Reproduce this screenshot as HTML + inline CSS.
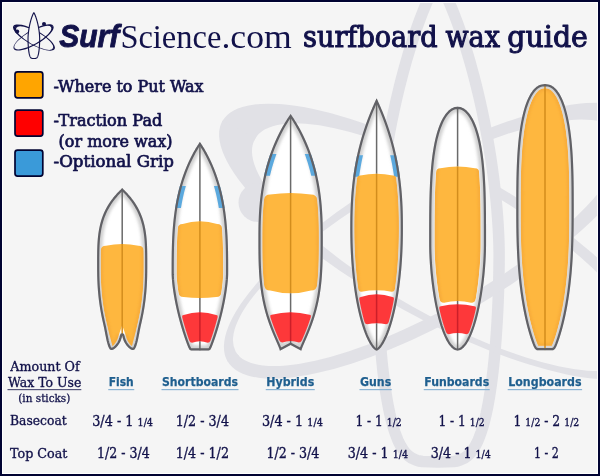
<!DOCTYPE html>
<html><head><meta charset="utf-8"><title>Surfboard Wax Guide</title>
<style>html,body{margin:0;padding:0;background:#f5f5f5;overflow:hidden;} svg{display:block;}</style>
</head><body>
<svg width="600" height="476" viewBox="0 0 600 476">
<defs><filter id="blur2" x="-20%" y="-20%" width="140%" height="140%"><feGaussianBlur stdDeviation="1.8"/></filter><filter id="blur1" x="-20%" y="-20%" width="140%" height="140%"><feGaussianBlur stdDeviation="1"/></filter>
<clipPath id="c0"><path d="M122.2,188.2 L122.52,188.5 L122.85,188.8 L123.17,189.1 L123.48,189.4 L123.8,189.7 L124.11,190 L124.41,190.3 L124.72,190.6 L125.02,190.9 L125.32,191.2 L126.1,192 L126.86,192.8 L127.61,193.6 L128.33,194.4 L129.04,195.2 L129.73,196 L130.39,196.8 L131.05,197.6 L131.68,198.4 L132.29,199.2 L132.89,200 L133.47,200.8 L135.18,203.3 L136.74,205.8 L138.15,208.3 L139.42,210.8 L140.57,213.3 L141.59,215.8 L142.5,218.3 L143.3,220.8 L144,223.3 L144.61,225.8 L145.14,228.3 L145.59,230.8 L145.97,233.3 L146.29,235.8 L146.55,238.3 L146.76,240.8 L146.92,243.3 L147.05,245.8 L147.14,248.3 L147.21,250.8 L147.25,253.3 L147.28,255.8 L147.3,258.3 L147.3,260.8 L147.3,263.3 L147.3,265.8 L147.3,268.3 L147.28,270.8 L147.25,273.3 L147.21,275.8 L147.14,278.3 L147.05,280.8 L146.94,283.3 L146.81,285.8 L146.64,288.3 L146.46,290.8 L146.24,293.3 L146,295.8 L145.73,298.3 L145.43,300.8 L145.1,303.3 L144.74,305.8 L144.35,308.3 L143.92,310.8 L143.47,313.3 L142.99,315.8 L142.48,318.3 L141.94,320.8 L141.38,323.3 L140.98,325 L140.53,327.03 L140.09,329.22 L139.64,331.54 L139.18,333.91 L138.72,336.3 L138.23,338.66 L137.73,340.93 L137.19,343.05 L136.63,345 L136.04,346.7 L135.4,348.11 L134.72,349.18 L133.99,349.86 L133.2,350.1 L132.32,350 L131.4,349.71 L130.45,349.24 L129.5,348.6 L128.54,347.81 L127.6,346.87 L126.69,345.8 L125.82,344.6 L125,343.3 L124.25,341.89 L123.58,340.4 L123.01,338.83 L122.54,337.19 L122.2,335.5 L121.86,337.19 L121.39,338.83 L120.82,340.4 L120.15,341.89 L119.4,343.3 L118.58,344.6 L117.71,345.8 L116.8,346.87 L115.86,347.81 L114.9,348.6 L113.95,349.24 L113,349.71 L112.08,350 L111.2,350.1 L110.41,349.86 L109.68,349.18 L109,348.11 L108.36,346.7 L107.77,345 L107.21,343.05 L106.67,340.93 L106.17,338.66 L105.68,336.3 L105.22,333.91 L104.76,331.54 L104.31,329.22 L103.87,327.03 L103.42,325 L103.02,323.3 L102.46,320.8 L101.92,318.3 L101.41,315.8 L100.93,313.3 L100.48,310.8 L100.05,308.3 L99.66,305.8 L99.3,303.3 L98.97,300.8 L98.67,298.3 L98.4,295.8 L98.16,293.3 L97.94,290.8 L97.76,288.3 L97.59,285.8 L97.46,283.3 L97.35,280.8 L97.26,278.3 L97.19,275.8 L97.15,273.3 L97.12,270.8 L97.1,268.3 L97.1,265.8 L97.1,263.3 L97.1,260.8 L97.1,258.3 L97.12,255.8 L97.15,253.3 L97.19,250.8 L97.26,248.3 L97.35,245.8 L97.48,243.3 L97.64,240.8 L97.85,238.3 L98.11,235.8 L98.43,233.3 L98.81,230.8 L99.26,228.3 L99.79,225.8 L100.4,223.3 L101.1,220.8 L101.9,218.3 L102.81,215.8 L103.83,213.3 L104.98,210.8 L106.25,208.3 L107.66,205.8 L109.22,203.3 L110.93,200.8 L111.51,200 L112.11,199.2 L112.72,198.4 L113.35,197.6 L114.01,196.8 L114.67,196 L115.36,195.2 L116.07,194.4 L116.79,193.6 L117.54,192.8 L118.3,192 L119.08,191.2 L119.38,190.9 L119.68,190.6 L119.99,190.3 L120.29,190 L120.6,189.7 L120.92,189.4 L121.23,189.1 L121.55,188.8 L121.88,188.5 Z"/></clipPath>
<clipPath id="w0"><path d="M122.2,193.1 L120.08,191.14 L120.39,191.43 L120.69,191.72 L121,192.01 L121.3,192.29 L121.6,192.58 L121.89,192.87 L122.18,193.16 L122.47,193.45 L122.76,193.73 L123.51,194.5 L124.24,195.27 L124.96,196.03 L125.65,196.8 L126.32,197.56 L126.98,198.33 L127.62,199.09 L128.24,199.85 L128.84,200.61 L129.43,201.38 L129.99,202.14 L130.53,202.88 L132.17,205.27 L133.64,207.64 L134.98,210 L136.18,212.37 L137.26,214.73 L138.23,217.1 L139.09,219.46 L139.85,221.84 L140.52,224.21 L141.1,226.6 L141.61,228.99 L142.04,231.39 L142.4,233.8 L142.71,236.21 L142.96,238.64 L143.17,241.07 L143.33,243.51 L143.45,245.96 L143.54,248.42 L143.61,250.88 L143.65,253.35 L143.68,255.83 L143.7,258.32 L143.7,260.81 L143.7,263.3 L143.7,265.8 L143.7,268.29 L143.68,270.77 L143.65,273.24 L143.61,275.72 L143.54,278.19 L143.45,280.66 L143.35,283.12 L143.21,285.59 L143.05,288.05 L142.87,290.51 L142.66,292.97 L142.42,295.43 L142.15,297.89 L141.86,300.35 L141.53,302.81 L141.18,305.26 L140.79,307.72 L140.38,310.18 L139.93,312.64 L139.46,315.1 L138.96,317.56 L138.43,320.02 L137.87,322.49 L137.47,324.2 L137.01,326.28 L136.56,328.52 L136.1,330.85 L135.65,333.23 L135.19,335.6 L134.71,337.9 L134.22,340.1 L133.72,342.12 L133.2,343.9 L132.69,345.36 L132.22,346.39 L131.93,346.86 L132.14,346.66 L132.87,346.44 L133.07,346.46 L132.75,346.36 L132.26,346.12 L131.65,345.71 L130.97,345.15 L130.25,344.43 L129.52,343.57 L128.8,342.59 L128.12,341.5 L127.49,340.31 L126.92,339.05 L126.44,337.72 L126.04,336.34 L122.2,325.21 L118.36,336.34 L117.96,337.72 L117.48,339.05 L116.91,340.31 L116.28,341.5 L115.6,342.59 L114.88,343.57 L114.15,344.43 L113.43,345.15 L112.75,345.71 L112.14,346.12 L111.65,346.36 L111.33,346.46 L111.53,346.44 L112.26,346.66 L112.47,346.86 L112.18,346.39 L111.71,345.36 L111.2,343.9 L110.68,342.12 L110.18,340.1 L109.69,337.9 L109.21,335.6 L108.75,333.23 L108.3,330.85 L107.84,328.52 L107.39,326.28 L106.93,324.2 L106.53,322.49 L105.97,320.02 L105.44,317.56 L104.94,315.1 L104.47,312.64 L104.02,310.18 L103.61,307.72 L103.22,305.26 L102.87,302.81 L102.54,300.35 L102.25,297.89 L101.98,295.43 L101.74,292.97 L101.53,290.51 L101.35,288.05 L101.19,285.59 L101.05,283.12 L100.95,280.66 L100.86,278.19 L100.79,275.72 L100.75,273.24 L100.72,270.77 L100.7,268.29 L100.7,265.8 L100.7,263.3 L100.7,260.81 L100.7,258.32 L100.72,255.83 L100.75,253.35 L100.79,250.88 L100.86,248.42 L100.95,245.96 L101.07,243.51 L101.23,241.07 L101.44,238.64 L101.69,236.21 L102,233.8 L102.36,231.39 L102.79,228.99 L103.3,226.6 L103.88,224.21 L104.55,221.84 L105.31,219.46 L106.17,217.1 L107.14,214.73 L108.22,212.37 L109.42,210 L110.76,207.64 L112.23,205.27 L113.87,202.88 L114.41,202.14 L114.97,201.38 L115.56,200.61 L116.16,199.85 L116.78,199.09 L117.42,198.33 L118.08,197.56 L118.75,196.8 L119.44,196.03 L120.16,195.27 L120.89,194.5 L121.64,193.73 L121.93,193.45 L122.22,193.16 L122.51,192.87 L122.8,192.58 L123.1,192.29 L123.4,192.01 L123.71,191.72 L124.01,191.43 L124.32,191.14 Z"/></clipPath>
<clipPath id="wx0"><path d="M105.95,245.8 Q122.2,242.2 138.45,245.8 Q143.45,245.8 143.61,250.8 L143.67,254.41 L143.69,258.01 L143.7,261.62 L143.7,265.22 L143.7,268.82 L143.67,272.43 L143.6,276.04 L143.5,279.64 L143.34,283.25 L143.14,286.85 L142.89,290.45 L142.57,294.06 L142.2,297.67 L141.77,301.27 L141.27,304.88 L140.72,308.48 L140.1,312.08 L139.41,315.69 L138.67,319.3 L137.87,322.9 L137.02,326.5 L136.12,330.11 L135.18,333.72 L134.21,337.32 L133.24,340.93 L132.29,344.53 L131.43,348.13 L131.1,351.74 L131.1,355.35 L131.1,358.95 L131.1,362.56 L131.1,366.16 L131.1,369.76 L131.1,373.37 L131.1,376.98 L131.1,380.58 L131.1,384.19 L131.1,387.79 L131.1,391.39 L131.1,395 Q131.1,400 126.1,400 Q122.2,400 118.3,400 Q113.3,400 113.3,395 L113.3,391.39 L113.3,387.79 L113.3,384.19 L113.3,380.58 L113.3,376.98 L113.3,373.37 L113.3,369.76 L113.3,366.16 L113.3,362.56 L113.3,358.95 L113.3,355.35 L113.3,351.74 L112.97,348.13 L112.11,344.53 L111.16,340.93 L110.19,337.32 L109.22,333.72 L108.28,330.11 L107.38,326.5 L106.53,322.9 L105.73,319.3 L104.99,315.69 L104.3,312.08 L103.68,308.48 L103.13,304.88 L102.63,301.27 L102.2,297.67 L101.83,294.06 L101.51,290.45 L101.26,286.85 L101.06,283.25 L100.9,279.64 L100.8,276.04 L100.73,272.43 L100.7,268.82 L100.7,265.22 L100.7,261.62 L100.71,258.01 L100.73,254.41 L100.79,250.8 Q100.95,245.8 105.95,245.8 Z"/></clipPath>
<clipPath id="c1"><path d="M199.9,142.1 L200.14,142.4 L200.36,142.7 L200.58,143 L200.79,143.3 L201,143.6 L201.21,143.9 L201.41,144.2 L201.61,144.5 L201.81,144.8 L202.01,145.1 L202.53,145.9 L203.04,146.7 L203.53,147.5 L204.02,148.3 L204.5,149.1 L204.97,149.9 L205.43,150.7 L205.88,151.5 L206.33,152.3 L206.77,153.1 L207.2,153.9 L207.63,154.7 L208.92,157.2 L210.15,159.7 L211.32,162.2 L212.43,164.7 L213.49,167.2 L214.5,169.7 L215.46,172.2 L216.38,174.7 L217.25,177.2 L218.07,179.7 L218.85,182.2 L219.59,184.7 L220.29,187.2 L220.95,189.7 L221.57,192.2 L222.15,194.7 L222.7,197.2 L223.22,199.7 L223.7,202.2 L224.15,204.7 L224.57,207.2 L224.96,209.7 L225.32,212.2 L225.65,214.7 L225.95,217.2 L226.24,219.7 L226.49,222.2 L226.73,224.7 L226.94,227.2 L227.13,229.7 L227.3,232.2 L227.45,234.7 L227.58,237.2 L227.7,239.7 L227.8,242.2 L227.89,244.7 L227.96,247.2 L228.02,249.7 L228.07,252.2 L228.11,254.7 L228.14,257.2 L228.17,259.7 L228.18,262.2 L228.19,264.7 L228.2,267.2 L228.2,269.7 L228.2,272.2 L228.18,274.7 L228.06,277.2 L227.89,279.7 L227.66,282.2 L227.4,284.7 L227.1,287.2 L226.77,289.7 L226.4,292.2 L226.01,294.7 L225.58,297.2 L225.13,299.7 L224.65,302.2 L224.14,304.7 L223.61,307.2 L223.05,309.7 L222.47,312.2 L221.86,314.7 L221.23,317.2 L220.57,319.7 L219.89,322.2 L219.19,324.7 L218.46,327.2 L217.71,329.7 L216.93,332.2 L216.12,334.7 L215.29,337.2 L214.42,339.7 L213.53,342.2 L212.59,344.7 L211.61,347.2 L210.59,349.3 L210.25,349.66 L209.89,349.96 L209.51,350.19 L209.11,350.35 L208.71,350.4 L199.9,350.4 L191.09,350.4 L190.69,350.35 L190.29,350.19 L189.91,349.96 L189.55,349.66 L189.21,349.3 L188.19,347.2 L187.21,344.7 L186.27,342.2 L185.38,339.7 L184.51,337.2 L183.68,334.7 L182.87,332.2 L182.09,329.7 L181.34,327.2 L180.61,324.7 L179.91,322.2 L179.23,319.7 L178.57,317.2 L177.94,314.7 L177.33,312.2 L176.75,309.7 L176.19,307.2 L175.66,304.7 L175.15,302.2 L174.67,299.7 L174.22,297.2 L173.79,294.7 L173.4,292.2 L173.03,289.7 L172.7,287.2 L172.4,284.7 L172.14,282.2 L171.91,279.7 L171.74,277.2 L171.62,274.7 L171.6,272.2 L171.6,269.7 L171.6,267.2 L171.61,264.7 L171.62,262.2 L171.63,259.7 L171.66,257.2 L171.69,254.7 L171.73,252.2 L171.78,249.7 L171.84,247.2 L171.91,244.7 L172,242.2 L172.1,239.7 L172.22,237.2 L172.35,234.7 L172.5,232.2 L172.67,229.7 L172.86,227.2 L173.07,224.7 L173.31,222.2 L173.56,219.7 L173.85,217.2 L174.15,214.7 L174.48,212.2 L174.84,209.7 L175.23,207.2 L175.65,204.7 L176.1,202.2 L176.58,199.7 L177.1,197.2 L177.65,194.7 L178.23,192.2 L178.85,189.7 L179.51,187.2 L180.21,184.7 L180.95,182.2 L181.73,179.7 L182.55,177.2 L183.42,174.7 L184.34,172.2 L185.3,169.7 L186.31,167.2 L187.37,164.7 L188.48,162.2 L189.65,159.7 L190.88,157.2 L192.17,154.7 L192.6,153.9 L193.03,153.1 L193.47,152.3 L193.92,151.5 L194.37,150.7 L194.83,149.9 L195.3,149.1 L195.78,148.3 L196.27,147.5 L196.76,146.7 L197.27,145.9 L197.79,145.1 L197.99,144.8 L198.19,144.5 L198.39,144.2 L198.59,143.9 L198.8,143.6 L199.01,143.3 L199.22,143 L199.44,142.7 L199.66,142.4 Z"/></clipPath>
<clipPath id="w1"><path d="M199.9,150.1 L196.18,145.46 L196.33,145.66 L196.52,145.91 L196.7,146.18 L196.89,146.45 L197.08,146.72 L197.27,147 L197.46,147.28 L197.64,147.56 L197.82,147.83 L198.32,148.6 L198.8,149.36 L199.27,150.12 L199.74,150.88 L200.2,151.65 L200.65,152.42 L201.09,153.19 L201.53,153.95 L201.96,154.72 L202.38,155.49 L202.8,156.26 L203.2,157.02 L204.45,159.45 L205.64,161.86 L206.77,164.28 L207.85,166.7 L208.87,169.11 L209.85,171.53 L210.78,173.96 L211.67,176.38 L212.51,178.8 L213.31,181.23 L214.07,183.65 L214.78,186.08 L215.46,188.51 L216.1,190.94 L216.71,193.37 L217.28,195.81 L217.81,198.24 L218.31,200.68 L218.78,203.12 L219.22,205.56 L219.63,208 L220.01,210.44 L220.36,212.89 L220.69,215.33 L220.99,217.78 L221.26,220.23 L221.52,222.69 L221.75,225.14 L221.95,227.6 L222.14,230.06 L222.31,232.52 L222.46,234.98 L222.59,237.45 L222.7,239.92 L222.8,242.39 L222.89,244.86 L222.96,247.33 L223.02,249.81 L223.07,252.29 L223.11,254.77 L223.14,257.25 L223.17,259.74 L223.18,262.23 L223.19,264.72 L223.2,267.21 L223.2,269.7 L223.2,272.17 L223.18,274.56 L223.07,276.91 L222.9,279.31 L222.69,281.72 L222.43,284.14 L222.14,286.57 L221.82,289.01 L221.46,291.45 L221.07,293.89 L220.66,296.34 L220.21,298.78 L219.74,301.23 L219.25,303.68 L218.73,306.13 L218.18,308.59 L217.61,311.04 L217.01,313.5 L216.39,315.95 L215.74,318.41 L215.08,320.87 L214.38,323.32 L213.67,325.78 L212.93,328.23 L212.16,330.69 L211.37,333.14 L210.55,335.59 L209.71,338.04 L208.83,340.48 L207.92,342.91 L207.03,345.19 L206.43,346.42 L206.82,346.01 L206.95,345.9 L207.28,345.69 L207.88,345.47 L208.38,345.4 L199.9,345.4 L191.42,345.4 L191.92,345.47 L192.52,345.69 L192.85,345.9 L192.98,346.01 L193.37,346.42 L192.77,345.19 L191.88,342.91 L190.97,340.48 L190.09,338.04 L189.25,335.59 L188.43,333.14 L187.64,330.69 L186.87,328.23 L186.13,325.78 L185.42,323.32 L184.72,320.87 L184.06,318.41 L183.41,315.95 L182.79,313.5 L182.19,311.04 L181.62,308.59 L181.07,306.13 L180.55,303.68 L180.06,301.23 L179.59,298.78 L179.14,296.34 L178.73,293.89 L178.34,291.45 L177.98,289.01 L177.66,286.57 L177.37,284.14 L177.11,281.72 L176.9,279.31 L176.73,276.91 L176.62,274.56 L176.6,272.17 L176.6,269.7 L176.6,267.21 L176.61,264.72 L176.62,262.23 L176.63,259.74 L176.66,257.25 L176.69,254.77 L176.73,252.29 L176.78,249.81 L176.84,247.33 L176.91,244.86 L177,242.39 L177.1,239.92 L177.21,237.45 L177.34,234.98 L177.49,232.52 L177.66,230.06 L177.85,227.6 L178.05,225.14 L178.28,222.69 L178.54,220.23 L178.81,217.78 L179.11,215.33 L179.44,212.89 L179.79,210.44 L180.17,208 L180.58,205.56 L181.02,203.12 L181.49,200.68 L181.99,198.24 L182.52,195.81 L183.09,193.37 L183.7,190.94 L184.34,188.51 L185.02,186.08 L185.73,183.65 L186.49,181.23 L187.29,178.8 L188.13,176.38 L189.02,173.96 L189.95,171.53 L190.93,169.11 L191.95,166.7 L193.03,164.28 L194.16,161.86 L195.35,159.45 L196.6,157.02 L197,156.26 L197.42,155.49 L197.84,154.72 L198.27,153.95 L198.71,153.19 L199.15,152.42 L199.6,151.65 L200.06,150.88 L200.53,150.12 L201,149.36 L201.48,148.6 L201.98,147.83 L202.16,147.56 L202.34,147.28 L202.53,147 L202.72,146.72 L202.91,146.45 L203.1,146.18 L203.28,145.91 L203.47,145.66 L203.62,145.46 Z"/></clipPath>
<clipPath id="g1"><path d="M0,186.3 L600,185.5 L600,208 L0,208 Z"/></clipPath>
<clipPath id="wx1"><path d="M182.64,224 Q199.9,218.4 217.16,224 Q221.66,224 222.04,228.5 L222.16,230.1 L222.27,231.7 L222.37,233.3 L222.46,234.9 L222.55,236.5 L222.63,238.1 L222.7,239.7 L222.77,241.3 L222.83,242.9 L222.88,244.5 L222.93,246.1 L222.97,247.7 L223.01,249.3 L223.05,250.9 L223.08,252.5 L223.1,254.1 L223.13,255.7 L223.14,257.3 L223.16,258.9 L223.17,260.5 L223.18,262.1 L223.19,263.7 L223.19,265.3 L223.2,266.9 L223.2,268.5 L223.2,270.1 L223.2,271.7 L223.2,273.3 L223.17,274.9 L223.1,276.5 L223,278.1 L222.89,279.7 L222.75,281.3 L222.59,282.9 L222.42,284.5 L222.24,286.1 L222.04,287.7 L221.83,289.3 L221.6,290.9 L221.36,292.5 Q220.62,297 216.12,297 Q199.9,299.2 183.68,297 Q179.18,297 178.44,292.5 L178.2,290.9 L177.97,289.3 L177.76,287.7 L177.56,286.1 L177.38,284.5 L177.21,282.9 L177.05,281.3 L176.91,279.7 L176.8,278.1 L176.7,276.5 L176.63,274.9 L176.6,273.3 L176.6,271.7 L176.6,270.1 L176.6,268.5 L176.6,266.9 L176.61,265.3 L176.61,263.7 L176.62,262.1 L176.63,260.5 L176.64,258.9 L176.66,257.3 L176.67,255.7 L176.7,254.1 L176.72,252.5 L176.75,250.9 L176.79,249.3 L176.83,247.7 L176.87,246.1 L176.92,244.5 L176.97,242.9 L177.03,241.3 L177.1,239.7 L177.17,238.1 L177.25,236.5 L177.34,234.9 L177.43,233.3 L177.53,231.7 L177.64,230.1 L177.76,228.5 Q178.14,224 182.64,224 Z"/></clipPath>
<clipPath id="pd1"><path d="M183.64,315.1 Q199.9,309.5 216.16,315.1 Q218.16,315.1 217.66,317.1 L217.5,317.69 L217.35,318.29 L217.19,318.88 L217.04,319.47 L216.88,320.06 L216.72,320.66 L216.56,321.25 L216.39,321.84 L216.23,322.43 L216.06,323.03 L215.9,323.62 L215.73,324.21 L215.56,324.8 L215.39,325.4 L215.22,325.99 L215.04,326.58 L214.87,327.17 L214.69,327.77 L214.51,328.36 L214.34,328.95 L214.15,329.54 L213.97,330.13 L213.79,330.73 L213.6,331.32 L213.42,331.91 L213.23,332.5 L213.04,333.1 L212.85,333.69 L212.66,334.28 L212.46,334.88 L212.27,335.47 L212.07,336.06 L211.87,336.65 L211.67,337.25 L211.47,337.84 L211.27,338.43 L211.06,339.02 L210.85,339.62 L210.64,340.21 L210.43,340.8 Q209.71,342.8 207.71,342.8 Q199.9,339.8 192.09,342.8 Q190.09,342.8 189.37,340.8 L189.16,340.21 L188.95,339.62 L188.74,339.02 L188.53,338.43 L188.33,337.84 L188.13,337.25 L187.93,336.65 L187.73,336.06 L187.53,335.47 L187.34,334.88 L187.14,334.28 L186.95,333.69 L186.76,333.1 L186.57,332.5 L186.38,331.91 L186.2,331.32 L186.01,330.73 L185.83,330.13 L185.65,329.54 L185.46,328.95 L185.29,328.36 L185.11,327.77 L184.93,327.17 L184.76,326.58 L184.58,325.99 L184.41,325.4 L184.24,324.8 L184.07,324.21 L183.9,323.62 L183.74,323.03 L183.57,322.43 L183.41,321.84 L183.24,321.25 L183.08,320.66 L182.92,320.06 L182.76,319.47 L182.61,318.88 L182.45,318.29 L182.3,317.69 L182.14,317.1 Q181.64,315.1 183.64,315.1 Z"/></clipPath>
<clipPath id="c2"><path d="M290.6,114.2 L290.85,114.5 L291.07,114.8 L291.3,115.1 L291.52,115.4 L291.73,115.7 L291.94,116 L292.15,116.3 L292.36,116.6 L292.57,116.9 L292.77,117.2 L292.97,117.5 L293.5,118.3 L294.02,119.1 L294.54,119.9 L295.04,120.7 L295.54,121.5 L296.02,122.3 L296.51,123.1 L296.98,123.9 L297.45,124.7 L297.91,125.5 L298.37,126.3 L299.75,128.8 L301.08,131.3 L302.35,133.8 L303.58,136.3 L304.75,138.8 L305.88,141.3 L306.96,143.8 L308,146.3 L309,148.8 L309.95,151.3 L310.86,153.8 L311.72,156.3 L312.55,158.8 L313.34,161.3 L314.09,163.8 L314.81,166.3 L315.48,168.8 L316.12,171.3 L316.73,173.8 L317.3,176.3 L317.84,178.8 L318.34,181.3 L318.81,183.8 L319.26,186.3 L319.67,188.8 L320.05,191.3 L320.4,193.8 L320.72,196.3 L321.02,198.8 L321.29,201.3 L321.53,203.8 L321.75,206.3 L321.94,208.8 L322.11,211.3 L322.26,213.8 L322.39,216.3 L322.5,218.8 L322.59,221.3 L322.66,223.8 L322.71,226.3 L322.75,228.8 L322.78,231.3 L322.79,233.8 L322.8,236.3 L322.8,238.8 L322.8,241.3 L322.8,243.8 L322.79,246.3 L322.78,248.8 L322.76,251.3 L322.74,253.8 L322.7,256.3 L322.66,258.8 L322.6,261.3 L322.52,263.8 L322.43,266.3 L322.32,268.8 L322.19,271.3 L322.04,273.8 L321.87,276.3 L321.67,278.8 L321.44,281.3 L321.19,283.8 L320.9,286.3 L320.59,288.8 L320.24,291.3 L319.86,293.8 L319.44,296.3 L318.98,298.8 L318.49,301.3 L317.95,303.8 L317.38,306.3 L316.76,308.8 L316.1,311.3 L315.4,313.8 L314.66,316.3 L313.87,318.8 L313.04,321.3 L312.16,323.8 L311.25,326.3 L310.29,328.8 L309.3,331.3 L308.27,333.8 L307.21,336.3 L306.13,338.8 L305.04,341.3 L303.95,343.8 L302.88,346.3 L301.88,348.8 L301.29,350.7 L290.6,345 L279.91,350.7 L279.32,348.8 L278.32,346.3 L277.25,343.8 L276.16,341.3 L275.07,338.8 L273.99,336.3 L272.93,333.8 L271.9,331.3 L270.91,328.8 L269.95,326.3 L269.04,323.8 L268.16,321.3 L267.33,318.8 L266.54,316.3 L265.8,313.8 L265.1,311.3 L264.44,308.8 L263.82,306.3 L263.25,303.8 L262.71,301.3 L262.22,298.8 L261.76,296.3 L261.34,293.8 L260.96,291.3 L260.61,288.8 L260.3,286.3 L260.01,283.8 L259.76,281.3 L259.53,278.8 L259.33,276.3 L259.16,273.8 L259.01,271.3 L258.88,268.8 L258.77,266.3 L258.68,263.8 L258.6,261.3 L258.54,258.8 L258.5,256.3 L258.46,253.8 L258.44,251.3 L258.42,248.8 L258.41,246.3 L258.4,243.8 L258.4,241.3 L258.4,238.8 L258.4,236.3 L258.41,233.8 L258.42,231.3 L258.45,228.8 L258.49,226.3 L258.54,223.8 L258.61,221.3 L258.7,218.8 L258.81,216.3 L258.94,213.8 L259.09,211.3 L259.26,208.8 L259.45,206.3 L259.67,203.8 L259.91,201.3 L260.18,198.8 L260.48,196.3 L260.8,193.8 L261.15,191.3 L261.53,188.8 L261.94,186.3 L262.39,183.8 L262.86,181.3 L263.36,178.8 L263.9,176.3 L264.47,173.8 L265.08,171.3 L265.72,168.8 L266.39,166.3 L267.11,163.8 L267.86,161.3 L268.65,158.8 L269.48,156.3 L270.34,153.8 L271.25,151.3 L272.2,148.8 L273.2,146.3 L274.24,143.8 L275.32,141.3 L276.45,138.8 L277.62,136.3 L278.85,133.8 L280.12,131.3 L281.45,128.8 L282.83,126.3 L283.29,125.5 L283.75,124.7 L284.22,123.9 L284.69,123.1 L285.18,122.3 L285.66,121.5 L286.16,120.7 L286.66,119.9 L287.18,119.1 L287.7,118.3 L288.23,117.5 L288.43,117.2 L288.63,116.9 L288.84,116.6 L289.05,116.3 L289.26,116 L289.47,115.7 L289.68,115.4 L289.9,115.1 L290.13,114.8 L290.35,114.5 Z"/></clipPath>
<clipPath id="w2"><path d="M290.6,120.35 L287.79,116.92 L287.96,117.15 L288.15,117.41 L288.35,117.68 L288.55,117.96 L288.75,118.24 L288.95,118.53 L289.15,118.81 L289.34,119.1 L289.54,119.38 L289.73,119.67 L290.24,120.44 L290.75,121.22 L291.24,121.99 L291.73,122.77 L292.21,123.54 L292.69,124.32 L293.16,125.1 L293.62,125.88 L294.08,126.66 L294.53,127.44 L294.96,128.21 L296.32,130.66 L297.62,133.1 L298.87,135.54 L300.06,137.99 L301.21,140.43 L302.31,142.88 L303.37,145.32 L304.39,147.77 L305.36,150.21 L306.29,152.66 L307.18,155.11 L308.03,157.55 L308.84,160 L309.61,162.45 L310.35,164.9 L311.05,167.34 L311.71,169.79 L312.34,172.24 L312.93,174.69 L313.49,177.14 L314.02,179.6 L314.51,182.05 L314.98,184.5 L315.41,186.95 L315.81,189.41 L316.19,191.86 L316.53,194.32 L316.85,196.78 L317.14,199.24 L317.41,201.7 L317.65,204.16 L317.86,206.62 L318.05,209.08 L318.22,211.55 L318.37,214.02 L318.49,216.48 L318.6,218.95 L318.69,221.42 L318.76,223.9 L318.81,226.37 L318.85,228.85 L318.88,231.33 L318.89,233.82 L318.9,236.31 L318.9,238.8 L318.9,241.3 L318.9,243.79 L318.89,246.29 L318.88,248.78 L318.86,251.27 L318.84,253.75 L318.8,256.24 L318.76,258.72 L318.7,261.2 L318.62,263.67 L318.53,266.14 L318.43,268.61 L318.3,271.08 L318.15,273.55 L317.98,276.01 L317.78,278.47 L317.56,280.93 L317.31,283.38 L317.03,285.84 L316.72,288.29 L316.38,290.74 L316.01,293.18 L315.6,295.63 L315.15,298.07 L314.67,300.51 L314.14,302.96 L313.58,305.4 L312.98,307.84 L312.34,310.28 L311.66,312.72 L310.93,315.16 L310.16,317.6 L309.35,320.04 L308.49,322.49 L307.6,324.93 L306.66,327.38 L305.68,329.84 L304.67,332.3 L303.63,334.77 L302.56,337.24 L301.47,339.74 L300.37,342.25 L299.27,344.81 L298.2,347.5 L298.97,345.04 L290.6,340.58 L282.23,345.04 L283,347.5 L281.93,344.81 L280.83,342.25 L279.73,339.74 L278.64,337.24 L277.57,334.77 L276.53,332.3 L275.52,329.84 L274.54,327.38 L273.6,324.93 L272.71,322.49 L271.85,320.04 L271.04,317.6 L270.27,315.16 L269.54,312.72 L268.86,310.28 L268.22,307.84 L267.62,305.4 L267.06,302.96 L266.53,300.51 L266.05,298.07 L265.6,295.63 L265.19,293.18 L264.82,290.74 L264.48,288.29 L264.17,285.84 L263.89,283.38 L263.64,280.93 L263.42,278.47 L263.22,276.01 L263.05,273.55 L262.9,271.08 L262.77,268.61 L262.67,266.14 L262.58,263.67 L262.5,261.2 L262.44,258.72 L262.4,256.24 L262.36,253.75 L262.34,251.27 L262.32,248.78 L262.31,246.29 L262.3,243.79 L262.3,241.3 L262.3,238.8 L262.3,236.31 L262.31,233.82 L262.32,231.33 L262.35,228.85 L262.39,226.37 L262.44,223.9 L262.51,221.42 L262.6,218.95 L262.71,216.48 L262.83,214.02 L262.98,211.55 L263.15,209.08 L263.34,206.62 L263.55,204.16 L263.79,201.7 L264.06,199.24 L264.35,196.78 L264.67,194.32 L265.01,191.86 L265.39,189.41 L265.79,186.95 L266.22,184.5 L266.69,182.05 L267.18,179.6 L267.71,177.14 L268.27,174.69 L268.86,172.24 L269.49,169.79 L270.15,167.34 L270.85,164.9 L271.59,162.45 L272.36,160 L273.17,157.55 L274.02,155.11 L274.91,152.66 L275.84,150.21 L276.81,147.77 L277.83,145.32 L278.89,142.88 L279.99,140.43 L281.14,137.99 L282.33,135.54 L283.58,133.1 L284.88,130.66 L286.24,128.21 L286.67,127.44 L287.12,126.66 L287.58,125.88 L288.04,125.1 L288.51,124.32 L288.99,123.54 L289.47,122.77 L289.96,121.99 L290.45,121.22 L290.96,120.44 L291.47,119.67 L291.66,119.38 L291.86,119.1 L292.05,118.81 L292.25,118.53 L292.45,118.24 L292.65,117.96 L292.85,117.68 L293.05,117.41 L293.24,117.15 L293.41,116.92 Z"/></clipPath>
<clipPath id="g2"><path d="M0,154.4 L600,153.6 L600,175.8 L0,175.8 Z"/></clipPath>
<clipPath id="wx2"><path d="M270.11,194.5 Q290.6,191.5 311.09,194.5 Q316.59,194.5 317.25,200 L317.47,202.12 L317.67,204.25 L317.85,206.38 L318.02,208.5 L318.17,210.62 L318.3,212.75 L318.42,214.88 L318.52,217 L318.61,219.12 L318.68,221.25 L318.75,223.38 L318.8,225.5 L318.83,227.62 L318.86,229.75 L318.88,231.88 L318.89,234 L318.9,236.12 L318.9,238.25 L318.9,240.38 L318.9,242.5 L318.89,244.62 L318.89,246.75 L318.88,248.88 L318.87,251 L318.85,253.12 L318.82,255.25 L318.78,257.38 L318.74,259.5 L318.69,261.62 L318.62,263.75 L318.55,265.88 L318.46,268 L318.36,270.12 L318.24,272.25 L318.1,274.38 L317.95,276.5 L317.78,278.62 L317.59,280.75 L317.38,282.88 L317.15,285 Q316.45,290.5 310.95,290.5 Q290.6,296.1 270.25,290.5 Q264.75,290.5 264.05,285 L263.82,282.88 L263.61,280.75 L263.42,278.62 L263.25,276.5 L263.1,274.38 L262.96,272.25 L262.84,270.12 L262.74,268 L262.65,265.88 L262.58,263.75 L262.51,261.62 L262.46,259.5 L262.42,257.38 L262.38,255.25 L262.35,253.12 L262.33,251 L262.32,248.88 L262.31,246.75 L262.31,244.62 L262.3,242.5 L262.3,240.38 L262.3,238.25 L262.3,236.12 L262.31,234 L262.32,231.88 L262.34,229.75 L262.37,227.62 L262.4,225.5 L262.45,223.38 L262.52,221.25 L262.59,219.12 L262.68,217 L262.78,214.88 L262.9,212.75 L263.03,210.62 L263.18,208.5 L263.35,206.38 L263.53,204.25 L263.73,202.12 L263.95,200 Q264.61,194.5 270.11,194.5 Z"/></clipPath>
<clipPath id="pd2"><path d="M271.69,314.8 Q290.6,309.6 309.51,314.8 Q311.51,314.8 310.9,316.8 L310.72,317.4 L310.53,317.99 L310.34,318.59 L310.15,319.18 L309.95,319.78 L309.75,320.37 L309.55,320.97 L309.35,321.56 L309.14,322.16 L308.94,322.75 L308.73,323.35 L308.51,323.94 L308.3,324.54 L308.08,325.13 L307.86,325.73 L307.64,326.32 L307.42,326.92 L307.19,327.51 L306.96,328.11 L306.73,328.7 L306.5,329.3 L306.26,329.89 L306.03,330.49 L305.79,331.08 L305.55,331.68 L305.3,332.27 L305.06,332.87 L304.81,333.46 L304.57,334.06 L304.32,334.65 L304.06,335.25 L303.81,335.84 L303.56,336.44 L303.3,337.03 L303.04,337.62 L302.79,338.22 L302.53,338.81 L302.27,339.41 L302.01,340 L301.75,340.6 Q300.87,342.6 298.87,342.6 Q290.6,339.6 282.33,342.6 Q280.33,342.6 279.45,340.6 L279.19,340 L278.93,339.41 L278.67,338.81 L278.41,338.22 L278.16,337.62 L277.9,337.03 L277.64,336.44 L277.39,335.84 L277.14,335.25 L276.88,334.65 L276.63,334.06 L276.39,333.46 L276.14,332.87 L275.9,332.27 L275.65,331.68 L275.41,331.08 L275.17,330.49 L274.94,329.89 L274.7,329.3 L274.47,328.7 L274.24,328.11 L274.01,327.51 L273.78,326.92 L273.56,326.32 L273.34,325.73 L273.12,325.13 L272.9,324.54 L272.69,323.94 L272.47,323.35 L272.26,322.75 L272.06,322.16 L271.85,321.56 L271.65,320.97 L271.45,320.37 L271.25,319.78 L271.05,319.18 L270.86,318.59 L270.67,317.99 L270.48,317.4 L270.3,316.8 Q269.69,314.8 271.69,314.8 Z"/></clipPath>
<clipPath id="c3"><path d="M376.6,98.4 L376.74,98.7 L376.89,99 L377.03,99.3 L377.17,99.6 L377.31,99.9 L377.45,100.2 L377.59,100.5 L377.73,100.8 L377.87,101.1 L378.01,101.4 L378.15,101.7 L378.51,102.5 L378.88,103.3 L379.24,104.1 L379.6,104.9 L379.95,105.7 L380.3,106.5 L380.65,107.3 L380.99,108.1 L381.34,108.9 L381.68,109.7 L382.01,110.5 L383.04,113 L384.04,115.5 L385.01,118 L385.95,120.5 L386.87,123 L387.75,125.5 L388.6,128 L389.43,130.5 L390.23,133 L391,135.5 L391.74,138 L392.46,140.5 L393.15,143 L393.81,145.5 L394.45,148 L395.06,150.5 L395.64,153 L396.2,155.5 L396.73,158 L397.24,160.5 L397.72,163 L398.18,165.5 L398.61,168 L399.03,170.5 L399.41,173 L399.78,175.5 L400.12,178 L400.44,180.5 L400.74,183 L401.01,185.5 L401.27,188 L401.5,190.5 L401.72,193 L401.91,195.5 L402.09,198 L402.24,200.5 L402.38,203 L402.5,205.5 L402.61,208 L402.7,210.5 L402.77,213 L402.83,215.5 L402.87,218 L402.9,220.5 L402.92,223 L402.93,225.5 L402.94,228 L402.93,230.5 L402.92,233 L402.89,235.5 L402.85,238 L402.8,240.5 L402.74,243 L402.66,245.5 L402.57,248 L402.47,250.5 L402.35,253 L402.22,255.5 L402.08,258 L401.92,260.5 L401.74,263 L401.55,265.5 L401.35,268 L401.13,270.5 L400.89,273 L400.64,275.5 L400.37,278 L400.08,280.5 L399.77,283 L399.45,285.5 L399.11,288 L398.74,290.5 L398.36,293 L397.96,295.5 L397.53,298 L397.08,300.5 L396.61,303 L396.12,305.5 L395.59,308 L395.04,310.5 L394.46,313 L393.85,315.5 L393.21,318 L392.53,320.5 L391.81,323 L391.05,325.5 L390.23,328 L389.37,330.5 L388.44,333 L387.44,335.5 L386.36,338 L385.16,340.5 L384.75,341.3 L384.32,342.1 L383.88,342.9 L383.41,343.7 L382.92,344.5 L382.4,345.3 L381.85,346.1 L381.26,346.9 L380.61,347.7 L380.35,348 L380.08,348.3 L379.79,348.6 L379.49,348.9 L379.16,349.2 L378.8,349.5 L378.41,349.8 L377.95,350.1 L377.37,350.4 L376.61,350.6 L376.59,350.6 L375.83,350.4 L375.25,350.1 L374.79,349.8 L374.4,349.5 L374.04,349.2 L373.71,348.9 L373.41,348.6 L373.12,348.3 L372.85,348 L372.59,347.7 L371.94,346.9 L371.35,346.1 L370.8,345.3 L370.28,344.5 L369.79,343.7 L369.32,342.9 L368.88,342.1 L368.45,341.3 L368.04,340.5 L366.84,338 L365.76,335.5 L364.76,333 L363.83,330.5 L362.97,328 L362.15,325.5 L361.39,323 L360.67,320.5 L359.99,318 L359.35,315.5 L358.74,313 L358.16,310.5 L357.61,308 L357.08,305.5 L356.59,303 L356.12,300.5 L355.67,298 L355.24,295.5 L354.84,293 L354.46,290.5 L354.09,288 L353.75,285.5 L353.43,283 L353.12,280.5 L352.83,278 L352.56,275.5 L352.31,273 L352.07,270.5 L351.85,268 L351.65,265.5 L351.46,263 L351.28,260.5 L351.12,258 L350.98,255.5 L350.85,253 L350.73,250.5 L350.63,248 L350.54,245.5 L350.46,243 L350.4,240.5 L350.35,238 L350.31,235.5 L350.28,233 L350.27,230.5 L350.26,228 L350.27,225.5 L350.28,223 L350.3,220.5 L350.33,218 L350.37,215.5 L350.43,213 L350.5,210.5 L350.59,208 L350.7,205.5 L350.82,203 L350.96,200.5 L351.11,198 L351.29,195.5 L351.48,193 L351.7,190.5 L351.93,188 L352.19,185.5 L352.46,183 L352.76,180.5 L353.08,178 L353.42,175.5 L353.79,173 L354.17,170.5 L354.59,168 L355.02,165.5 L355.48,163 L355.96,160.5 L356.47,158 L357,155.5 L357.56,153 L358.14,150.5 L358.75,148 L359.39,145.5 L360.05,143 L360.74,140.5 L361.46,138 L362.2,135.5 L362.97,133 L363.77,130.5 L364.6,128 L365.45,125.5 L366.33,123 L367.25,120.5 L368.19,118 L369.16,115.5 L370.16,113 L371.19,110.5 L371.52,109.7 L371.86,108.9 L372.21,108.1 L372.55,107.3 L372.9,106.5 L373.25,105.7 L373.6,104.9 L373.96,104.1 L374.32,103.3 L374.69,102.5 L375.05,101.7 L375.19,101.4 L375.33,101.1 L375.47,100.8 L375.61,100.5 L375.75,100.2 L375.89,99.9 L376.03,99.6 L376.17,99.3 L376.31,99 L376.46,98.7 Z"/></clipPath>
<clipPath id="w3"><path d="M376.6,107.7 L373.13,100.42 L373.27,100.71 L373.41,101.01 L373.55,101.3 L373.69,101.6 L373.83,101.9 L373.97,102.19 L374.1,102.49 L374.24,102.78 L374.38,103.08 L374.51,103.37 L374.88,104.16 L375.23,104.95 L375.59,105.74 L375.94,106.53 L376.29,107.31 L376.64,108.1 L376.98,108.89 L377.32,109.68 L377.66,110.47 L377.99,111.25 L378.32,112.04 L379.34,114.5 L380.32,116.97 L381.28,119.43 L382.2,121.89 L383.1,124.35 L383.97,126.81 L384.81,129.28 L385.63,131.74 L386.41,134.2 L387.17,136.66 L387.9,139.12 L388.61,141.58 L389.29,144.04 L389.94,146.51 L390.57,148.97 L391.17,151.43 L391.74,153.89 L392.29,156.35 L392.82,158.81 L393.32,161.28 L393.79,163.74 L394.24,166.2 L394.67,168.67 L395.08,171.13 L395.46,173.59 L395.82,176.06 L396.15,178.52 L396.47,180.99 L396.76,183.46 L397.03,185.92 L397.29,188.39 L397.52,190.86 L397.73,193.33 L397.92,195.8 L398.1,198.27 L398.25,200.74 L398.39,203.21 L398.51,205.68 L398.61,208.15 L398.7,210.63 L398.77,213.1 L398.83,215.58 L398.87,218.06 L398.9,220.54 L398.92,223.02 L398.93,225.51 L398.94,228 L398.93,230.48 L398.92,232.97 L398.89,235.45 L398.85,237.93 L398.8,240.41 L398.74,242.89 L398.66,245.37 L398.57,247.85 L398.47,250.32 L398.36,252.8 L398.23,255.28 L398.08,257.76 L397.93,260.23 L397.75,262.71 L397.56,265.19 L397.36,267.66 L397.14,270.14 L396.91,272.61 L396.66,275.08 L396.39,277.56 L396.11,280.03 L395.8,282.5 L395.48,284.97 L395.14,287.44 L394.79,289.91 L394.41,292.38 L394.01,294.85 L393.59,297.31 L393.15,299.78 L392.68,302.24 L392.2,304.7 L391.68,307.16 L391.14,309.62 L390.57,312.07 L389.97,314.53 L389.34,316.98 L388.68,319.42 L387.97,321.86 L387.23,324.3 L386.44,326.73 L385.6,329.15 L384.71,331.56 L383.75,333.96 L382.72,336.34 L381.58,338.72 L381.21,339.44 L380.81,340.19 L380.4,340.92 L379.98,341.65 L379.54,342.37 L379.08,343.08 L378.6,343.77 L378.1,344.45 L377.55,345.13 L377.36,345.34 L377.15,345.57 L376.94,345.79 L376.73,346 L376.51,346.2 L376.3,346.38 L376.1,346.53 L375.94,346.64 L375.93,346.64 L376.09,346.6 L377.11,346.6 L377.27,346.64 L377.26,346.64 L377.1,346.53 L376.9,346.38 L376.69,346.2 L376.47,346 L376.26,345.79 L376.05,345.57 L375.84,345.34 L375.65,345.13 L375.1,344.45 L374.6,343.77 L374.12,343.08 L373.66,342.37 L373.22,341.65 L372.8,340.92 L372.39,340.19 L371.99,339.44 L371.62,338.72 L370.48,336.34 L369.45,333.96 L368.49,331.56 L367.6,329.15 L366.76,326.73 L365.97,324.3 L365.23,321.86 L364.52,319.42 L363.86,316.98 L363.23,314.53 L362.63,312.07 L362.06,309.62 L361.52,307.16 L361,304.7 L360.52,302.24 L360.05,299.78 L359.61,297.31 L359.19,294.85 L358.79,292.38 L358.41,289.91 L358.06,287.44 L357.72,284.97 L357.4,282.5 L357.09,280.03 L356.81,277.56 L356.54,275.08 L356.29,272.61 L356.06,270.14 L355.84,267.66 L355.64,265.19 L355.45,262.71 L355.27,260.23 L355.12,257.76 L354.97,255.28 L354.84,252.8 L354.73,250.32 L354.63,247.85 L354.54,245.37 L354.46,242.89 L354.4,240.41 L354.35,237.93 L354.31,235.45 L354.28,232.97 L354.27,230.48 L354.26,228 L354.27,225.51 L354.28,223.02 L354.3,220.54 L354.33,218.06 L354.37,215.58 L354.43,213.1 L354.5,210.63 L354.59,208.15 L354.69,205.68 L354.81,203.21 L354.95,200.74 L355.1,198.27 L355.28,195.8 L355.47,193.33 L355.68,190.86 L355.91,188.39 L356.17,185.92 L356.44,183.46 L356.73,180.99 L357.05,178.52 L357.38,176.06 L357.74,173.59 L358.12,171.13 L358.53,168.67 L358.96,166.2 L359.41,163.74 L359.88,161.28 L360.38,158.81 L360.91,156.35 L361.46,153.89 L362.03,151.43 L362.63,148.97 L363.26,146.51 L363.91,144.04 L364.59,141.58 L365.3,139.12 L366.03,136.66 L366.79,134.2 L367.57,131.74 L368.39,129.28 L369.23,126.81 L370.1,124.35 L371,121.89 L371.92,119.43 L372.88,116.97 L373.86,114.5 L374.88,112.04 L375.21,111.25 L375.54,110.47 L375.88,109.68 L376.22,108.89 L376.56,108.1 L376.91,107.31 L377.26,106.53 L377.61,105.74 L377.97,104.95 L378.32,104.16 L378.69,103.37 L378.82,103.08 L378.96,102.78 L379.1,102.49 L379.23,102.19 L379.37,101.9 L379.51,101.6 L379.65,101.3 L379.79,101.01 L379.93,100.71 L380.07,100.42 Z"/></clipPath>
<clipPath id="g3"><path d="M0,155.8 L600,155 L600,176.8 L0,176.8 Z"/></clipPath>
<clipPath id="wx3"><path d="M360.41,175.6 Q376.6,172 392.79,175.6 Q395.79,175.6 396.2,178.6 L396.54,181.35 L396.86,184.1 L397.15,186.86 L397.42,189.61 L397.66,192.36 L397.88,195.11 L398.08,197.87 L398.25,200.62 L398.4,203.37 L398.53,206.12 L398.64,208.88 L398.73,211.63 L398.8,214.38 L398.86,217.13 L398.9,219.89 L398.92,222.64 L398.93,225.39 L398.94,228.14 L398.93,230.9 L398.91,233.65 L398.88,236.4 L398.83,239.15 L398.77,241.91 L398.69,244.66 L398.59,247.41 L398.48,250.16 L398.36,252.92 L398.21,255.67 L398.05,258.42 L397.87,261.18 L397.67,263.93 L397.46,266.68 L397.22,269.43 L396.97,272.19 L396.69,274.94 L396.4,277.69 L396.08,280.44 L395.75,283.19 L395.39,285.95 L395.01,288.7 Q394.56,291.7 391.56,291.7 Q376.6,288.9 361.64,291.7 Q358.64,291.7 358.19,288.7 L357.81,285.95 L357.45,283.19 L357.12,280.44 L356.8,277.69 L356.51,274.94 L356.23,272.19 L355.98,269.43 L355.74,266.68 L355.53,263.93 L355.33,261.18 L355.15,258.42 L354.99,255.67 L354.84,252.92 L354.72,250.16 L354.61,247.41 L354.51,244.66 L354.43,241.91 L354.37,239.15 L354.32,236.4 L354.29,233.65 L354.27,230.9 L354.26,228.14 L354.27,225.39 L354.28,222.64 L354.3,219.89 L354.34,217.13 L354.4,214.38 L354.47,211.63 L354.56,208.88 L354.67,206.12 L354.8,203.37 L354.95,200.62 L355.12,197.87 L355.32,195.11 L355.54,192.36 L355.78,189.61 L356.05,186.86 L356.34,184.1 L356.66,181.35 L357,178.6 Q357.41,175.6 360.41,175.6 Z"/></clipPath>
<clipPath id="pd3"><path d="M360.88,296.9 Q376.6,291.5 392.32,296.9 Q394.32,296.9 393.97,298.9 L393.87,299.48 L393.76,300.07 L393.65,300.65 L393.55,301.24 L393.44,301.82 L393.33,302.41 L393.21,303 L393.1,303.58 L392.98,304.16 L392.87,304.75 L392.75,305.33 L392.63,305.92 L392.51,306.5 L392.39,307.09 L392.26,307.68 L392.14,308.26 L392.01,308.84 L391.88,309.43 L391.75,310.01 L391.62,310.6 L391.49,311.19 L391.35,311.77 L391.22,312.36 L391.08,312.94 L390.94,313.52 L390.8,314.11 L390.65,314.69 L390.51,315.28 L390.36,315.87 L390.21,316.45 L390.06,317.04 L389.91,317.62 L389.75,318.2 L389.6,318.79 L389.44,319.38 L389.28,319.96 L389.12,320.55 L388.95,321.13 L388.78,321.72 L388.61,322.3 Q388.02,324.3 386.02,324.3 Q376.6,322.1 367.18,324.3 Q365.18,324.3 364.59,322.3 L364.42,321.72 L364.25,321.13 L364.08,320.55 L363.92,319.96 L363.76,319.38 L363.6,318.79 L363.45,318.2 L363.29,317.62 L363.14,317.04 L362.99,316.45 L362.84,315.87 L362.69,315.28 L362.55,314.69 L362.4,314.11 L362.26,313.52 L362.12,312.94 L361.98,312.36 L361.85,311.77 L361.71,311.19 L361.58,310.6 L361.45,310.01 L361.32,309.43 L361.19,308.84 L361.06,308.26 L360.94,307.68 L360.81,307.09 L360.69,306.5 L360.57,305.92 L360.45,305.33 L360.33,304.75 L360.22,304.16 L360.1,303.58 L359.99,303 L359.87,302.41 L359.76,301.82 L359.65,301.24 L359.55,300.65 L359.44,300.07 L359.33,299.48 L359.23,298.9 Q358.88,296.9 360.88,296.9 Z"/></clipPath>
<clipPath id="c4"><path d="M457.6,106.75 L460.21,107.05 L461.25,107.35 L462.05,107.65 L462.71,107.95 L463.29,108.25 L463.82,108.55 L464.29,108.85 L464.73,109.15 L465.15,109.45 L465.54,109.75 L465.9,110.05 L466.8,110.85 L467.6,111.65 L468.33,112.45 L469,113.25 L469.62,114.05 L470.2,114.85 L470.75,115.65 L471.27,116.45 L471.76,117.25 L472.22,118.05 L472.66,118.85 L473.93,121.35 L475.04,123.85 L476.04,126.35 L476.93,128.85 L477.74,131.35 L478.48,133.85 L479.15,136.35 L479.77,138.85 L480.34,141.35 L480.86,143.85 L481.33,146.35 L481.77,148.85 L482.18,151.35 L482.55,153.85 L482.9,156.35 L483.21,158.85 L483.51,161.35 L483.77,163.85 L484.02,166.35 L484.24,168.85 L484.45,171.35 L484.64,173.85 L484.81,176.35 L484.96,178.85 L485.1,181.35 L485.23,183.85 L485.34,186.35 L485.45,188.85 L485.54,191.35 L485.62,193.85 L485.69,196.35 L485.75,198.85 L485.81,201.35 L485.86,203.85 L485.9,206.35 L485.93,208.85 L485.96,211.35 L485.99,213.85 L486.01,216.35 L486.02,218.85 L486.03,221.35 L486.04,223.85 L486.05,226.35 L486.06,228.85 L486.06,231.35 L486.06,233.85 L486.06,236.35 L486.06,238.85 L486.06,241.35 L486.06,243.85 L486.05,246.35 L486.01,248.85 L485.95,251.35 L485.86,253.85 L485.76,256.35 L485.64,258.85 L485.5,261.35 L485.34,263.85 L485.16,266.35 L484.96,268.85 L484.75,271.35 L484.52,273.85 L484.27,276.35 L484.01,278.85 L483.72,281.35 L483.42,283.85 L483.1,286.35 L482.75,288.85 L482.39,291.35 L482.01,293.85 L481.61,296.35 L481.18,298.85 L480.73,301.35 L480.26,303.85 L479.76,306.35 L479.23,308.85 L478.68,311.35 L478.09,313.85 L477.47,316.35 L476.82,318.85 L476.12,321.35 L475.38,323.85 L474.6,326.35 L473.75,328.85 L472.84,331.35 L471.86,333.85 L470.78,336.35 L469.59,338.85 L469.18,339.65 L468.75,340.45 L468.3,341.25 L467.83,342.05 L467.34,342.85 L466.82,343.65 L466.27,344.45 L465.68,345.25 L465.04,346.05 L464.34,346.85 L463.56,347.65 L463.24,347.95 L462.91,348.25 L462.55,348.55 L462.16,348.85 L461.74,349.15 L461.27,349.45 L460.74,349.75 L460.11,350.05 L459.27,350.35 L457.6,350.6 L455.93,350.35 L455.09,350.05 L454.46,349.75 L453.93,349.45 L453.46,349.15 L453.04,348.85 L452.65,348.55 L452.29,348.25 L451.96,347.95 L451.64,347.65 L450.86,346.85 L450.16,346.05 L449.52,345.25 L448.93,344.45 L448.38,343.65 L447.86,342.85 L447.37,342.05 L446.9,341.25 L446.45,340.45 L446.02,339.65 L445.61,338.85 L444.42,336.35 L443.34,333.85 L442.36,331.35 L441.45,328.85 L440.6,326.35 L439.82,323.85 L439.08,321.35 L438.38,318.85 L437.73,316.35 L437.11,313.85 L436.52,311.35 L435.97,308.85 L435.44,306.35 L434.94,303.85 L434.47,301.35 L434.02,298.85 L433.59,296.35 L433.19,293.85 L432.81,291.35 L432.45,288.85 L432.1,286.35 L431.78,283.85 L431.48,281.35 L431.19,278.85 L430.93,276.35 L430.68,273.85 L430.45,271.35 L430.24,268.85 L430.04,266.35 L429.86,263.85 L429.7,261.35 L429.56,258.85 L429.44,256.35 L429.34,253.85 L429.25,251.35 L429.19,248.85 L429.15,246.35 L429.14,243.85 L429.14,241.35 L429.14,238.85 L429.14,236.35 L429.14,233.85 L429.14,231.35 L429.14,228.85 L429.15,226.35 L429.16,223.85 L429.17,221.35 L429.18,218.85 L429.19,216.35 L429.21,213.85 L429.24,211.35 L429.27,208.85 L429.3,206.35 L429.34,203.85 L429.39,201.35 L429.45,198.85 L429.51,196.35 L429.58,193.85 L429.66,191.35 L429.75,188.85 L429.86,186.35 L429.97,183.85 L430.1,181.35 L430.24,178.85 L430.39,176.35 L430.56,173.85 L430.75,171.35 L430.96,168.85 L431.18,166.35 L431.43,163.85 L431.69,161.35 L431.99,158.85 L432.3,156.35 L432.65,153.85 L433.02,151.35 L433.43,148.85 L433.87,146.35 L434.34,143.85 L434.86,141.35 L435.43,138.85 L436.05,136.35 L436.72,133.85 L437.46,131.35 L438.27,128.85 L439.16,126.35 L440.16,123.85 L441.27,121.35 L442.54,118.85 L442.98,118.05 L443.44,117.25 L443.93,116.45 L444.45,115.65 L445,114.85 L445.58,114.05 L446.2,113.25 L446.87,112.45 L447.6,111.65 L448.4,110.85 L449.3,110.05 L449.66,109.75 L450.05,109.45 L450.47,109.15 L450.91,108.85 L451.38,108.55 L451.91,108.25 L452.49,107.95 L453.15,107.65 L453.95,107.35 L454.99,107.05 Z"/></clipPath>
<clipPath id="w4"><path d="M457.6,112.19 L459.15,112.36 L459.55,112.48 L459.98,112.64 L460.36,112.81 L460.71,112.99 L461.03,113.18 L461.34,113.37 L461.63,113.57 L461.91,113.77 L462.18,113.98 L462.39,114.16 L463.09,114.78 L463.69,115.38 L464.26,116 L464.8,116.64 L465.31,117.3 L465.79,117.96 L466.25,118.64 L466.69,119.32 L467.12,120.02 L467.52,120.72 L467.89,121.38 L469.05,123.67 L470.07,125.95 L470.98,128.26 L471.82,130.59 L472.58,132.95 L473.28,135.32 L473.92,137.7 L474.51,140.09 L475.06,142.5 L475.56,144.91 L476.02,147.33 L476.45,149.75 L476.84,152.18 L477.21,154.62 L477.54,157.06 L477.85,159.5 L478.14,161.95 L478.4,164.4 L478.64,166.86 L478.86,169.31 L479.07,171.77 L479.25,174.24 L479.42,176.7 L479.57,179.17 L479.71,181.64 L479.84,184.11 L479.95,186.58 L480.05,189.06 L480.14,191.54 L480.22,194.02 L480.29,196.5 L480.36,198.98 L480.41,201.46 L480.46,203.95 L480.5,206.43 L480.53,208.92 L480.56,211.41 L480.59,213.9 L480.61,216.39 L480.62,218.88 L480.63,221.37 L480.64,223.87 L480.65,226.36 L480.66,228.86 L480.66,231.36 L480.66,233.85 L480.66,236.35 L480.66,238.85 L480.66,241.35 L480.66,243.84 L480.65,246.29 L480.61,248.74 L480.55,251.19 L480.47,253.65 L480.37,256.1 L480.25,258.56 L480.11,261.03 L479.95,263.49 L479.77,265.95 L479.58,268.41 L479.37,270.87 L479.14,273.34 L478.9,275.8 L478.64,278.26 L478.36,280.72 L478.06,283.18 L477.74,285.64 L477.41,288.1 L477.05,290.56 L476.68,293.01 L476.28,295.47 L475.86,297.92 L475.42,300.37 L474.96,302.82 L474.47,305.27 L473.96,307.71 L473.41,310.15 L472.84,312.58 L472.24,315.02 L471.61,317.44 L470.93,319.86 L470.22,322.27 L469.46,324.67 L468.65,327.06 L467.79,329.44 L466.86,331.79 L465.86,334.12 L464.75,336.45 L464.39,337.14 L464.01,337.86 L463.61,338.57 L463.2,339.27 L462.78,339.96 L462.33,340.64 L461.87,341.31 L461.39,341.96 L460.89,342.59 L460.37,343.19 L459.78,343.8 L459.6,343.97 L459.38,344.16 L459.16,344.34 L458.94,344.52 L458.71,344.68 L458.48,344.83 L458.25,344.95 L458.04,345.05 L457.95,345.09 L457.6,345.14 L457.25,345.09 L457.16,345.05 L456.95,344.95 L456.72,344.83 L456.49,344.68 L456.26,344.52 L456.04,344.34 L455.82,344.16 L455.6,343.97 L455.42,343.8 L454.83,343.19 L454.31,342.59 L453.81,341.96 L453.33,341.31 L452.87,340.64 L452.42,339.96 L452,339.27 L451.59,338.57 L451.19,337.86 L450.81,337.14 L450.45,336.45 L449.34,334.12 L448.34,331.79 L447.41,329.44 L446.55,327.06 L445.74,324.67 L444.98,322.27 L444.27,319.86 L443.59,317.44 L442.96,315.02 L442.36,312.58 L441.79,310.15 L441.24,307.71 L440.73,305.27 L440.24,302.82 L439.78,300.37 L439.34,297.92 L438.92,295.47 L438.52,293.01 L438.15,290.56 L437.79,288.1 L437.46,285.64 L437.14,283.18 L436.84,280.72 L436.56,278.26 L436.3,275.8 L436.06,273.34 L435.83,270.87 L435.62,268.41 L435.43,265.95 L435.25,263.49 L435.09,261.03 L434.95,258.56 L434.83,256.1 L434.73,253.65 L434.65,251.19 L434.59,248.74 L434.55,246.29 L434.54,243.84 L434.54,241.35 L434.54,238.85 L434.54,236.35 L434.54,233.85 L434.54,231.36 L434.54,228.86 L434.55,226.36 L434.56,223.87 L434.57,221.37 L434.58,218.88 L434.59,216.39 L434.61,213.9 L434.64,211.41 L434.67,208.92 L434.7,206.43 L434.74,203.95 L434.79,201.46 L434.84,198.98 L434.91,196.5 L434.98,194.02 L435.06,191.54 L435.15,189.06 L435.25,186.58 L435.36,184.11 L435.49,181.64 L435.63,179.17 L435.78,176.7 L435.95,174.24 L436.13,171.77 L436.34,169.31 L436.56,166.86 L436.8,164.4 L437.06,161.95 L437.35,159.5 L437.66,157.06 L437.99,154.62 L438.36,152.18 L438.75,149.75 L439.18,147.33 L439.64,144.91 L440.14,142.5 L440.69,140.09 L441.28,137.7 L441.92,135.32 L442.62,132.95 L443.38,130.59 L444.22,128.26 L445.13,125.95 L446.15,123.67 L447.31,121.38 L447.68,120.72 L448.08,120.02 L448.51,119.32 L448.95,118.64 L449.41,117.96 L449.89,117.3 L450.4,116.64 L450.94,116 L451.51,115.38 L452.11,114.78 L452.81,114.16 L453.02,113.98 L453.29,113.77 L453.57,113.57 L453.86,113.37 L454.17,113.18 L454.49,112.99 L454.84,112.81 L455.22,112.64 L455.65,112.48 L456.05,112.36 Z"/></clipPath>
<clipPath id="wx4"><path d="M440.4,168.3 Q457.6,164.9 474.8,168.3 Q478.8,168.3 479.12,172.3 L479.35,175.46 L479.55,178.62 L479.73,181.78 L479.88,184.95 L480.02,188.11 L480.14,191.27 L480.24,194.43 L480.32,197.59 L480.4,200.75 L480.46,203.91 L480.51,207.07 L480.55,210.24 L480.58,213.4 L480.61,216.56 L480.63,219.72 L480.64,222.88 L480.65,226.04 L480.66,229.2 L480.66,232.36 L480.66,235.53 L480.66,238.69 L480.66,241.85 L480.66,245.01 L480.63,248.17 L480.55,251.33 L480.44,254.49 L480.3,257.65 L480.13,260.81 L479.93,263.98 L479.7,267.14 L479.44,270.3 L479.16,273.46 L478.84,276.62 L478.5,279.78 L478.13,282.94 L477.73,286.11 L477.3,289.27 L476.83,292.43 L476.33,295.59 L475.8,298.75 Q475.07,302.75 471.07,302.75 Q457.6,299.25 444.13,302.75 Q440.13,302.75 439.4,298.75 L438.87,295.59 L438.37,292.43 L437.9,289.27 L437.47,286.11 L437.07,282.94 L436.7,279.78 L436.36,276.62 L436.04,273.46 L435.76,270.3 L435.5,267.14 L435.27,263.98 L435.07,260.81 L434.9,257.65 L434.76,254.49 L434.65,251.33 L434.57,248.17 L434.54,245.01 L434.54,241.85 L434.54,238.69 L434.54,235.53 L434.54,232.36 L434.54,229.2 L434.55,226.04 L434.56,222.88 L434.57,219.72 L434.59,216.56 L434.62,213.4 L434.65,210.24 L434.69,207.07 L434.74,203.91 L434.8,200.75 L434.88,197.59 L434.96,194.43 L435.06,191.27 L435.18,188.11 L435.32,184.95 L435.47,181.78 L435.65,178.62 L435.85,175.46 L436.08,172.3 Q436.4,168.3 440.4,168.3 Z"/></clipPath>
<clipPath id="pd4"><path d="M440.83,306.3 Q457.6,302.3 474.37,306.3 Q476.37,306.3 475.95,308.3 L475.82,308.9 L475.69,309.5 L475.56,310.1 L475.43,310.69 L475.29,311.29 L475.15,311.89 L475.02,312.49 L474.87,313.09 L474.73,313.69 L474.59,314.29 L474.44,314.89 L474.29,315.49 L474.14,316.08 L473.99,316.68 L473.83,317.28 L473.68,317.88 L473.52,318.48 L473.36,319.08 L473.19,319.68 L473.03,320.27 L472.86,320.87 L472.69,321.47 L472.51,322.07 L472.34,322.67 L472.16,323.27 L471.98,323.87 L471.79,324.47 L471.61,325.06 L471.42,325.66 L471.22,326.26 L471.03,326.86 L470.83,327.46 L470.62,328.06 L470.42,328.66 L470.21,329.26 L469.99,329.86 L469.78,330.45 L469.55,331.05 L469.33,331.65 L469.1,332.25 Q468.29,334.25 466.29,334.25 Q457.6,331.95 448.91,334.25 Q446.91,334.25 446.1,332.25 L445.87,331.65 L445.65,331.05 L445.42,330.45 L445.21,329.86 L444.99,329.26 L444.78,328.66 L444.58,328.06 L444.37,327.46 L444.17,326.86 L443.98,326.26 L443.78,325.66 L443.59,325.06 L443.41,324.47 L443.22,323.87 L443.04,323.27 L442.86,322.67 L442.69,322.07 L442.51,321.47 L442.34,320.87 L442.17,320.27 L442.01,319.68 L441.84,319.08 L441.68,318.48 L441.52,317.88 L441.37,317.28 L441.21,316.68 L441.06,316.08 L440.91,315.49 L440.76,314.89 L440.61,314.29 L440.47,313.69 L440.33,313.09 L440.18,312.49 L440.05,311.89 L439.91,311.29 L439.77,310.69 L439.64,310.1 L439.51,309.5 L439.38,308.9 L439.25,308.3 Q438.83,306.3 440.83,306.3 Z"/></clipPath>
<clipPath id="c5"><path d="M545,84.1 L548.17,84.4 L549.32,84.7 L550.17,85 L550.87,85.3 L551.48,85.6 L552.02,85.9 L552.51,86.2 L552.96,86.5 L553.38,86.8 L553.78,87.1 L554.15,87.4 L555.05,88.2 L555.85,89 L556.57,89.8 L557.23,90.6 L557.84,91.4 L558.42,92.2 L558.95,93 L559.45,93.8 L559.93,94.6 L560.38,95.4 L560.81,96.2 L562.04,98.7 L563.11,101.2 L564.07,103.7 L564.93,106.2 L565.71,108.7 L566.42,111.2 L567.07,113.7 L567.66,116.2 L568.21,118.7 L568.71,121.2 L569.18,123.7 L569.61,126.2 L570,128.7 L570.36,131.2 L570.7,133.7 L571.01,136.2 L571.29,138.7 L571.56,141.2 L571.8,143.7 L572.02,146.2 L572.22,148.7 L572.41,151.2 L572.58,153.7 L572.73,156.2 L572.87,158.7 L572.99,161.2 L573.1,163.7 L573.2,166.2 L573.29,168.7 L573.37,171.2 L573.44,173.7 L573.5,176.2 L573.55,178.7 L573.6,181.2 L573.63,183.7 L573.66,186.2 L573.69,188.7 L573.71,191.2 L573.72,193.7 L573.73,196.2 L573.74,198.7 L573.74,201.2 L573.75,203.7 L573.75,206.2 L573.75,208.7 L573.75,211.2 L573.75,213.7 L573.74,216.2 L573.73,218.7 L573.72,221.2 L573.7,223.7 L573.68,226.2 L573.65,228.7 L573.62,231.2 L573.57,233.7 L573.52,236.2 L573.46,238.7 L573.4,241.2 L573.32,243.7 L573.23,246.2 L573.14,248.7 L573.03,251.2 L572.91,253.7 L572.79,256.2 L572.65,258.7 L572.49,261.2 L572.33,263.7 L572.15,266.2 L571.96,268.7 L571.76,271.2 L571.54,273.7 L571.3,276.2 L571.06,278.7 L570.79,281.2 L570.51,283.7 L570.22,286.2 L569.91,288.7 L569.58,291.2 L569.23,293.7 L568.87,296.2 L568.49,298.7 L568.08,301.2 L567.66,303.7 L567.22,306.2 L566.76,308.7 L566.27,311.2 L565.77,313.7 L565.24,316.2 L564.68,318.7 L564.1,321.2 L563.5,323.7 L562.86,326.2 L562.2,328.7 L561.5,331.2 L560.77,333.7 L560.01,336.2 L559.2,338.7 L558.34,341.2 L557.43,343.7 L556.44,346.2 L555.08,348.73 L554.59,349.21 L554.08,349.61 L553.57,349.93 L553.04,350.13 L552.5,350.2 L545,350.2 L537.5,350.2 L536.96,350.13 L536.43,349.93 L535.92,349.61 L535.41,349.21 L534.92,348.73 L533.56,346.2 L532.57,343.7 L531.66,341.2 L530.8,338.7 L529.99,336.2 L529.23,333.7 L528.5,331.2 L527.8,328.7 L527.14,326.2 L526.5,323.7 L525.9,321.2 L525.32,318.7 L524.76,316.2 L524.23,313.7 L523.73,311.2 L523.24,308.7 L522.78,306.2 L522.34,303.7 L521.92,301.2 L521.51,298.7 L521.13,296.2 L520.77,293.7 L520.42,291.2 L520.09,288.7 L519.78,286.2 L519.49,283.7 L519.21,281.2 L518.94,278.7 L518.7,276.2 L518.46,273.7 L518.24,271.2 L518.04,268.7 L517.85,266.2 L517.67,263.7 L517.51,261.2 L517.35,258.7 L517.21,256.2 L517.09,253.7 L516.97,251.2 L516.86,248.7 L516.77,246.2 L516.68,243.7 L516.6,241.2 L516.54,238.7 L516.48,236.2 L516.43,233.7 L516.38,231.2 L516.35,228.7 L516.32,226.2 L516.3,223.7 L516.28,221.2 L516.27,218.7 L516.26,216.2 L516.25,213.7 L516.25,211.2 L516.25,208.7 L516.25,206.2 L516.25,203.7 L516.26,201.2 L516.26,198.7 L516.27,196.2 L516.28,193.7 L516.29,191.2 L516.31,188.7 L516.34,186.2 L516.37,183.7 L516.4,181.2 L516.45,178.7 L516.5,176.2 L516.56,173.7 L516.63,171.2 L516.71,168.7 L516.8,166.2 L516.9,163.7 L517.01,161.2 L517.13,158.7 L517.27,156.2 L517.42,153.7 L517.59,151.2 L517.78,148.7 L517.98,146.2 L518.2,143.7 L518.44,141.2 L518.71,138.7 L518.99,136.2 L519.3,133.7 L519.64,131.2 L520,128.7 L520.39,126.2 L520.82,123.7 L521.29,121.2 L521.79,118.7 L522.34,116.2 L522.93,113.7 L523.58,111.2 L524.29,108.7 L525.07,106.2 L525.93,103.7 L526.89,101.2 L527.96,98.7 L529.19,96.2 L529.62,95.4 L530.07,94.6 L530.55,93.8 L531.05,93 L531.58,92.2 L532.16,91.4 L532.77,90.6 L533.43,89.8 L534.15,89 L534.95,88.2 L535.85,87.4 L536.22,87.1 L536.62,86.8 L537.04,86.5 L537.49,86.2 L537.98,85.9 L538.52,85.6 L539.13,85.3 L539.83,85 L540.68,84.7 L541.83,84.4 Z"/></clipPath>
<clipPath id="w5"><path d="M545,88.52 L547.4,88.75 L548.03,88.91 L548.57,89.1 L549.03,89.3 L549.43,89.5 L549.8,89.7 L550.15,89.91 L550.47,90.12 L550.77,90.34 L551.06,90.56 L551.3,90.76 L552.03,91.4 L552.66,92.03 L553.24,92.68 L553.79,93.34 L554.31,94.02 L554.79,94.7 L555.26,95.4 L555.7,96.1 L556.12,96.81 L556.53,97.52 L556.9,98.21 L558.04,100.54 L559.03,102.86 L559.93,105.2 L560.75,107.57 L561.49,109.96 L562.17,112.35 L562.8,114.76 L563.37,117.18 L563.9,119.6 L564.39,122.04 L564.85,124.47 L565.26,126.91 L565.65,129.36 L566.01,131.81 L566.34,134.26 L566.64,136.72 L566.92,139.18 L567.18,141.64 L567.42,144.11 L567.63,146.57 L567.83,149.04 L568.02,151.51 L568.18,153.98 L568.34,156.46 L568.47,158.93 L568.6,161.41 L568.71,163.89 L568.81,166.37 L568.9,168.85 L568.97,171.33 L569.04,173.81 L569.1,176.3 L569.15,178.78 L569.2,181.27 L569.23,183.76 L569.26,186.25 L569.29,188.74 L569.31,191.23 L569.32,193.72 L569.33,196.22 L569.34,198.71 L569.34,201.21 L569.35,203.7 L569.35,206.2 L569.35,208.7 L569.35,211.2 L569.35,213.7 L569.34,216.19 L569.33,218.68 L569.32,221.17 L569.3,223.67 L569.28,226.15 L569.25,228.64 L569.22,231.13 L569.18,233.62 L569.12,236.1 L569.07,238.59 L569,241.07 L568.92,243.56 L568.84,246.04 L568.74,248.52 L568.64,251 L568.52,253.48 L568.39,255.96 L568.25,258.44 L568.1,260.92 L567.94,263.4 L567.76,265.88 L567.57,268.35 L567.37,270.83 L567.15,273.3 L566.92,275.78 L566.68,278.25 L566.42,280.73 L566.14,283.2 L565.85,285.67 L565.54,288.14 L565.22,290.61 L564.88,293.08 L564.52,295.55 L564.14,298.02 L563.74,300.49 L563.33,302.95 L562.89,305.42 L562.43,307.88 L561.96,310.34 L561.46,312.81 L560.94,315.27 L560.39,317.73 L559.82,320.18 L559.22,322.64 L558.6,325.09 L557.95,327.55 L557.27,329.99 L556.56,332.44 L555.81,334.88 L555.02,337.31 L554.19,339.73 L553.32,342.14 L552.45,344.34 L551.53,346.04 L551.68,345.9 L551.55,346 L551.62,345.96 L551.95,345.83 L552.21,345.8 L545,345.8 L537.79,345.8 L538.05,345.83 L538.38,345.96 L538.45,346 L538.32,345.9 L538.47,346.04 L537.55,344.34 L536.68,342.14 L535.81,339.73 L534.98,337.31 L534.19,334.88 L533.44,332.44 L532.73,329.99 L532.05,327.55 L531.4,325.09 L530.78,322.64 L530.18,320.18 L529.61,317.73 L529.06,315.27 L528.54,312.81 L528.04,310.34 L527.57,307.88 L527.11,305.42 L526.67,302.95 L526.26,300.49 L525.86,298.02 L525.48,295.55 L525.12,293.08 L524.78,290.61 L524.46,288.14 L524.15,285.67 L523.86,283.2 L523.58,280.73 L523.32,278.25 L523.08,275.78 L522.85,273.3 L522.63,270.83 L522.43,268.35 L522.24,265.88 L522.06,263.4 L521.9,260.92 L521.75,258.44 L521.61,255.96 L521.48,253.48 L521.36,251 L521.26,248.52 L521.16,246.04 L521.08,243.56 L521,241.07 L520.93,238.59 L520.88,236.1 L520.82,233.62 L520.78,231.13 L520.75,228.64 L520.72,226.15 L520.7,223.67 L520.68,221.17 L520.67,218.68 L520.66,216.19 L520.65,213.7 L520.65,211.2 L520.65,208.7 L520.65,206.2 L520.65,203.7 L520.66,201.21 L520.66,198.71 L520.67,196.22 L520.68,193.72 L520.69,191.23 L520.71,188.74 L520.74,186.25 L520.77,183.76 L520.8,181.27 L520.85,178.78 L520.9,176.3 L520.96,173.81 L521.03,171.33 L521.1,168.85 L521.19,166.37 L521.29,163.89 L521.4,161.41 L521.53,158.93 L521.66,156.46 L521.82,153.98 L521.98,151.51 L522.17,149.04 L522.37,146.57 L522.58,144.11 L522.82,141.64 L523.08,139.18 L523.36,136.72 L523.66,134.26 L523.99,131.81 L524.35,129.36 L524.74,126.91 L525.15,124.47 L525.61,122.04 L526.1,119.6 L526.63,117.18 L527.2,114.76 L527.83,112.35 L528.51,109.96 L529.25,107.57 L530.07,105.2 L530.97,102.86 L531.96,100.54 L533.1,98.21 L533.47,97.52 L533.88,96.81 L534.3,96.1 L534.74,95.4 L535.21,94.7 L535.69,94.02 L536.21,93.34 L536.76,92.68 L537.34,92.03 L537.97,91.4 L538.7,90.76 L538.94,90.56 L539.23,90.34 L539.53,90.12 L539.85,89.91 L540.2,89.7 L540.57,89.5 L540.97,89.3 L541.43,89.1 L541.97,88.91 L542.6,88.75 Z"/></clipPath>
<clipPath id="wx5"><path d="M549,60 Q545,60 541,60 Q545,60 545,64 L545,72.3 L545,80.6 L551.35,88.9 L556.92,97.2 L560.3,105.5 L562.69,113.8 L564.49,122.1 L565.85,130.4 L566.89,138.7 L567.69,147 L568.27,155.3 L568.7,163.6 L568.99,171.9 L569.18,180.2 L569.28,188.5 L569.33,196.8 L569.35,205.1 L569.35,213.4 L569.32,221.7 L569.24,230 L569.07,238.3 L568.82,246.6 L568.45,254.9 L567.96,263.2 L567.33,271.5 L566.54,279.8 L565.58,288.1 L564.44,296.4 L563.09,304.7 L561.51,313 L559.68,321.3 L557.55,329.6 L555.06,337.9 L552.04,346.2 L550.1,354.5 L550.1,362.8 L550.1,371.1 L550.1,379.4 L550.1,387.7 L550.1,396 Q550.1,400 546.1,400 Q545,400 543.9,400 Q539.9,400 539.9,396 L539.9,387.7 L539.9,379.4 L539.9,371.1 L539.9,362.8 L539.9,354.5 L537.96,346.2 L534.94,337.9 L532.45,329.6 L530.32,321.3 L528.49,313 L526.91,304.7 L525.56,296.4 L524.42,288.1 L523.46,279.8 L522.67,271.5 L522.04,263.2 L521.55,254.9 L521.18,246.6 L520.93,238.3 L520.76,230 L520.68,221.7 L520.65,213.4 L520.65,205.1 L520.67,196.8 L520.72,188.5 L520.82,180.2 L521.01,171.9 L521.3,163.6 L521.73,155.3 L522.31,147 L523.11,138.7 L524.15,130.4 L525.51,122.1 L527.31,113.8 L529.7,105.5 L533.08,97.2 L538.65,88.9 L545,80.6 L545,72.3 L545,64 Q545,60 549,60 Z"/></clipPath></defs>
<rect x="0" y="0" width="600" height="476" fill="#f5f5f5"/>
<g><clipPath id="b1_1"><path d="M-1310.65,-726.44 L2188.6,1211.41 L3157.53,-538.21 L-341.72,-2476.07 Z"/></clipPath><clipPath id="f1_1"><path d="M-1309.68,-728.19 L2189.57,1209.66 L1220.64,2959.28 L-2278.6,1021.43 Z"/></clipPath><clipPath id="b2_1"><path d="M-1293.29,1247.04 L2164.44,-763.96 L1158.94,-2492.82 L-2298.79,-481.82 Z"/></clipPath><clipPath id="f2_1"><path d="M-1294.3,1245.31 L2163.43,-765.69 L3168.93,963.18 L-288.8,2974.18 Z"/></clipPath><path d="M656.67,361.9 A248.29,77.12 28.98 1 1 222.25,121.32 A248.29,77.12 28.98 1 1 656.67,361.9 Z M637.99,355.52 A219.95,68.04 29.5 1 1 255.13,138.91 A219.95,68.04 29.5 1 1 637.99,355.52 Z" fill="#e1e1e6" fill-rule="evenodd" clip-path="url(#b1_1)"/><path d="M642.6,119.98 A240.07,77.46 -30.18 1 1 227.54,361.37 A240.07,77.46 -30.18 1 1 642.6,119.98 Z M618.98,133.98 A220.36,66.62 -29.59 1 1 235.75,351.63 A220.36,66.62 -29.59 1 1 618.98,133.98 Z" fill="#e1e1e6" fill-rule="evenodd" clip-path="url(#b2_1)"/><path d="M438,-18 L438.55,-17.5 L438.97,-17 L439.35,-16.5 L439.71,-16 L440.05,-15.5 L440.38,-15 L440.7,-14.5 L441.01,-14 L442.19,-12 L443.29,-10 L444.34,-8 L445.34,-6 L446.31,-4 L447.25,-2 L448.16,0 L449.06,2 L449.93,4 L450.78,6 L451.61,8 L452.43,10 L453.24,12 L455.57,18 L457.79,24 L459.92,30 L461.96,36 L463.92,42 L465.82,48 L467.64,54 L469.41,60 L471.11,66 L472.75,72 L474.34,78 L475.88,84 L477.36,90 L478.79,96 L480.17,102 L481.5,108 L482.78,114 L484.02,120 L485.21,126 L486.35,132 L487.45,138 L488.5,144 L489.5,150 L490.46,156 L491.38,162 L492.24,168 L493.06,174 L493.84,180 L494.56,186 L495.24,192 L495.88,198 L496.46,204 L496.99,210 L497.47,216 L497.9,222 L498.27,228 L498.58,234 L498.83,240 L499.01,246 L499.11,252 L499.11,258 L499.07,264 L498.99,270 L498.88,276 L498.75,282 L498.58,288 L498.39,294 L498.17,300 L497.92,306 L497.63,312 L497.32,318 L496.98,324 L496.6,330 L496.19,336 L495.75,342 L495.26,348 L494.74,354 L494.17,360 L493.55,366 L492.88,372 L492.16,378 L491.37,384 L490.51,390 L489.57,396 L488.54,402 L487.41,408 L486.14,414 L484.72,420 L483.11,426 L481.24,432 L479.03,438 L478.19,440 L477.29,442 L476.31,444 L475.24,446 L474.05,448 L472.73,450 L471.21,452 L469.45,454 L467.29,456 L464.5,458 L460.3,460 L458.76,460.5 L456.77,461 L453.78,461.5 L438,462 L422.22,461.5 L419.23,461 L417.24,460.5 L415.7,460 L411.5,458 L408.71,456 L406.55,454 L404.79,452 L403.27,450 L401.95,448 L400.76,446 L399.69,444 L398.71,442 L397.81,440 L396.97,438 L394.76,432 L392.89,426 L391.28,420 L389.86,414 L388.59,408 L387.46,402 L386.43,396 L385.49,390 L384.63,384 L383.84,378 L383.12,372 L382.45,366 L381.83,360 L381.26,354 L380.74,348 L380.25,342 L379.81,336 L379.4,330 L379.02,324 L378.68,318 L378.37,312 L378.08,306 L377.83,300 L377.61,294 L377.42,288 L377.25,282 L377.12,276 L377.01,270 L376.93,264 L376.89,258 L376.89,252 L376.99,246 L377.17,240 L377.42,234 L377.73,228 L378.1,222 L378.53,216 L379.01,210 L379.54,204 L380.12,198 L380.76,192 L381.44,186 L382.16,180 L382.94,174 L383.76,168 L384.62,162 L385.54,156 L386.5,150 L387.5,144 L388.55,138 L389.65,132 L390.79,126 L391.98,120 L393.22,114 L394.5,108 L395.83,102 L397.21,96 L398.64,90 L400.12,84 L401.66,78 L403.25,72 L404.89,66 L406.59,60 L408.36,54 L410.18,48 L412.08,42 L414.04,36 L416.08,30 L418.21,24 L420.43,18 L422.76,12 L423.57,10 L424.39,8 L425.22,6 L426.07,4 L426.94,2 L427.84,0 L428.75,-2 L429.69,-4 L430.66,-6 L431.66,-8 L432.71,-10 L433.81,-12 L434.99,-14 L435.3,-14.5 L435.62,-15 L435.95,-15.5 L436.29,-16 L436.65,-16.5 L437.03,-17 L437.45,-17.5 Z" fill="#f5f5f5" stroke="#e1e1e6" stroke-width="11.5"/><path d="M656.67,361.9 A248.29,77.12 28.98 1 1 222.25,121.32 A248.29,77.12 28.98 1 1 656.67,361.9 Z M637.99,355.52 A219.95,68.04 29.5 1 1 255.13,138.91 A219.95,68.04 29.5 1 1 637.99,355.52 Z" fill="#e1e1e6" fill-rule="evenodd" clip-path="url(#f1_1)"/><path d="M642.6,119.98 A240.07,77.46 -30.18 1 1 227.54,361.37 A240.07,77.46 -30.18 1 1 642.6,119.98 Z M618.98,133.98 A220.36,66.62 -29.59 1 1 235.75,351.63 A220.36,66.62 -29.59 1 1 618.98,133.98 Z" fill="#e1e1e6" fill-rule="evenodd" clip-path="url(#f2_1)"/><circle cx="258" cy="202.5" r="19.5" fill="#e1e1e6"/><circle cx="545" cy="112" r="19.5" fill="#e1e1e6"/></g>
<path d="M122.2,188.2 L122.52,188.5 L122.85,188.8 L123.17,189.1 L123.48,189.4 L123.8,189.7 L124.11,190 L124.41,190.3 L124.72,190.6 L125.02,190.9 L125.32,191.2 L126.1,192 L126.86,192.8 L127.61,193.6 L128.33,194.4 L129.04,195.2 L129.73,196 L130.39,196.8 L131.05,197.6 L131.68,198.4 L132.29,199.2 L132.89,200 L133.47,200.8 L135.18,203.3 L136.74,205.8 L138.15,208.3 L139.42,210.8 L140.57,213.3 L141.59,215.8 L142.5,218.3 L143.3,220.8 L144,223.3 L144.61,225.8 L145.14,228.3 L145.59,230.8 L145.97,233.3 L146.29,235.8 L146.55,238.3 L146.76,240.8 L146.92,243.3 L147.05,245.8 L147.14,248.3 L147.21,250.8 L147.25,253.3 L147.28,255.8 L147.3,258.3 L147.3,260.8 L147.3,263.3 L147.3,265.8 L147.3,268.3 L147.28,270.8 L147.25,273.3 L147.21,275.8 L147.14,278.3 L147.05,280.8 L146.94,283.3 L146.81,285.8 L146.64,288.3 L146.46,290.8 L146.24,293.3 L146,295.8 L145.73,298.3 L145.43,300.8 L145.1,303.3 L144.74,305.8 L144.35,308.3 L143.92,310.8 L143.47,313.3 L142.99,315.8 L142.48,318.3 L141.94,320.8 L141.38,323.3 L140.98,325 L140.53,327.03 L140.09,329.22 L139.64,331.54 L139.18,333.91 L138.72,336.3 L138.23,338.66 L137.73,340.93 L137.19,343.05 L136.63,345 L136.04,346.7 L135.4,348.11 L134.72,349.18 L133.99,349.86 L133.2,350.1 L132.32,350 L131.4,349.71 L130.45,349.24 L129.5,348.6 L128.54,347.81 L127.6,346.87 L126.69,345.8 L125.82,344.6 L125,343.3 L124.25,341.89 L123.58,340.4 L123.01,338.83 L122.54,337.19 L122.2,335.5 L121.86,337.19 L121.39,338.83 L120.82,340.4 L120.15,341.89 L119.4,343.3 L118.58,344.6 L117.71,345.8 L116.8,346.87 L115.86,347.81 L114.9,348.6 L113.95,349.24 L113,349.71 L112.08,350 L111.2,350.1 L110.41,349.86 L109.68,349.18 L109,348.11 L108.36,346.7 L107.77,345 L107.21,343.05 L106.67,340.93 L106.17,338.66 L105.68,336.3 L105.22,333.91 L104.76,331.54 L104.31,329.22 L103.87,327.03 L103.42,325 L103.02,323.3 L102.46,320.8 L101.92,318.3 L101.41,315.8 L100.93,313.3 L100.48,310.8 L100.05,308.3 L99.66,305.8 L99.3,303.3 L98.97,300.8 L98.67,298.3 L98.4,295.8 L98.16,293.3 L97.94,290.8 L97.76,288.3 L97.59,285.8 L97.46,283.3 L97.35,280.8 L97.26,278.3 L97.19,275.8 L97.15,273.3 L97.12,270.8 L97.1,268.3 L97.1,265.8 L97.1,263.3 L97.1,260.8 L97.1,258.3 L97.12,255.8 L97.15,253.3 L97.19,250.8 L97.26,248.3 L97.35,245.8 L97.48,243.3 L97.64,240.8 L97.85,238.3 L98.11,235.8 L98.43,233.3 L98.81,230.8 L99.26,228.3 L99.79,225.8 L100.4,223.3 L101.1,220.8 L101.9,218.3 L102.81,215.8 L103.83,213.3 L104.98,210.8 L106.25,208.3 L107.66,205.8 L109.22,203.3 L110.93,200.8 L111.51,200 L112.11,199.2 L112.72,198.4 L113.35,197.6 L114.01,196.8 L114.67,196 L115.36,195.2 L116.07,194.4 L116.79,193.6 L117.54,192.8 L118.3,192 L119.08,191.2 L119.38,190.9 L119.68,190.6 L119.99,190.3 L120.29,190 L120.6,189.7 L120.92,189.4 L121.23,189.1 L121.55,188.8 L121.88,188.5 Z" fill="#fff"/>
<g clip-path="url(#c0)">
<path d="M122.2,188.2 L122.52,188.5 L122.85,188.8 L123.17,189.1 L123.48,189.4 L123.8,189.7 L124.11,190 L124.41,190.3 L124.72,190.6 L125.02,190.9 L125.32,191.2 L126.1,192 L126.86,192.8 L127.61,193.6 L128.33,194.4 L129.04,195.2 L129.73,196 L130.39,196.8 L131.05,197.6 L131.68,198.4 L132.29,199.2 L132.89,200 L133.47,200.8 L135.18,203.3 L136.74,205.8 L138.15,208.3 L139.42,210.8 L140.57,213.3 L141.59,215.8 L142.5,218.3 L143.3,220.8 L144,223.3 L144.61,225.8 L145.14,228.3 L145.59,230.8 L145.97,233.3 L146.29,235.8 L146.55,238.3 L146.76,240.8 L146.92,243.3 L147.05,245.8 L147.14,248.3 L147.21,250.8 L147.25,253.3 L147.28,255.8 L147.3,258.3 L147.3,260.8 L147.3,263.3 L147.3,265.8 L147.3,268.3 L147.28,270.8 L147.25,273.3 L147.21,275.8 L147.14,278.3 L147.05,280.8 L146.94,283.3 L146.81,285.8 L146.64,288.3 L146.46,290.8 L146.24,293.3 L146,295.8 L145.73,298.3 L145.43,300.8 L145.1,303.3 L144.74,305.8 L144.35,308.3 L143.92,310.8 L143.47,313.3 L142.99,315.8 L142.48,318.3 L141.94,320.8 L141.38,323.3 L140.98,325 L140.53,327.03 L140.09,329.22 L139.64,331.54 L139.18,333.91 L138.72,336.3 L138.23,338.66 L137.73,340.93 L137.19,343.05 L136.63,345 L136.04,346.7 L135.4,348.11 L134.72,349.18 L133.99,349.86 L133.2,350.1 L132.32,350 L131.4,349.71 L130.45,349.24 L129.5,348.6 L128.54,347.81 L127.6,346.87 L126.69,345.8 L125.82,344.6 L125,343.3 L124.25,341.89 L123.58,340.4 L123.01,338.83 L122.54,337.19 L122.2,335.5 L121.86,337.19 L121.39,338.83 L120.82,340.4 L120.15,341.89 L119.4,343.3 L118.58,344.6 L117.71,345.8 L116.8,346.87 L115.86,347.81 L114.9,348.6 L113.95,349.24 L113,349.71 L112.08,350 L111.2,350.1 L110.41,349.86 L109.68,349.18 L109,348.11 L108.36,346.7 L107.77,345 L107.21,343.05 L106.67,340.93 L106.17,338.66 L105.68,336.3 L105.22,333.91 L104.76,331.54 L104.31,329.22 L103.87,327.03 L103.42,325 L103.02,323.3 L102.46,320.8 L101.92,318.3 L101.41,315.8 L100.93,313.3 L100.48,310.8 L100.05,308.3 L99.66,305.8 L99.3,303.3 L98.97,300.8 L98.67,298.3 L98.4,295.8 L98.16,293.3 L97.94,290.8 L97.76,288.3 L97.59,285.8 L97.46,283.3 L97.35,280.8 L97.26,278.3 L97.19,275.8 L97.15,273.3 L97.12,270.8 L97.1,268.3 L97.1,265.8 L97.1,263.3 L97.1,260.8 L97.1,258.3 L97.12,255.8 L97.15,253.3 L97.19,250.8 L97.26,248.3 L97.35,245.8 L97.48,243.3 L97.64,240.8 L97.85,238.3 L98.11,235.8 L98.43,233.3 L98.81,230.8 L99.26,228.3 L99.79,225.8 L100.4,223.3 L101.1,220.8 L101.9,218.3 L102.81,215.8 L103.83,213.3 L104.98,210.8 L106.25,208.3 L107.66,205.8 L109.22,203.3 L110.93,200.8 L111.51,200 L112.11,199.2 L112.72,198.4 L113.35,197.6 L114.01,196.8 L114.67,196 L115.36,195.2 L116.07,194.4 L116.79,193.6 L117.54,192.8 L118.3,192 L119.08,191.2 L119.38,190.9 L119.68,190.6 L119.99,190.3 L120.29,190 L120.6,189.7 L120.92,189.4 L121.23,189.1 L121.55,188.8 L121.88,188.5 Z" fill="none" stroke="#d0d0d0" stroke-width="10.4" filter="url(#blur2)"/>
<g clip-path="url(#w0)"><path d="M105.95,245.8 Q122.2,242.2 138.45,245.8 Q143.45,245.8 143.61,250.8 L143.67,254.41 L143.69,258.01 L143.7,261.62 L143.7,265.22 L143.7,268.82 L143.67,272.43 L143.6,276.04 L143.5,279.64 L143.34,283.25 L143.14,286.85 L142.89,290.45 L142.57,294.06 L142.2,297.67 L141.77,301.27 L141.27,304.88 L140.72,308.48 L140.1,312.08 L139.41,315.69 L138.67,319.3 L137.87,322.9 L137.02,326.5 L136.12,330.11 L135.18,333.72 L134.21,337.32 L133.24,340.93 L132.29,344.53 L131.43,348.13 L131.1,351.74 L131.1,355.35 L131.1,358.95 L131.1,362.56 L131.1,366.16 L131.1,369.76 L131.1,373.37 L131.1,376.98 L131.1,380.58 L131.1,384.19 L131.1,387.79 L131.1,391.39 L131.1,395 Q131.1,400 126.1,400 Q122.2,400 118.3,400 Q113.3,400 113.3,395 L113.3,391.39 L113.3,387.79 L113.3,384.19 L113.3,380.58 L113.3,376.98 L113.3,373.37 L113.3,369.76 L113.3,366.16 L113.3,362.56 L113.3,358.95 L113.3,355.35 L113.3,351.74 L112.97,348.13 L112.11,344.53 L111.16,340.93 L110.19,337.32 L109.22,333.72 L108.28,330.11 L107.38,326.5 L106.53,322.9 L105.73,319.3 L104.99,315.69 L104.3,312.08 L103.68,308.48 L103.13,304.88 L102.63,301.27 L102.2,297.67 L101.83,294.06 L101.51,290.45 L101.26,286.85 L101.06,283.25 L100.9,279.64 L100.8,276.04 L100.73,272.43 L100.7,268.82 L100.7,265.22 L100.7,261.62 L100.71,258.01 L100.73,254.41 L100.79,250.8 Q100.95,245.8 105.95,245.8 Z" fill="#feb73f"/><g clip-path="url(#wx0)"><path d="M122.2,188.2 L122.52,188.5 L122.85,188.8 L123.17,189.1 L123.48,189.4 L123.8,189.7 L124.11,190 L124.41,190.3 L124.72,190.6 L125.02,190.9 L125.32,191.2 L126.1,192 L126.86,192.8 L127.61,193.6 L128.33,194.4 L129.04,195.2 L129.73,196 L130.39,196.8 L131.05,197.6 L131.68,198.4 L132.29,199.2 L132.89,200 L133.47,200.8 L135.18,203.3 L136.74,205.8 L138.15,208.3 L139.42,210.8 L140.57,213.3 L141.59,215.8 L142.5,218.3 L143.3,220.8 L144,223.3 L144.61,225.8 L145.14,228.3 L145.59,230.8 L145.97,233.3 L146.29,235.8 L146.55,238.3 L146.76,240.8 L146.92,243.3 L147.05,245.8 L147.14,248.3 L147.21,250.8 L147.25,253.3 L147.28,255.8 L147.3,258.3 L147.3,260.8 L147.3,263.3 L147.3,265.8 L147.3,268.3 L147.28,270.8 L147.25,273.3 L147.21,275.8 L147.14,278.3 L147.05,280.8 L146.94,283.3 L146.81,285.8 L146.64,288.3 L146.46,290.8 L146.24,293.3 L146,295.8 L145.73,298.3 L145.43,300.8 L145.1,303.3 L144.74,305.8 L144.35,308.3 L143.92,310.8 L143.47,313.3 L142.99,315.8 L142.48,318.3 L141.94,320.8 L141.38,323.3 L140.98,325 L140.53,327.03 L140.09,329.22 L139.64,331.54 L139.18,333.91 L138.72,336.3 L138.23,338.66 L137.73,340.93 L137.19,343.05 L136.63,345 L136.04,346.7 L135.4,348.11 L134.72,349.18 L133.99,349.86 L133.2,350.1 L132.32,350 L131.4,349.71 L130.45,349.24 L129.5,348.6 L128.54,347.81 L127.6,346.87 L126.69,345.8 L125.82,344.6 L125,343.3 L124.25,341.89 L123.58,340.4 L123.01,338.83 L122.54,337.19 L122.2,335.5 L121.86,337.19 L121.39,338.83 L120.82,340.4 L120.15,341.89 L119.4,343.3 L118.58,344.6 L117.71,345.8 L116.8,346.87 L115.86,347.81 L114.9,348.6 L113.95,349.24 L113,349.71 L112.08,350 L111.2,350.1 L110.41,349.86 L109.68,349.18 L109,348.11 L108.36,346.7 L107.77,345 L107.21,343.05 L106.67,340.93 L106.17,338.66 L105.68,336.3 L105.22,333.91 L104.76,331.54 L104.31,329.22 L103.87,327.03 L103.42,325 L103.02,323.3 L102.46,320.8 L101.92,318.3 L101.41,315.8 L100.93,313.3 L100.48,310.8 L100.05,308.3 L99.66,305.8 L99.3,303.3 L98.97,300.8 L98.67,298.3 L98.4,295.8 L98.16,293.3 L97.94,290.8 L97.76,288.3 L97.59,285.8 L97.46,283.3 L97.35,280.8 L97.26,278.3 L97.19,275.8 L97.15,273.3 L97.12,270.8 L97.1,268.3 L97.1,265.8 L97.1,263.3 L97.1,260.8 L97.1,258.3 L97.12,255.8 L97.15,253.3 L97.19,250.8 L97.26,248.3 L97.35,245.8 L97.48,243.3 L97.64,240.8 L97.85,238.3 L98.11,235.8 L98.43,233.3 L98.81,230.8 L99.26,228.3 L99.79,225.8 L100.4,223.3 L101.1,220.8 L101.9,218.3 L102.81,215.8 L103.83,213.3 L104.98,210.8 L106.25,208.3 L107.66,205.8 L109.22,203.3 L110.93,200.8 L111.51,200 L112.11,199.2 L112.72,198.4 L113.35,197.6 L114.01,196.8 L114.67,196 L115.36,195.2 L116.07,194.4 L116.79,193.6 L117.54,192.8 L118.3,192 L119.08,191.2 L119.38,190.9 L119.68,190.6 L119.99,190.3 L120.29,190 L120.6,189.7 L120.92,189.4 L121.23,189.1 L121.55,188.8 L121.88,188.5 Z" fill="none" stroke="#f0a030" stroke-width="12.2" stroke-opacity="0.45" filter="url(#blur1)"/></g></g>
</g>
<line x1="122.2" y1="188.2" x2="122.2" y2="244" stroke="#6a6a6a" stroke-width="1.5" clip-path="url(#c0)"/>
<line x1="122.2" y1="244" x2="122.2" y2="335.5" stroke="#d38d1d" stroke-width="1.5" clip-path="url(#c0)"/>
<path d="M122.2,188.2 L122.52,188.5 L122.85,188.8 L123.17,189.1 L123.48,189.4 L123.8,189.7 L124.11,190 L124.41,190.3 L124.72,190.6 L125.02,190.9 L125.32,191.2 L126.1,192 L126.86,192.8 L127.61,193.6 L128.33,194.4 L129.04,195.2 L129.73,196 L130.39,196.8 L131.05,197.6 L131.68,198.4 L132.29,199.2 L132.89,200 L133.47,200.8 L135.18,203.3 L136.74,205.8 L138.15,208.3 L139.42,210.8 L140.57,213.3 L141.59,215.8 L142.5,218.3 L143.3,220.8 L144,223.3 L144.61,225.8 L145.14,228.3 L145.59,230.8 L145.97,233.3 L146.29,235.8 L146.55,238.3 L146.76,240.8 L146.92,243.3 L147.05,245.8 L147.14,248.3 L147.21,250.8 L147.25,253.3 L147.28,255.8 L147.3,258.3 L147.3,260.8 L147.3,263.3 L147.3,265.8 L147.3,268.3 L147.28,270.8 L147.25,273.3 L147.21,275.8 L147.14,278.3 L147.05,280.8 L146.94,283.3 L146.81,285.8 L146.64,288.3 L146.46,290.8 L146.24,293.3 L146,295.8 L145.73,298.3 L145.43,300.8 L145.1,303.3 L144.74,305.8 L144.35,308.3 L143.92,310.8 L143.47,313.3 L142.99,315.8 L142.48,318.3 L141.94,320.8 L141.38,323.3 L140.98,325 L140.53,327.03 L140.09,329.22 L139.64,331.54 L139.18,333.91 L138.72,336.3 L138.23,338.66 L137.73,340.93 L137.19,343.05 L136.63,345 L136.04,346.7 L135.4,348.11 L134.72,349.18 L133.99,349.86 L133.2,350.1 L132.32,350 L131.4,349.71 L130.45,349.24 L129.5,348.6 L128.54,347.81 L127.6,346.87 L126.69,345.8 L125.82,344.6 L125,343.3 L124.25,341.89 L123.58,340.4 L123.01,338.83 L122.54,337.19 L122.2,335.5 L121.86,337.19 L121.39,338.83 L120.82,340.4 L120.15,341.89 L119.4,343.3 L118.58,344.6 L117.71,345.8 L116.8,346.87 L115.86,347.81 L114.9,348.6 L113.95,349.24 L113,349.71 L112.08,350 L111.2,350.1 L110.41,349.86 L109.68,349.18 L109,348.11 L108.36,346.7 L107.77,345 L107.21,343.05 L106.67,340.93 L106.17,338.66 L105.68,336.3 L105.22,333.91 L104.76,331.54 L104.31,329.22 L103.87,327.03 L103.42,325 L103.02,323.3 L102.46,320.8 L101.92,318.3 L101.41,315.8 L100.93,313.3 L100.48,310.8 L100.05,308.3 L99.66,305.8 L99.3,303.3 L98.97,300.8 L98.67,298.3 L98.4,295.8 L98.16,293.3 L97.94,290.8 L97.76,288.3 L97.59,285.8 L97.46,283.3 L97.35,280.8 L97.26,278.3 L97.19,275.8 L97.15,273.3 L97.12,270.8 L97.1,268.3 L97.1,265.8 L97.1,263.3 L97.1,260.8 L97.1,258.3 L97.12,255.8 L97.15,253.3 L97.19,250.8 L97.26,248.3 L97.35,245.8 L97.48,243.3 L97.64,240.8 L97.85,238.3 L98.11,235.8 L98.43,233.3 L98.81,230.8 L99.26,228.3 L99.79,225.8 L100.4,223.3 L101.1,220.8 L101.9,218.3 L102.81,215.8 L103.83,213.3 L104.98,210.8 L106.25,208.3 L107.66,205.8 L109.22,203.3 L110.93,200.8 L111.51,200 L112.11,199.2 L112.72,198.4 L113.35,197.6 L114.01,196.8 L114.67,196 L115.36,195.2 L116.07,194.4 L116.79,193.6 L117.54,192.8 L118.3,192 L119.08,191.2 L119.38,190.9 L119.68,190.6 L119.99,190.3 L120.29,190 L120.6,189.7 L120.92,189.4 L121.23,189.1 L121.55,188.8 L121.88,188.5 Z" fill="none" stroke="#616166" stroke-width="4.4" clip-path="url(#c0)" stroke-linejoin="round"/>
<path d="M199.9,142.1 L200.14,142.4 L200.36,142.7 L200.58,143 L200.79,143.3 L201,143.6 L201.21,143.9 L201.41,144.2 L201.61,144.5 L201.81,144.8 L202.01,145.1 L202.53,145.9 L203.04,146.7 L203.53,147.5 L204.02,148.3 L204.5,149.1 L204.97,149.9 L205.43,150.7 L205.88,151.5 L206.33,152.3 L206.77,153.1 L207.2,153.9 L207.63,154.7 L208.92,157.2 L210.15,159.7 L211.32,162.2 L212.43,164.7 L213.49,167.2 L214.5,169.7 L215.46,172.2 L216.38,174.7 L217.25,177.2 L218.07,179.7 L218.85,182.2 L219.59,184.7 L220.29,187.2 L220.95,189.7 L221.57,192.2 L222.15,194.7 L222.7,197.2 L223.22,199.7 L223.7,202.2 L224.15,204.7 L224.57,207.2 L224.96,209.7 L225.32,212.2 L225.65,214.7 L225.95,217.2 L226.24,219.7 L226.49,222.2 L226.73,224.7 L226.94,227.2 L227.13,229.7 L227.3,232.2 L227.45,234.7 L227.58,237.2 L227.7,239.7 L227.8,242.2 L227.89,244.7 L227.96,247.2 L228.02,249.7 L228.07,252.2 L228.11,254.7 L228.14,257.2 L228.17,259.7 L228.18,262.2 L228.19,264.7 L228.2,267.2 L228.2,269.7 L228.2,272.2 L228.18,274.7 L228.06,277.2 L227.89,279.7 L227.66,282.2 L227.4,284.7 L227.1,287.2 L226.77,289.7 L226.4,292.2 L226.01,294.7 L225.58,297.2 L225.13,299.7 L224.65,302.2 L224.14,304.7 L223.61,307.2 L223.05,309.7 L222.47,312.2 L221.86,314.7 L221.23,317.2 L220.57,319.7 L219.89,322.2 L219.19,324.7 L218.46,327.2 L217.71,329.7 L216.93,332.2 L216.12,334.7 L215.29,337.2 L214.42,339.7 L213.53,342.2 L212.59,344.7 L211.61,347.2 L210.59,349.3 L210.25,349.66 L209.89,349.96 L209.51,350.19 L209.11,350.35 L208.71,350.4 L199.9,350.4 L191.09,350.4 L190.69,350.35 L190.29,350.19 L189.91,349.96 L189.55,349.66 L189.21,349.3 L188.19,347.2 L187.21,344.7 L186.27,342.2 L185.38,339.7 L184.51,337.2 L183.68,334.7 L182.87,332.2 L182.09,329.7 L181.34,327.2 L180.61,324.7 L179.91,322.2 L179.23,319.7 L178.57,317.2 L177.94,314.7 L177.33,312.2 L176.75,309.7 L176.19,307.2 L175.66,304.7 L175.15,302.2 L174.67,299.7 L174.22,297.2 L173.79,294.7 L173.4,292.2 L173.03,289.7 L172.7,287.2 L172.4,284.7 L172.14,282.2 L171.91,279.7 L171.74,277.2 L171.62,274.7 L171.6,272.2 L171.6,269.7 L171.6,267.2 L171.61,264.7 L171.62,262.2 L171.63,259.7 L171.66,257.2 L171.69,254.7 L171.73,252.2 L171.78,249.7 L171.84,247.2 L171.91,244.7 L172,242.2 L172.1,239.7 L172.22,237.2 L172.35,234.7 L172.5,232.2 L172.67,229.7 L172.86,227.2 L173.07,224.7 L173.31,222.2 L173.56,219.7 L173.85,217.2 L174.15,214.7 L174.48,212.2 L174.84,209.7 L175.23,207.2 L175.65,204.7 L176.1,202.2 L176.58,199.7 L177.1,197.2 L177.65,194.7 L178.23,192.2 L178.85,189.7 L179.51,187.2 L180.21,184.7 L180.95,182.2 L181.73,179.7 L182.55,177.2 L183.42,174.7 L184.34,172.2 L185.3,169.7 L186.31,167.2 L187.37,164.7 L188.48,162.2 L189.65,159.7 L190.88,157.2 L192.17,154.7 L192.6,153.9 L193.03,153.1 L193.47,152.3 L193.92,151.5 L194.37,150.7 L194.83,149.9 L195.3,149.1 L195.78,148.3 L196.27,147.5 L196.76,146.7 L197.27,145.9 L197.79,145.1 L197.99,144.8 L198.19,144.5 L198.39,144.2 L198.59,143.9 L198.8,143.6 L199.01,143.3 L199.22,143 L199.44,142.7 L199.66,142.4 Z" fill="#fff"/>
<g clip-path="url(#c1)">
<path d="M199.9,142.1 L200.14,142.4 L200.36,142.7 L200.58,143 L200.79,143.3 L201,143.6 L201.21,143.9 L201.41,144.2 L201.61,144.5 L201.81,144.8 L202.01,145.1 L202.53,145.9 L203.04,146.7 L203.53,147.5 L204.02,148.3 L204.5,149.1 L204.97,149.9 L205.43,150.7 L205.88,151.5 L206.33,152.3 L206.77,153.1 L207.2,153.9 L207.63,154.7 L208.92,157.2 L210.15,159.7 L211.32,162.2 L212.43,164.7 L213.49,167.2 L214.5,169.7 L215.46,172.2 L216.38,174.7 L217.25,177.2 L218.07,179.7 L218.85,182.2 L219.59,184.7 L220.29,187.2 L220.95,189.7 L221.57,192.2 L222.15,194.7 L222.7,197.2 L223.22,199.7 L223.7,202.2 L224.15,204.7 L224.57,207.2 L224.96,209.7 L225.32,212.2 L225.65,214.7 L225.95,217.2 L226.24,219.7 L226.49,222.2 L226.73,224.7 L226.94,227.2 L227.13,229.7 L227.3,232.2 L227.45,234.7 L227.58,237.2 L227.7,239.7 L227.8,242.2 L227.89,244.7 L227.96,247.2 L228.02,249.7 L228.07,252.2 L228.11,254.7 L228.14,257.2 L228.17,259.7 L228.18,262.2 L228.19,264.7 L228.2,267.2 L228.2,269.7 L228.2,272.2 L228.18,274.7 L228.06,277.2 L227.89,279.7 L227.66,282.2 L227.4,284.7 L227.1,287.2 L226.77,289.7 L226.4,292.2 L226.01,294.7 L225.58,297.2 L225.13,299.7 L224.65,302.2 L224.14,304.7 L223.61,307.2 L223.05,309.7 L222.47,312.2 L221.86,314.7 L221.23,317.2 L220.57,319.7 L219.89,322.2 L219.19,324.7 L218.46,327.2 L217.71,329.7 L216.93,332.2 L216.12,334.7 L215.29,337.2 L214.42,339.7 L213.53,342.2 L212.59,344.7 L211.61,347.2 L210.59,349.3 L210.25,349.66 L209.89,349.96 L209.51,350.19 L209.11,350.35 L208.71,350.4 L199.9,350.4 L191.09,350.4 L190.69,350.35 L190.29,350.19 L189.91,349.96 L189.55,349.66 L189.21,349.3 L188.19,347.2 L187.21,344.7 L186.27,342.2 L185.38,339.7 L184.51,337.2 L183.68,334.7 L182.87,332.2 L182.09,329.7 L181.34,327.2 L180.61,324.7 L179.91,322.2 L179.23,319.7 L178.57,317.2 L177.94,314.7 L177.33,312.2 L176.75,309.7 L176.19,307.2 L175.66,304.7 L175.15,302.2 L174.67,299.7 L174.22,297.2 L173.79,294.7 L173.4,292.2 L173.03,289.7 L172.7,287.2 L172.4,284.7 L172.14,282.2 L171.91,279.7 L171.74,277.2 L171.62,274.7 L171.6,272.2 L171.6,269.7 L171.6,267.2 L171.61,264.7 L171.62,262.2 L171.63,259.7 L171.66,257.2 L171.69,254.7 L171.73,252.2 L171.78,249.7 L171.84,247.2 L171.91,244.7 L172,242.2 L172.1,239.7 L172.22,237.2 L172.35,234.7 L172.5,232.2 L172.67,229.7 L172.86,227.2 L173.07,224.7 L173.31,222.2 L173.56,219.7 L173.85,217.2 L174.15,214.7 L174.48,212.2 L174.84,209.7 L175.23,207.2 L175.65,204.7 L176.1,202.2 L176.58,199.7 L177.1,197.2 L177.65,194.7 L178.23,192.2 L178.85,189.7 L179.51,187.2 L180.21,184.7 L180.95,182.2 L181.73,179.7 L182.55,177.2 L183.42,174.7 L184.34,172.2 L185.3,169.7 L186.31,167.2 L187.37,164.7 L188.48,162.2 L189.65,159.7 L190.88,157.2 L192.17,154.7 L192.6,153.9 L193.03,153.1 L193.47,152.3 L193.92,151.5 L194.37,150.7 L194.83,149.9 L195.3,149.1 L195.78,148.3 L196.27,147.5 L196.76,146.7 L197.27,145.9 L197.79,145.1 L197.99,144.8 L198.19,144.5 L198.39,144.2 L198.59,143.9 L198.8,143.6 L199.01,143.3 L199.22,143 L199.44,142.7 L199.66,142.4 Z" fill="none" stroke="#d0d0d0" stroke-width="10.4" filter="url(#blur2)"/>
<path d="M199.9,142.1 L200.14,142.4 L200.36,142.7 L200.58,143 L200.79,143.3 L201,143.6 L201.21,143.9 L201.41,144.2 L201.61,144.5 L201.81,144.8 L202.01,145.1 L202.53,145.9 L203.04,146.7 L203.53,147.5 L204.02,148.3 L204.5,149.1 L204.97,149.9 L205.43,150.7 L205.88,151.5 L206.33,152.3 L206.77,153.1 L207.2,153.9 L207.63,154.7 L208.92,157.2 L210.15,159.7 L211.32,162.2 L212.43,164.7 L213.49,167.2 L214.5,169.7 L215.46,172.2 L216.38,174.7 L217.25,177.2 L218.07,179.7 L218.85,182.2 L219.59,184.7 L220.29,187.2 L220.95,189.7 L221.57,192.2 L222.15,194.7 L222.7,197.2 L223.22,199.7 L223.7,202.2 L224.15,204.7 L224.57,207.2 L224.96,209.7 L225.32,212.2 L225.65,214.7 L225.95,217.2 L226.24,219.7 L226.49,222.2 L226.73,224.7 L226.94,227.2 L227.13,229.7 L227.3,232.2 L227.45,234.7 L227.58,237.2 L227.7,239.7 L227.8,242.2 L227.89,244.7 L227.96,247.2 L228.02,249.7 L228.07,252.2 L228.11,254.7 L228.14,257.2 L228.17,259.7 L228.18,262.2 L228.19,264.7 L228.2,267.2 L228.2,269.7 L228.2,272.2 L228.18,274.7 L228.06,277.2 L227.89,279.7 L227.66,282.2 L227.4,284.7 L227.1,287.2 L226.77,289.7 L226.4,292.2 L226.01,294.7 L225.58,297.2 L225.13,299.7 L224.65,302.2 L224.14,304.7 L223.61,307.2 L223.05,309.7 L222.47,312.2 L221.86,314.7 L221.23,317.2 L220.57,319.7 L219.89,322.2 L219.19,324.7 L218.46,327.2 L217.71,329.7 L216.93,332.2 L216.12,334.7 L215.29,337.2 L214.42,339.7 L213.53,342.2 L212.59,344.7 L211.61,347.2 L210.59,349.3 L210.25,349.66 L209.89,349.96 L209.51,350.19 L209.11,350.35 L208.71,350.4 L199.9,350.4 L191.09,350.4 L190.69,350.35 L190.29,350.19 L189.91,349.96 L189.55,349.66 L189.21,349.3 L188.19,347.2 L187.21,344.7 L186.27,342.2 L185.38,339.7 L184.51,337.2 L183.68,334.7 L182.87,332.2 L182.09,329.7 L181.34,327.2 L180.61,324.7 L179.91,322.2 L179.23,319.7 L178.57,317.2 L177.94,314.7 L177.33,312.2 L176.75,309.7 L176.19,307.2 L175.66,304.7 L175.15,302.2 L174.67,299.7 L174.22,297.2 L173.79,294.7 L173.4,292.2 L173.03,289.7 L172.7,287.2 L172.4,284.7 L172.14,282.2 L171.91,279.7 L171.74,277.2 L171.62,274.7 L171.6,272.2 L171.6,269.7 L171.6,267.2 L171.61,264.7 L171.62,262.2 L171.63,259.7 L171.66,257.2 L171.69,254.7 L171.73,252.2 L171.78,249.7 L171.84,247.2 L171.91,244.7 L172,242.2 L172.1,239.7 L172.22,237.2 L172.35,234.7 L172.5,232.2 L172.67,229.7 L172.86,227.2 L173.07,224.7 L173.31,222.2 L173.56,219.7 L173.85,217.2 L174.15,214.7 L174.48,212.2 L174.84,209.7 L175.23,207.2 L175.65,204.7 L176.1,202.2 L176.58,199.7 L177.1,197.2 L177.65,194.7 L178.23,192.2 L178.85,189.7 L179.51,187.2 L180.21,184.7 L180.95,182.2 L181.73,179.7 L182.55,177.2 L183.42,174.7 L184.34,172.2 L185.3,169.7 L186.31,167.2 L187.37,164.7 L188.48,162.2 L189.65,159.7 L190.88,157.2 L192.17,154.7 L192.6,153.9 L193.03,153.1 L193.47,152.3 L193.92,151.5 L194.37,150.7 L194.83,149.9 L195.3,149.1 L195.78,148.3 L196.27,147.5 L196.76,146.7 L197.27,145.9 L197.79,145.1 L197.99,144.8 L198.19,144.5 L198.39,144.2 L198.59,143.9 L198.8,143.6 L199.01,143.3 L199.22,143 L199.44,142.7 L199.66,142.4 Z" fill="none" stroke="#5ba9de" stroke-width="11.6" clip-path="url(#g1)"/>
<g clip-path="url(#w1)"><path d="M182.64,224 Q199.9,218.4 217.16,224 Q221.66,224 222.04,228.5 L222.16,230.1 L222.27,231.7 L222.37,233.3 L222.46,234.9 L222.55,236.5 L222.63,238.1 L222.7,239.7 L222.77,241.3 L222.83,242.9 L222.88,244.5 L222.93,246.1 L222.97,247.7 L223.01,249.3 L223.05,250.9 L223.08,252.5 L223.1,254.1 L223.13,255.7 L223.14,257.3 L223.16,258.9 L223.17,260.5 L223.18,262.1 L223.19,263.7 L223.19,265.3 L223.2,266.9 L223.2,268.5 L223.2,270.1 L223.2,271.7 L223.2,273.3 L223.17,274.9 L223.1,276.5 L223,278.1 L222.89,279.7 L222.75,281.3 L222.59,282.9 L222.42,284.5 L222.24,286.1 L222.04,287.7 L221.83,289.3 L221.6,290.9 L221.36,292.5 Q220.62,297 216.12,297 Q199.9,299.2 183.68,297 Q179.18,297 178.44,292.5 L178.2,290.9 L177.97,289.3 L177.76,287.7 L177.56,286.1 L177.38,284.5 L177.21,282.9 L177.05,281.3 L176.91,279.7 L176.8,278.1 L176.7,276.5 L176.63,274.9 L176.6,273.3 L176.6,271.7 L176.6,270.1 L176.6,268.5 L176.6,266.9 L176.61,265.3 L176.61,263.7 L176.62,262.1 L176.63,260.5 L176.64,258.9 L176.66,257.3 L176.67,255.7 L176.7,254.1 L176.72,252.5 L176.75,250.9 L176.79,249.3 L176.83,247.7 L176.87,246.1 L176.92,244.5 L176.97,242.9 L177.03,241.3 L177.1,239.7 L177.17,238.1 L177.25,236.5 L177.34,234.9 L177.43,233.3 L177.53,231.7 L177.64,230.1 L177.76,228.5 Q178.14,224 182.64,224 Z" fill="#feb73f"/><g clip-path="url(#wx1)"><path d="M199.9,142.1 L200.14,142.4 L200.36,142.7 L200.58,143 L200.79,143.3 L201,143.6 L201.21,143.9 L201.41,144.2 L201.61,144.5 L201.81,144.8 L202.01,145.1 L202.53,145.9 L203.04,146.7 L203.53,147.5 L204.02,148.3 L204.5,149.1 L204.97,149.9 L205.43,150.7 L205.88,151.5 L206.33,152.3 L206.77,153.1 L207.2,153.9 L207.63,154.7 L208.92,157.2 L210.15,159.7 L211.32,162.2 L212.43,164.7 L213.49,167.2 L214.5,169.7 L215.46,172.2 L216.38,174.7 L217.25,177.2 L218.07,179.7 L218.85,182.2 L219.59,184.7 L220.29,187.2 L220.95,189.7 L221.57,192.2 L222.15,194.7 L222.7,197.2 L223.22,199.7 L223.7,202.2 L224.15,204.7 L224.57,207.2 L224.96,209.7 L225.32,212.2 L225.65,214.7 L225.95,217.2 L226.24,219.7 L226.49,222.2 L226.73,224.7 L226.94,227.2 L227.13,229.7 L227.3,232.2 L227.45,234.7 L227.58,237.2 L227.7,239.7 L227.8,242.2 L227.89,244.7 L227.96,247.2 L228.02,249.7 L228.07,252.2 L228.11,254.7 L228.14,257.2 L228.17,259.7 L228.18,262.2 L228.19,264.7 L228.2,267.2 L228.2,269.7 L228.2,272.2 L228.18,274.7 L228.06,277.2 L227.89,279.7 L227.66,282.2 L227.4,284.7 L227.1,287.2 L226.77,289.7 L226.4,292.2 L226.01,294.7 L225.58,297.2 L225.13,299.7 L224.65,302.2 L224.14,304.7 L223.61,307.2 L223.05,309.7 L222.47,312.2 L221.86,314.7 L221.23,317.2 L220.57,319.7 L219.89,322.2 L219.19,324.7 L218.46,327.2 L217.71,329.7 L216.93,332.2 L216.12,334.7 L215.29,337.2 L214.42,339.7 L213.53,342.2 L212.59,344.7 L211.61,347.2 L210.59,349.3 L210.25,349.66 L209.89,349.96 L209.51,350.19 L209.11,350.35 L208.71,350.4 L199.9,350.4 L191.09,350.4 L190.69,350.35 L190.29,350.19 L189.91,349.96 L189.55,349.66 L189.21,349.3 L188.19,347.2 L187.21,344.7 L186.27,342.2 L185.38,339.7 L184.51,337.2 L183.68,334.7 L182.87,332.2 L182.09,329.7 L181.34,327.2 L180.61,324.7 L179.91,322.2 L179.23,319.7 L178.57,317.2 L177.94,314.7 L177.33,312.2 L176.75,309.7 L176.19,307.2 L175.66,304.7 L175.15,302.2 L174.67,299.7 L174.22,297.2 L173.79,294.7 L173.4,292.2 L173.03,289.7 L172.7,287.2 L172.4,284.7 L172.14,282.2 L171.91,279.7 L171.74,277.2 L171.62,274.7 L171.6,272.2 L171.6,269.7 L171.6,267.2 L171.61,264.7 L171.62,262.2 L171.63,259.7 L171.66,257.2 L171.69,254.7 L171.73,252.2 L171.78,249.7 L171.84,247.2 L171.91,244.7 L172,242.2 L172.1,239.7 L172.22,237.2 L172.35,234.7 L172.5,232.2 L172.67,229.7 L172.86,227.2 L173.07,224.7 L173.31,222.2 L173.56,219.7 L173.85,217.2 L174.15,214.7 L174.48,212.2 L174.84,209.7 L175.23,207.2 L175.65,204.7 L176.1,202.2 L176.58,199.7 L177.1,197.2 L177.65,194.7 L178.23,192.2 L178.85,189.7 L179.51,187.2 L180.21,184.7 L180.95,182.2 L181.73,179.7 L182.55,177.2 L183.42,174.7 L184.34,172.2 L185.3,169.7 L186.31,167.2 L187.37,164.7 L188.48,162.2 L189.65,159.7 L190.88,157.2 L192.17,154.7 L192.6,153.9 L193.03,153.1 L193.47,152.3 L193.92,151.5 L194.37,150.7 L194.83,149.9 L195.3,149.1 L195.78,148.3 L196.27,147.5 L196.76,146.7 L197.27,145.9 L197.79,145.1 L197.99,144.8 L198.19,144.5 L198.39,144.2 L198.59,143.9 L198.8,143.6 L199.01,143.3 L199.22,143 L199.44,142.7 L199.66,142.4 Z" fill="none" stroke="#f0a030" stroke-width="15" stroke-opacity="0.45" filter="url(#blur1)"/></g></g>
<path d="M183.64,315.1 Q199.9,309.5 216.16,315.1 Q218.16,315.1 217.66,317.1 L217.5,317.69 L217.35,318.29 L217.19,318.88 L217.04,319.47 L216.88,320.06 L216.72,320.66 L216.56,321.25 L216.39,321.84 L216.23,322.43 L216.06,323.03 L215.9,323.62 L215.73,324.21 L215.56,324.8 L215.39,325.4 L215.22,325.99 L215.04,326.58 L214.87,327.17 L214.69,327.77 L214.51,328.36 L214.34,328.95 L214.15,329.54 L213.97,330.13 L213.79,330.73 L213.6,331.32 L213.42,331.91 L213.23,332.5 L213.04,333.1 L212.85,333.69 L212.66,334.28 L212.46,334.88 L212.27,335.47 L212.07,336.06 L211.87,336.65 L211.67,337.25 L211.47,337.84 L211.27,338.43 L211.06,339.02 L210.85,339.62 L210.64,340.21 L210.43,340.8 Q209.71,342.8 207.71,342.8 Q199.9,339.8 192.09,342.8 Q190.09,342.8 189.37,340.8 L189.16,340.21 L188.95,339.62 L188.74,339.02 L188.53,338.43 L188.33,337.84 L188.13,337.25 L187.93,336.65 L187.73,336.06 L187.53,335.47 L187.34,334.88 L187.14,334.28 L186.95,333.69 L186.76,333.1 L186.57,332.5 L186.38,331.91 L186.2,331.32 L186.01,330.73 L185.83,330.13 L185.65,329.54 L185.46,328.95 L185.29,328.36 L185.11,327.77 L184.93,327.17 L184.76,326.58 L184.58,325.99 L184.41,325.4 L184.24,324.8 L184.07,324.21 L183.9,323.62 L183.74,323.03 L183.57,322.43 L183.41,321.84 L183.24,321.25 L183.08,320.66 L182.92,320.06 L182.76,319.47 L182.61,318.88 L182.45,318.29 L182.3,317.69 L182.14,317.1 Q181.64,315.1 183.64,315.1 Z" fill="#fd383a"/>
</g>
<line x1="199.9" y1="142.1" x2="199.9" y2="221.2" stroke="#6a6a6a" stroke-width="1.5" clip-path="url(#c1)"/>
<line x1="199.9" y1="221.2" x2="199.9" y2="298.1" stroke="#d38d1d" stroke-width="1.5" clip-path="url(#c1)"/>
<line x1="199.9" y1="298.1" x2="199.9" y2="312.3" stroke="#6a6a6a" stroke-width="1.5" clip-path="url(#c1)"/>
<line x1="199.9" y1="312.3" x2="199.9" y2="341.3" stroke="#cc1f29" stroke-width="1.5" clip-path="url(#c1)"/>
<line x1="199.9" y1="341.3" x2="199.9" y2="350.4" stroke="#6a6a6a" stroke-width="1.5" clip-path="url(#c1)"/>
<path d="M199.9,142.1 L200.14,142.4 L200.36,142.7 L200.58,143 L200.79,143.3 L201,143.6 L201.21,143.9 L201.41,144.2 L201.61,144.5 L201.81,144.8 L202.01,145.1 L202.53,145.9 L203.04,146.7 L203.53,147.5 L204.02,148.3 L204.5,149.1 L204.97,149.9 L205.43,150.7 L205.88,151.5 L206.33,152.3 L206.77,153.1 L207.2,153.9 L207.63,154.7 L208.92,157.2 L210.15,159.7 L211.32,162.2 L212.43,164.7 L213.49,167.2 L214.5,169.7 L215.46,172.2 L216.38,174.7 L217.25,177.2 L218.07,179.7 L218.85,182.2 L219.59,184.7 L220.29,187.2 L220.95,189.7 L221.57,192.2 L222.15,194.7 L222.7,197.2 L223.22,199.7 L223.7,202.2 L224.15,204.7 L224.57,207.2 L224.96,209.7 L225.32,212.2 L225.65,214.7 L225.95,217.2 L226.24,219.7 L226.49,222.2 L226.73,224.7 L226.94,227.2 L227.13,229.7 L227.3,232.2 L227.45,234.7 L227.58,237.2 L227.7,239.7 L227.8,242.2 L227.89,244.7 L227.96,247.2 L228.02,249.7 L228.07,252.2 L228.11,254.7 L228.14,257.2 L228.17,259.7 L228.18,262.2 L228.19,264.7 L228.2,267.2 L228.2,269.7 L228.2,272.2 L228.18,274.7 L228.06,277.2 L227.89,279.7 L227.66,282.2 L227.4,284.7 L227.1,287.2 L226.77,289.7 L226.4,292.2 L226.01,294.7 L225.58,297.2 L225.13,299.7 L224.65,302.2 L224.14,304.7 L223.61,307.2 L223.05,309.7 L222.47,312.2 L221.86,314.7 L221.23,317.2 L220.57,319.7 L219.89,322.2 L219.19,324.7 L218.46,327.2 L217.71,329.7 L216.93,332.2 L216.12,334.7 L215.29,337.2 L214.42,339.7 L213.53,342.2 L212.59,344.7 L211.61,347.2 L210.59,349.3 L210.25,349.66 L209.89,349.96 L209.51,350.19 L209.11,350.35 L208.71,350.4 L199.9,350.4 L191.09,350.4 L190.69,350.35 L190.29,350.19 L189.91,349.96 L189.55,349.66 L189.21,349.3 L188.19,347.2 L187.21,344.7 L186.27,342.2 L185.38,339.7 L184.51,337.2 L183.68,334.7 L182.87,332.2 L182.09,329.7 L181.34,327.2 L180.61,324.7 L179.91,322.2 L179.23,319.7 L178.57,317.2 L177.94,314.7 L177.33,312.2 L176.75,309.7 L176.19,307.2 L175.66,304.7 L175.15,302.2 L174.67,299.7 L174.22,297.2 L173.79,294.7 L173.4,292.2 L173.03,289.7 L172.7,287.2 L172.4,284.7 L172.14,282.2 L171.91,279.7 L171.74,277.2 L171.62,274.7 L171.6,272.2 L171.6,269.7 L171.6,267.2 L171.61,264.7 L171.62,262.2 L171.63,259.7 L171.66,257.2 L171.69,254.7 L171.73,252.2 L171.78,249.7 L171.84,247.2 L171.91,244.7 L172,242.2 L172.1,239.7 L172.22,237.2 L172.35,234.7 L172.5,232.2 L172.67,229.7 L172.86,227.2 L173.07,224.7 L173.31,222.2 L173.56,219.7 L173.85,217.2 L174.15,214.7 L174.48,212.2 L174.84,209.7 L175.23,207.2 L175.65,204.7 L176.1,202.2 L176.58,199.7 L177.1,197.2 L177.65,194.7 L178.23,192.2 L178.85,189.7 L179.51,187.2 L180.21,184.7 L180.95,182.2 L181.73,179.7 L182.55,177.2 L183.42,174.7 L184.34,172.2 L185.3,169.7 L186.31,167.2 L187.37,164.7 L188.48,162.2 L189.65,159.7 L190.88,157.2 L192.17,154.7 L192.6,153.9 L193.03,153.1 L193.47,152.3 L193.92,151.5 L194.37,150.7 L194.83,149.9 L195.3,149.1 L195.78,148.3 L196.27,147.5 L196.76,146.7 L197.27,145.9 L197.79,145.1 L197.99,144.8 L198.19,144.5 L198.39,144.2 L198.59,143.9 L198.8,143.6 L199.01,143.3 L199.22,143 L199.44,142.7 L199.66,142.4 Z" fill="none" stroke="#616166" stroke-width="4.4" clip-path="url(#c1)" stroke-linejoin="round"/>
<path d="M290.6,114.2 L290.85,114.5 L291.07,114.8 L291.3,115.1 L291.52,115.4 L291.73,115.7 L291.94,116 L292.15,116.3 L292.36,116.6 L292.57,116.9 L292.77,117.2 L292.97,117.5 L293.5,118.3 L294.02,119.1 L294.54,119.9 L295.04,120.7 L295.54,121.5 L296.02,122.3 L296.51,123.1 L296.98,123.9 L297.45,124.7 L297.91,125.5 L298.37,126.3 L299.75,128.8 L301.08,131.3 L302.35,133.8 L303.58,136.3 L304.75,138.8 L305.88,141.3 L306.96,143.8 L308,146.3 L309,148.8 L309.95,151.3 L310.86,153.8 L311.72,156.3 L312.55,158.8 L313.34,161.3 L314.09,163.8 L314.81,166.3 L315.48,168.8 L316.12,171.3 L316.73,173.8 L317.3,176.3 L317.84,178.8 L318.34,181.3 L318.81,183.8 L319.26,186.3 L319.67,188.8 L320.05,191.3 L320.4,193.8 L320.72,196.3 L321.02,198.8 L321.29,201.3 L321.53,203.8 L321.75,206.3 L321.94,208.8 L322.11,211.3 L322.26,213.8 L322.39,216.3 L322.5,218.8 L322.59,221.3 L322.66,223.8 L322.71,226.3 L322.75,228.8 L322.78,231.3 L322.79,233.8 L322.8,236.3 L322.8,238.8 L322.8,241.3 L322.8,243.8 L322.79,246.3 L322.78,248.8 L322.76,251.3 L322.74,253.8 L322.7,256.3 L322.66,258.8 L322.6,261.3 L322.52,263.8 L322.43,266.3 L322.32,268.8 L322.19,271.3 L322.04,273.8 L321.87,276.3 L321.67,278.8 L321.44,281.3 L321.19,283.8 L320.9,286.3 L320.59,288.8 L320.24,291.3 L319.86,293.8 L319.44,296.3 L318.98,298.8 L318.49,301.3 L317.95,303.8 L317.38,306.3 L316.76,308.8 L316.1,311.3 L315.4,313.8 L314.66,316.3 L313.87,318.8 L313.04,321.3 L312.16,323.8 L311.25,326.3 L310.29,328.8 L309.3,331.3 L308.27,333.8 L307.21,336.3 L306.13,338.8 L305.04,341.3 L303.95,343.8 L302.88,346.3 L301.88,348.8 L301.29,350.7 L290.6,345 L279.91,350.7 L279.32,348.8 L278.32,346.3 L277.25,343.8 L276.16,341.3 L275.07,338.8 L273.99,336.3 L272.93,333.8 L271.9,331.3 L270.91,328.8 L269.95,326.3 L269.04,323.8 L268.16,321.3 L267.33,318.8 L266.54,316.3 L265.8,313.8 L265.1,311.3 L264.44,308.8 L263.82,306.3 L263.25,303.8 L262.71,301.3 L262.22,298.8 L261.76,296.3 L261.34,293.8 L260.96,291.3 L260.61,288.8 L260.3,286.3 L260.01,283.8 L259.76,281.3 L259.53,278.8 L259.33,276.3 L259.16,273.8 L259.01,271.3 L258.88,268.8 L258.77,266.3 L258.68,263.8 L258.6,261.3 L258.54,258.8 L258.5,256.3 L258.46,253.8 L258.44,251.3 L258.42,248.8 L258.41,246.3 L258.4,243.8 L258.4,241.3 L258.4,238.8 L258.4,236.3 L258.41,233.8 L258.42,231.3 L258.45,228.8 L258.49,226.3 L258.54,223.8 L258.61,221.3 L258.7,218.8 L258.81,216.3 L258.94,213.8 L259.09,211.3 L259.26,208.8 L259.45,206.3 L259.67,203.8 L259.91,201.3 L260.18,198.8 L260.48,196.3 L260.8,193.8 L261.15,191.3 L261.53,188.8 L261.94,186.3 L262.39,183.8 L262.86,181.3 L263.36,178.8 L263.9,176.3 L264.47,173.8 L265.08,171.3 L265.72,168.8 L266.39,166.3 L267.11,163.8 L267.86,161.3 L268.65,158.8 L269.48,156.3 L270.34,153.8 L271.25,151.3 L272.2,148.8 L273.2,146.3 L274.24,143.8 L275.32,141.3 L276.45,138.8 L277.62,136.3 L278.85,133.8 L280.12,131.3 L281.45,128.8 L282.83,126.3 L283.29,125.5 L283.75,124.7 L284.22,123.9 L284.69,123.1 L285.18,122.3 L285.66,121.5 L286.16,120.7 L286.66,119.9 L287.18,119.1 L287.7,118.3 L288.23,117.5 L288.43,117.2 L288.63,116.9 L288.84,116.6 L289.05,116.3 L289.26,116 L289.47,115.7 L289.68,115.4 L289.9,115.1 L290.13,114.8 L290.35,114.5 Z" fill="#fff"/>
<g clip-path="url(#c2)">
<path d="M290.6,114.2 L290.85,114.5 L291.07,114.8 L291.3,115.1 L291.52,115.4 L291.73,115.7 L291.94,116 L292.15,116.3 L292.36,116.6 L292.57,116.9 L292.77,117.2 L292.97,117.5 L293.5,118.3 L294.02,119.1 L294.54,119.9 L295.04,120.7 L295.54,121.5 L296.02,122.3 L296.51,123.1 L296.98,123.9 L297.45,124.7 L297.91,125.5 L298.37,126.3 L299.75,128.8 L301.08,131.3 L302.35,133.8 L303.58,136.3 L304.75,138.8 L305.88,141.3 L306.96,143.8 L308,146.3 L309,148.8 L309.95,151.3 L310.86,153.8 L311.72,156.3 L312.55,158.8 L313.34,161.3 L314.09,163.8 L314.81,166.3 L315.48,168.8 L316.12,171.3 L316.73,173.8 L317.3,176.3 L317.84,178.8 L318.34,181.3 L318.81,183.8 L319.26,186.3 L319.67,188.8 L320.05,191.3 L320.4,193.8 L320.72,196.3 L321.02,198.8 L321.29,201.3 L321.53,203.8 L321.75,206.3 L321.94,208.8 L322.11,211.3 L322.26,213.8 L322.39,216.3 L322.5,218.8 L322.59,221.3 L322.66,223.8 L322.71,226.3 L322.75,228.8 L322.78,231.3 L322.79,233.8 L322.8,236.3 L322.8,238.8 L322.8,241.3 L322.8,243.8 L322.79,246.3 L322.78,248.8 L322.76,251.3 L322.74,253.8 L322.7,256.3 L322.66,258.8 L322.6,261.3 L322.52,263.8 L322.43,266.3 L322.32,268.8 L322.19,271.3 L322.04,273.8 L321.87,276.3 L321.67,278.8 L321.44,281.3 L321.19,283.8 L320.9,286.3 L320.59,288.8 L320.24,291.3 L319.86,293.8 L319.44,296.3 L318.98,298.8 L318.49,301.3 L317.95,303.8 L317.38,306.3 L316.76,308.8 L316.1,311.3 L315.4,313.8 L314.66,316.3 L313.87,318.8 L313.04,321.3 L312.16,323.8 L311.25,326.3 L310.29,328.8 L309.3,331.3 L308.27,333.8 L307.21,336.3 L306.13,338.8 L305.04,341.3 L303.95,343.8 L302.88,346.3 L301.88,348.8 L301.29,350.7 L290.6,345 L279.91,350.7 L279.32,348.8 L278.32,346.3 L277.25,343.8 L276.16,341.3 L275.07,338.8 L273.99,336.3 L272.93,333.8 L271.9,331.3 L270.91,328.8 L269.95,326.3 L269.04,323.8 L268.16,321.3 L267.33,318.8 L266.54,316.3 L265.8,313.8 L265.1,311.3 L264.44,308.8 L263.82,306.3 L263.25,303.8 L262.71,301.3 L262.22,298.8 L261.76,296.3 L261.34,293.8 L260.96,291.3 L260.61,288.8 L260.3,286.3 L260.01,283.8 L259.76,281.3 L259.53,278.8 L259.33,276.3 L259.16,273.8 L259.01,271.3 L258.88,268.8 L258.77,266.3 L258.68,263.8 L258.6,261.3 L258.54,258.8 L258.5,256.3 L258.46,253.8 L258.44,251.3 L258.42,248.8 L258.41,246.3 L258.4,243.8 L258.4,241.3 L258.4,238.8 L258.4,236.3 L258.41,233.8 L258.42,231.3 L258.45,228.8 L258.49,226.3 L258.54,223.8 L258.61,221.3 L258.7,218.8 L258.81,216.3 L258.94,213.8 L259.09,211.3 L259.26,208.8 L259.45,206.3 L259.67,203.8 L259.91,201.3 L260.18,198.8 L260.48,196.3 L260.8,193.8 L261.15,191.3 L261.53,188.8 L261.94,186.3 L262.39,183.8 L262.86,181.3 L263.36,178.8 L263.9,176.3 L264.47,173.8 L265.08,171.3 L265.72,168.8 L266.39,166.3 L267.11,163.8 L267.86,161.3 L268.65,158.8 L269.48,156.3 L270.34,153.8 L271.25,151.3 L272.2,148.8 L273.2,146.3 L274.24,143.8 L275.32,141.3 L276.45,138.8 L277.62,136.3 L278.85,133.8 L280.12,131.3 L281.45,128.8 L282.83,126.3 L283.29,125.5 L283.75,124.7 L284.22,123.9 L284.69,123.1 L285.18,122.3 L285.66,121.5 L286.16,120.7 L286.66,119.9 L287.18,119.1 L287.7,118.3 L288.23,117.5 L288.43,117.2 L288.63,116.9 L288.84,116.6 L289.05,116.3 L289.26,116 L289.47,115.7 L289.68,115.4 L289.9,115.1 L290.13,114.8 L290.35,114.5 Z" fill="none" stroke="#d0d0d0" stroke-width="10.4" filter="url(#blur2)"/>
<path d="M290.6,114.2 L290.85,114.5 L291.07,114.8 L291.3,115.1 L291.52,115.4 L291.73,115.7 L291.94,116 L292.15,116.3 L292.36,116.6 L292.57,116.9 L292.77,117.2 L292.97,117.5 L293.5,118.3 L294.02,119.1 L294.54,119.9 L295.04,120.7 L295.54,121.5 L296.02,122.3 L296.51,123.1 L296.98,123.9 L297.45,124.7 L297.91,125.5 L298.37,126.3 L299.75,128.8 L301.08,131.3 L302.35,133.8 L303.58,136.3 L304.75,138.8 L305.88,141.3 L306.96,143.8 L308,146.3 L309,148.8 L309.95,151.3 L310.86,153.8 L311.72,156.3 L312.55,158.8 L313.34,161.3 L314.09,163.8 L314.81,166.3 L315.48,168.8 L316.12,171.3 L316.73,173.8 L317.3,176.3 L317.84,178.8 L318.34,181.3 L318.81,183.8 L319.26,186.3 L319.67,188.8 L320.05,191.3 L320.4,193.8 L320.72,196.3 L321.02,198.8 L321.29,201.3 L321.53,203.8 L321.75,206.3 L321.94,208.8 L322.11,211.3 L322.26,213.8 L322.39,216.3 L322.5,218.8 L322.59,221.3 L322.66,223.8 L322.71,226.3 L322.75,228.8 L322.78,231.3 L322.79,233.8 L322.8,236.3 L322.8,238.8 L322.8,241.3 L322.8,243.8 L322.79,246.3 L322.78,248.8 L322.76,251.3 L322.74,253.8 L322.7,256.3 L322.66,258.8 L322.6,261.3 L322.52,263.8 L322.43,266.3 L322.32,268.8 L322.19,271.3 L322.04,273.8 L321.87,276.3 L321.67,278.8 L321.44,281.3 L321.19,283.8 L320.9,286.3 L320.59,288.8 L320.24,291.3 L319.86,293.8 L319.44,296.3 L318.98,298.8 L318.49,301.3 L317.95,303.8 L317.38,306.3 L316.76,308.8 L316.1,311.3 L315.4,313.8 L314.66,316.3 L313.87,318.8 L313.04,321.3 L312.16,323.8 L311.25,326.3 L310.29,328.8 L309.3,331.3 L308.27,333.8 L307.21,336.3 L306.13,338.8 L305.04,341.3 L303.95,343.8 L302.88,346.3 L301.88,348.8 L301.29,350.7 L290.6,345 L279.91,350.7 L279.32,348.8 L278.32,346.3 L277.25,343.8 L276.16,341.3 L275.07,338.8 L273.99,336.3 L272.93,333.8 L271.9,331.3 L270.91,328.8 L269.95,326.3 L269.04,323.8 L268.16,321.3 L267.33,318.8 L266.54,316.3 L265.8,313.8 L265.1,311.3 L264.44,308.8 L263.82,306.3 L263.25,303.8 L262.71,301.3 L262.22,298.8 L261.76,296.3 L261.34,293.8 L260.96,291.3 L260.61,288.8 L260.3,286.3 L260.01,283.8 L259.76,281.3 L259.53,278.8 L259.33,276.3 L259.16,273.8 L259.01,271.3 L258.88,268.8 L258.77,266.3 L258.68,263.8 L258.6,261.3 L258.54,258.8 L258.5,256.3 L258.46,253.8 L258.44,251.3 L258.42,248.8 L258.41,246.3 L258.4,243.8 L258.4,241.3 L258.4,238.8 L258.4,236.3 L258.41,233.8 L258.42,231.3 L258.45,228.8 L258.49,226.3 L258.54,223.8 L258.61,221.3 L258.7,218.8 L258.81,216.3 L258.94,213.8 L259.09,211.3 L259.26,208.8 L259.45,206.3 L259.67,203.8 L259.91,201.3 L260.18,198.8 L260.48,196.3 L260.8,193.8 L261.15,191.3 L261.53,188.8 L261.94,186.3 L262.39,183.8 L262.86,181.3 L263.36,178.8 L263.9,176.3 L264.47,173.8 L265.08,171.3 L265.72,168.8 L266.39,166.3 L267.11,163.8 L267.86,161.3 L268.65,158.8 L269.48,156.3 L270.34,153.8 L271.25,151.3 L272.2,148.8 L273.2,146.3 L274.24,143.8 L275.32,141.3 L276.45,138.8 L277.62,136.3 L278.85,133.8 L280.12,131.3 L281.45,128.8 L282.83,126.3 L283.29,125.5 L283.75,124.7 L284.22,123.9 L284.69,123.1 L285.18,122.3 L285.66,121.5 L286.16,120.7 L286.66,119.9 L287.18,119.1 L287.7,118.3 L288.23,117.5 L288.43,117.2 L288.63,116.9 L288.84,116.6 L289.05,116.3 L289.26,116 L289.47,115.7 L289.68,115.4 L289.9,115.1 L290.13,114.8 L290.35,114.5 Z" fill="none" stroke="#5ba9de" stroke-width="11.6" clip-path="url(#g2)"/>
<g clip-path="url(#w2)"><path d="M270.11,194.5 Q290.6,191.5 311.09,194.5 Q316.59,194.5 317.25,200 L317.47,202.12 L317.67,204.25 L317.85,206.38 L318.02,208.5 L318.17,210.62 L318.3,212.75 L318.42,214.88 L318.52,217 L318.61,219.12 L318.68,221.25 L318.75,223.38 L318.8,225.5 L318.83,227.62 L318.86,229.75 L318.88,231.88 L318.89,234 L318.9,236.12 L318.9,238.25 L318.9,240.38 L318.9,242.5 L318.89,244.62 L318.89,246.75 L318.88,248.88 L318.87,251 L318.85,253.12 L318.82,255.25 L318.78,257.38 L318.74,259.5 L318.69,261.62 L318.62,263.75 L318.55,265.88 L318.46,268 L318.36,270.12 L318.24,272.25 L318.1,274.38 L317.95,276.5 L317.78,278.62 L317.59,280.75 L317.38,282.88 L317.15,285 Q316.45,290.5 310.95,290.5 Q290.6,296.1 270.25,290.5 Q264.75,290.5 264.05,285 L263.82,282.88 L263.61,280.75 L263.42,278.62 L263.25,276.5 L263.1,274.38 L262.96,272.25 L262.84,270.12 L262.74,268 L262.65,265.88 L262.58,263.75 L262.51,261.62 L262.46,259.5 L262.42,257.38 L262.38,255.25 L262.35,253.12 L262.33,251 L262.32,248.88 L262.31,246.75 L262.31,244.62 L262.3,242.5 L262.3,240.38 L262.3,238.25 L262.3,236.12 L262.31,234 L262.32,231.88 L262.34,229.75 L262.37,227.62 L262.4,225.5 L262.45,223.38 L262.52,221.25 L262.59,219.12 L262.68,217 L262.78,214.88 L262.9,212.75 L263.03,210.62 L263.18,208.5 L263.35,206.38 L263.53,204.25 L263.73,202.12 L263.95,200 Q264.61,194.5 270.11,194.5 Z" fill="#feb73f"/><g clip-path="url(#wx2)"><path d="M290.6,114.2 L290.85,114.5 L291.07,114.8 L291.3,115.1 L291.52,115.4 L291.73,115.7 L291.94,116 L292.15,116.3 L292.36,116.6 L292.57,116.9 L292.77,117.2 L292.97,117.5 L293.5,118.3 L294.02,119.1 L294.54,119.9 L295.04,120.7 L295.54,121.5 L296.02,122.3 L296.51,123.1 L296.98,123.9 L297.45,124.7 L297.91,125.5 L298.37,126.3 L299.75,128.8 L301.08,131.3 L302.35,133.8 L303.58,136.3 L304.75,138.8 L305.88,141.3 L306.96,143.8 L308,146.3 L309,148.8 L309.95,151.3 L310.86,153.8 L311.72,156.3 L312.55,158.8 L313.34,161.3 L314.09,163.8 L314.81,166.3 L315.48,168.8 L316.12,171.3 L316.73,173.8 L317.3,176.3 L317.84,178.8 L318.34,181.3 L318.81,183.8 L319.26,186.3 L319.67,188.8 L320.05,191.3 L320.4,193.8 L320.72,196.3 L321.02,198.8 L321.29,201.3 L321.53,203.8 L321.75,206.3 L321.94,208.8 L322.11,211.3 L322.26,213.8 L322.39,216.3 L322.5,218.8 L322.59,221.3 L322.66,223.8 L322.71,226.3 L322.75,228.8 L322.78,231.3 L322.79,233.8 L322.8,236.3 L322.8,238.8 L322.8,241.3 L322.8,243.8 L322.79,246.3 L322.78,248.8 L322.76,251.3 L322.74,253.8 L322.7,256.3 L322.66,258.8 L322.6,261.3 L322.52,263.8 L322.43,266.3 L322.32,268.8 L322.19,271.3 L322.04,273.8 L321.87,276.3 L321.67,278.8 L321.44,281.3 L321.19,283.8 L320.9,286.3 L320.59,288.8 L320.24,291.3 L319.86,293.8 L319.44,296.3 L318.98,298.8 L318.49,301.3 L317.95,303.8 L317.38,306.3 L316.76,308.8 L316.1,311.3 L315.4,313.8 L314.66,316.3 L313.87,318.8 L313.04,321.3 L312.16,323.8 L311.25,326.3 L310.29,328.8 L309.3,331.3 L308.27,333.8 L307.21,336.3 L306.13,338.8 L305.04,341.3 L303.95,343.8 L302.88,346.3 L301.88,348.8 L301.29,350.7 L290.6,345 L279.91,350.7 L279.32,348.8 L278.32,346.3 L277.25,343.8 L276.16,341.3 L275.07,338.8 L273.99,336.3 L272.93,333.8 L271.9,331.3 L270.91,328.8 L269.95,326.3 L269.04,323.8 L268.16,321.3 L267.33,318.8 L266.54,316.3 L265.8,313.8 L265.1,311.3 L264.44,308.8 L263.82,306.3 L263.25,303.8 L262.71,301.3 L262.22,298.8 L261.76,296.3 L261.34,293.8 L260.96,291.3 L260.61,288.8 L260.3,286.3 L260.01,283.8 L259.76,281.3 L259.53,278.8 L259.33,276.3 L259.16,273.8 L259.01,271.3 L258.88,268.8 L258.77,266.3 L258.68,263.8 L258.6,261.3 L258.54,258.8 L258.5,256.3 L258.46,253.8 L258.44,251.3 L258.42,248.8 L258.41,246.3 L258.4,243.8 L258.4,241.3 L258.4,238.8 L258.4,236.3 L258.41,233.8 L258.42,231.3 L258.45,228.8 L258.49,226.3 L258.54,223.8 L258.61,221.3 L258.7,218.8 L258.81,216.3 L258.94,213.8 L259.09,211.3 L259.26,208.8 L259.45,206.3 L259.67,203.8 L259.91,201.3 L260.18,198.8 L260.48,196.3 L260.8,193.8 L261.15,191.3 L261.53,188.8 L261.94,186.3 L262.39,183.8 L262.86,181.3 L263.36,178.8 L263.9,176.3 L264.47,173.8 L265.08,171.3 L265.72,168.8 L266.39,166.3 L267.11,163.8 L267.86,161.3 L268.65,158.8 L269.48,156.3 L270.34,153.8 L271.25,151.3 L272.2,148.8 L273.2,146.3 L274.24,143.8 L275.32,141.3 L276.45,138.8 L277.62,136.3 L278.85,133.8 L280.12,131.3 L281.45,128.8 L282.83,126.3 L283.29,125.5 L283.75,124.7 L284.22,123.9 L284.69,123.1 L285.18,122.3 L285.66,121.5 L286.16,120.7 L286.66,119.9 L287.18,119.1 L287.7,118.3 L288.23,117.5 L288.43,117.2 L288.63,116.9 L288.84,116.6 L289.05,116.3 L289.26,116 L289.47,115.7 L289.68,115.4 L289.9,115.1 L290.13,114.8 L290.35,114.5 Z" fill="none" stroke="#f0a030" stroke-width="12.8" stroke-opacity="0.45" filter="url(#blur1)"/></g></g>
<path d="M271.69,314.8 Q290.6,309.6 309.51,314.8 Q311.51,314.8 310.9,316.8 L310.72,317.4 L310.53,317.99 L310.34,318.59 L310.15,319.18 L309.95,319.78 L309.75,320.37 L309.55,320.97 L309.35,321.56 L309.14,322.16 L308.94,322.75 L308.73,323.35 L308.51,323.94 L308.3,324.54 L308.08,325.13 L307.86,325.73 L307.64,326.32 L307.42,326.92 L307.19,327.51 L306.96,328.11 L306.73,328.7 L306.5,329.3 L306.26,329.89 L306.03,330.49 L305.79,331.08 L305.55,331.68 L305.3,332.27 L305.06,332.87 L304.81,333.46 L304.57,334.06 L304.32,334.65 L304.06,335.25 L303.81,335.84 L303.56,336.44 L303.3,337.03 L303.04,337.62 L302.79,338.22 L302.53,338.81 L302.27,339.41 L302.01,340 L301.75,340.6 Q300.87,342.6 298.87,342.6 Q290.6,339.6 282.33,342.6 Q280.33,342.6 279.45,340.6 L279.19,340 L278.93,339.41 L278.67,338.81 L278.41,338.22 L278.16,337.62 L277.9,337.03 L277.64,336.44 L277.39,335.84 L277.14,335.25 L276.88,334.65 L276.63,334.06 L276.39,333.46 L276.14,332.87 L275.9,332.27 L275.65,331.68 L275.41,331.08 L275.17,330.49 L274.94,329.89 L274.7,329.3 L274.47,328.7 L274.24,328.11 L274.01,327.51 L273.78,326.92 L273.56,326.32 L273.34,325.73 L273.12,325.13 L272.9,324.54 L272.69,323.94 L272.47,323.35 L272.26,322.75 L272.06,322.16 L271.85,321.56 L271.65,320.97 L271.45,320.37 L271.25,319.78 L271.05,319.18 L270.86,318.59 L270.67,317.99 L270.48,317.4 L270.3,316.8 Q269.69,314.8 271.69,314.8 Z" fill="#fd383a"/>
</g>
<line x1="290.6" y1="114.2" x2="290.6" y2="193" stroke="#6a6a6a" stroke-width="1.5" clip-path="url(#c2)"/>
<line x1="290.6" y1="193" x2="290.6" y2="293.3" stroke="#d38d1d" stroke-width="1.5" clip-path="url(#c2)"/>
<line x1="290.6" y1="293.3" x2="290.6" y2="312.2" stroke="#6a6a6a" stroke-width="1.5" clip-path="url(#c2)"/>
<line x1="290.6" y1="312.2" x2="290.6" y2="341.1" stroke="#cc1f29" stroke-width="1.5" clip-path="url(#c2)"/>
<line x1="290.6" y1="341.1" x2="290.6" y2="345" stroke="#6a6a6a" stroke-width="1.5" clip-path="url(#c2)"/>
<path d="M290.6,114.2 L290.85,114.5 L291.07,114.8 L291.3,115.1 L291.52,115.4 L291.73,115.7 L291.94,116 L292.15,116.3 L292.36,116.6 L292.57,116.9 L292.77,117.2 L292.97,117.5 L293.5,118.3 L294.02,119.1 L294.54,119.9 L295.04,120.7 L295.54,121.5 L296.02,122.3 L296.51,123.1 L296.98,123.9 L297.45,124.7 L297.91,125.5 L298.37,126.3 L299.75,128.8 L301.08,131.3 L302.35,133.8 L303.58,136.3 L304.75,138.8 L305.88,141.3 L306.96,143.8 L308,146.3 L309,148.8 L309.95,151.3 L310.86,153.8 L311.72,156.3 L312.55,158.8 L313.34,161.3 L314.09,163.8 L314.81,166.3 L315.48,168.8 L316.12,171.3 L316.73,173.8 L317.3,176.3 L317.84,178.8 L318.34,181.3 L318.81,183.8 L319.26,186.3 L319.67,188.8 L320.05,191.3 L320.4,193.8 L320.72,196.3 L321.02,198.8 L321.29,201.3 L321.53,203.8 L321.75,206.3 L321.94,208.8 L322.11,211.3 L322.26,213.8 L322.39,216.3 L322.5,218.8 L322.59,221.3 L322.66,223.8 L322.71,226.3 L322.75,228.8 L322.78,231.3 L322.79,233.8 L322.8,236.3 L322.8,238.8 L322.8,241.3 L322.8,243.8 L322.79,246.3 L322.78,248.8 L322.76,251.3 L322.74,253.8 L322.7,256.3 L322.66,258.8 L322.6,261.3 L322.52,263.8 L322.43,266.3 L322.32,268.8 L322.19,271.3 L322.04,273.8 L321.87,276.3 L321.67,278.8 L321.44,281.3 L321.19,283.8 L320.9,286.3 L320.59,288.8 L320.24,291.3 L319.86,293.8 L319.44,296.3 L318.98,298.8 L318.49,301.3 L317.95,303.8 L317.38,306.3 L316.76,308.8 L316.1,311.3 L315.4,313.8 L314.66,316.3 L313.87,318.8 L313.04,321.3 L312.16,323.8 L311.25,326.3 L310.29,328.8 L309.3,331.3 L308.27,333.8 L307.21,336.3 L306.13,338.8 L305.04,341.3 L303.95,343.8 L302.88,346.3 L301.88,348.8 L301.29,350.7 L290.6,345 L279.91,350.7 L279.32,348.8 L278.32,346.3 L277.25,343.8 L276.16,341.3 L275.07,338.8 L273.99,336.3 L272.93,333.8 L271.9,331.3 L270.91,328.8 L269.95,326.3 L269.04,323.8 L268.16,321.3 L267.33,318.8 L266.54,316.3 L265.8,313.8 L265.1,311.3 L264.44,308.8 L263.82,306.3 L263.25,303.8 L262.71,301.3 L262.22,298.8 L261.76,296.3 L261.34,293.8 L260.96,291.3 L260.61,288.8 L260.3,286.3 L260.01,283.8 L259.76,281.3 L259.53,278.8 L259.33,276.3 L259.16,273.8 L259.01,271.3 L258.88,268.8 L258.77,266.3 L258.68,263.8 L258.6,261.3 L258.54,258.8 L258.5,256.3 L258.46,253.8 L258.44,251.3 L258.42,248.8 L258.41,246.3 L258.4,243.8 L258.4,241.3 L258.4,238.8 L258.4,236.3 L258.41,233.8 L258.42,231.3 L258.45,228.8 L258.49,226.3 L258.54,223.8 L258.61,221.3 L258.7,218.8 L258.81,216.3 L258.94,213.8 L259.09,211.3 L259.26,208.8 L259.45,206.3 L259.67,203.8 L259.91,201.3 L260.18,198.8 L260.48,196.3 L260.8,193.8 L261.15,191.3 L261.53,188.8 L261.94,186.3 L262.39,183.8 L262.86,181.3 L263.36,178.8 L263.9,176.3 L264.47,173.8 L265.08,171.3 L265.72,168.8 L266.39,166.3 L267.11,163.8 L267.86,161.3 L268.65,158.8 L269.48,156.3 L270.34,153.8 L271.25,151.3 L272.2,148.8 L273.2,146.3 L274.24,143.8 L275.32,141.3 L276.45,138.8 L277.62,136.3 L278.85,133.8 L280.12,131.3 L281.45,128.8 L282.83,126.3 L283.29,125.5 L283.75,124.7 L284.22,123.9 L284.69,123.1 L285.18,122.3 L285.66,121.5 L286.16,120.7 L286.66,119.9 L287.18,119.1 L287.7,118.3 L288.23,117.5 L288.43,117.2 L288.63,116.9 L288.84,116.6 L289.05,116.3 L289.26,116 L289.47,115.7 L289.68,115.4 L289.9,115.1 L290.13,114.8 L290.35,114.5 Z" fill="none" stroke="#616166" stroke-width="4.4" clip-path="url(#c2)" stroke-linejoin="round"/>
<path d="M376.6,98.4 L376.74,98.7 L376.89,99 L377.03,99.3 L377.17,99.6 L377.31,99.9 L377.45,100.2 L377.59,100.5 L377.73,100.8 L377.87,101.1 L378.01,101.4 L378.15,101.7 L378.51,102.5 L378.88,103.3 L379.24,104.1 L379.6,104.9 L379.95,105.7 L380.3,106.5 L380.65,107.3 L380.99,108.1 L381.34,108.9 L381.68,109.7 L382.01,110.5 L383.04,113 L384.04,115.5 L385.01,118 L385.95,120.5 L386.87,123 L387.75,125.5 L388.6,128 L389.43,130.5 L390.23,133 L391,135.5 L391.74,138 L392.46,140.5 L393.15,143 L393.81,145.5 L394.45,148 L395.06,150.5 L395.64,153 L396.2,155.5 L396.73,158 L397.24,160.5 L397.72,163 L398.18,165.5 L398.61,168 L399.03,170.5 L399.41,173 L399.78,175.5 L400.12,178 L400.44,180.5 L400.74,183 L401.01,185.5 L401.27,188 L401.5,190.5 L401.72,193 L401.91,195.5 L402.09,198 L402.24,200.5 L402.38,203 L402.5,205.5 L402.61,208 L402.7,210.5 L402.77,213 L402.83,215.5 L402.87,218 L402.9,220.5 L402.92,223 L402.93,225.5 L402.94,228 L402.93,230.5 L402.92,233 L402.89,235.5 L402.85,238 L402.8,240.5 L402.74,243 L402.66,245.5 L402.57,248 L402.47,250.5 L402.35,253 L402.22,255.5 L402.08,258 L401.92,260.5 L401.74,263 L401.55,265.5 L401.35,268 L401.13,270.5 L400.89,273 L400.64,275.5 L400.37,278 L400.08,280.5 L399.77,283 L399.45,285.5 L399.11,288 L398.74,290.5 L398.36,293 L397.96,295.5 L397.53,298 L397.08,300.5 L396.61,303 L396.12,305.5 L395.59,308 L395.04,310.5 L394.46,313 L393.85,315.5 L393.21,318 L392.53,320.5 L391.81,323 L391.05,325.5 L390.23,328 L389.37,330.5 L388.44,333 L387.44,335.5 L386.36,338 L385.16,340.5 L384.75,341.3 L384.32,342.1 L383.88,342.9 L383.41,343.7 L382.92,344.5 L382.4,345.3 L381.85,346.1 L381.26,346.9 L380.61,347.7 L380.35,348 L380.08,348.3 L379.79,348.6 L379.49,348.9 L379.16,349.2 L378.8,349.5 L378.41,349.8 L377.95,350.1 L377.37,350.4 L376.61,350.6 L376.59,350.6 L375.83,350.4 L375.25,350.1 L374.79,349.8 L374.4,349.5 L374.04,349.2 L373.71,348.9 L373.41,348.6 L373.12,348.3 L372.85,348 L372.59,347.7 L371.94,346.9 L371.35,346.1 L370.8,345.3 L370.28,344.5 L369.79,343.7 L369.32,342.9 L368.88,342.1 L368.45,341.3 L368.04,340.5 L366.84,338 L365.76,335.5 L364.76,333 L363.83,330.5 L362.97,328 L362.15,325.5 L361.39,323 L360.67,320.5 L359.99,318 L359.35,315.5 L358.74,313 L358.16,310.5 L357.61,308 L357.08,305.5 L356.59,303 L356.12,300.5 L355.67,298 L355.24,295.5 L354.84,293 L354.46,290.5 L354.09,288 L353.75,285.5 L353.43,283 L353.12,280.5 L352.83,278 L352.56,275.5 L352.31,273 L352.07,270.5 L351.85,268 L351.65,265.5 L351.46,263 L351.28,260.5 L351.12,258 L350.98,255.5 L350.85,253 L350.73,250.5 L350.63,248 L350.54,245.5 L350.46,243 L350.4,240.5 L350.35,238 L350.31,235.5 L350.28,233 L350.27,230.5 L350.26,228 L350.27,225.5 L350.28,223 L350.3,220.5 L350.33,218 L350.37,215.5 L350.43,213 L350.5,210.5 L350.59,208 L350.7,205.5 L350.82,203 L350.96,200.5 L351.11,198 L351.29,195.5 L351.48,193 L351.7,190.5 L351.93,188 L352.19,185.5 L352.46,183 L352.76,180.5 L353.08,178 L353.42,175.5 L353.79,173 L354.17,170.5 L354.59,168 L355.02,165.5 L355.48,163 L355.96,160.5 L356.47,158 L357,155.5 L357.56,153 L358.14,150.5 L358.75,148 L359.39,145.5 L360.05,143 L360.74,140.5 L361.46,138 L362.2,135.5 L362.97,133 L363.77,130.5 L364.6,128 L365.45,125.5 L366.33,123 L367.25,120.5 L368.19,118 L369.16,115.5 L370.16,113 L371.19,110.5 L371.52,109.7 L371.86,108.9 L372.21,108.1 L372.55,107.3 L372.9,106.5 L373.25,105.7 L373.6,104.9 L373.96,104.1 L374.32,103.3 L374.69,102.5 L375.05,101.7 L375.19,101.4 L375.33,101.1 L375.47,100.8 L375.61,100.5 L375.75,100.2 L375.89,99.9 L376.03,99.6 L376.17,99.3 L376.31,99 L376.46,98.7 Z" fill="#fff"/>
<g clip-path="url(#c3)">
<path d="M376.6,98.4 L376.74,98.7 L376.89,99 L377.03,99.3 L377.17,99.6 L377.31,99.9 L377.45,100.2 L377.59,100.5 L377.73,100.8 L377.87,101.1 L378.01,101.4 L378.15,101.7 L378.51,102.5 L378.88,103.3 L379.24,104.1 L379.6,104.9 L379.95,105.7 L380.3,106.5 L380.65,107.3 L380.99,108.1 L381.34,108.9 L381.68,109.7 L382.01,110.5 L383.04,113 L384.04,115.5 L385.01,118 L385.95,120.5 L386.87,123 L387.75,125.5 L388.6,128 L389.43,130.5 L390.23,133 L391,135.5 L391.74,138 L392.46,140.5 L393.15,143 L393.81,145.5 L394.45,148 L395.06,150.5 L395.64,153 L396.2,155.5 L396.73,158 L397.24,160.5 L397.72,163 L398.18,165.5 L398.61,168 L399.03,170.5 L399.41,173 L399.78,175.5 L400.12,178 L400.44,180.5 L400.74,183 L401.01,185.5 L401.27,188 L401.5,190.5 L401.72,193 L401.91,195.5 L402.09,198 L402.24,200.5 L402.38,203 L402.5,205.5 L402.61,208 L402.7,210.5 L402.77,213 L402.83,215.5 L402.87,218 L402.9,220.5 L402.92,223 L402.93,225.5 L402.94,228 L402.93,230.5 L402.92,233 L402.89,235.5 L402.85,238 L402.8,240.5 L402.74,243 L402.66,245.5 L402.57,248 L402.47,250.5 L402.35,253 L402.22,255.5 L402.08,258 L401.92,260.5 L401.74,263 L401.55,265.5 L401.35,268 L401.13,270.5 L400.89,273 L400.64,275.5 L400.37,278 L400.08,280.5 L399.77,283 L399.45,285.5 L399.11,288 L398.74,290.5 L398.36,293 L397.96,295.5 L397.53,298 L397.08,300.5 L396.61,303 L396.12,305.5 L395.59,308 L395.04,310.5 L394.46,313 L393.85,315.5 L393.21,318 L392.53,320.5 L391.81,323 L391.05,325.5 L390.23,328 L389.37,330.5 L388.44,333 L387.44,335.5 L386.36,338 L385.16,340.5 L384.75,341.3 L384.32,342.1 L383.88,342.9 L383.41,343.7 L382.92,344.5 L382.4,345.3 L381.85,346.1 L381.26,346.9 L380.61,347.7 L380.35,348 L380.08,348.3 L379.79,348.6 L379.49,348.9 L379.16,349.2 L378.8,349.5 L378.41,349.8 L377.95,350.1 L377.37,350.4 L376.61,350.6 L376.59,350.6 L375.83,350.4 L375.25,350.1 L374.79,349.8 L374.4,349.5 L374.04,349.2 L373.71,348.9 L373.41,348.6 L373.12,348.3 L372.85,348 L372.59,347.7 L371.94,346.9 L371.35,346.1 L370.8,345.3 L370.28,344.5 L369.79,343.7 L369.32,342.9 L368.88,342.1 L368.45,341.3 L368.04,340.5 L366.84,338 L365.76,335.5 L364.76,333 L363.83,330.5 L362.97,328 L362.15,325.5 L361.39,323 L360.67,320.5 L359.99,318 L359.35,315.5 L358.74,313 L358.16,310.5 L357.61,308 L357.08,305.5 L356.59,303 L356.12,300.5 L355.67,298 L355.24,295.5 L354.84,293 L354.46,290.5 L354.09,288 L353.75,285.5 L353.43,283 L353.12,280.5 L352.83,278 L352.56,275.5 L352.31,273 L352.07,270.5 L351.85,268 L351.65,265.5 L351.46,263 L351.28,260.5 L351.12,258 L350.98,255.5 L350.85,253 L350.73,250.5 L350.63,248 L350.54,245.5 L350.46,243 L350.4,240.5 L350.35,238 L350.31,235.5 L350.28,233 L350.27,230.5 L350.26,228 L350.27,225.5 L350.28,223 L350.3,220.5 L350.33,218 L350.37,215.5 L350.43,213 L350.5,210.5 L350.59,208 L350.7,205.5 L350.82,203 L350.96,200.5 L351.11,198 L351.29,195.5 L351.48,193 L351.7,190.5 L351.93,188 L352.19,185.5 L352.46,183 L352.76,180.5 L353.08,178 L353.42,175.5 L353.79,173 L354.17,170.5 L354.59,168 L355.02,165.5 L355.48,163 L355.96,160.5 L356.47,158 L357,155.5 L357.56,153 L358.14,150.5 L358.75,148 L359.39,145.5 L360.05,143 L360.74,140.5 L361.46,138 L362.2,135.5 L362.97,133 L363.77,130.5 L364.6,128 L365.45,125.5 L366.33,123 L367.25,120.5 L368.19,118 L369.16,115.5 L370.16,113 L371.19,110.5 L371.52,109.7 L371.86,108.9 L372.21,108.1 L372.55,107.3 L372.9,106.5 L373.25,105.7 L373.6,104.9 L373.96,104.1 L374.32,103.3 L374.69,102.5 L375.05,101.7 L375.19,101.4 L375.33,101.1 L375.47,100.8 L375.61,100.5 L375.75,100.2 L375.89,99.9 L376.03,99.6 L376.17,99.3 L376.31,99 L376.46,98.7 Z" fill="none" stroke="#d0d0d0" stroke-width="10.4" filter="url(#blur2)"/>
<path d="M376.6,98.4 L376.74,98.7 L376.89,99 L377.03,99.3 L377.17,99.6 L377.31,99.9 L377.45,100.2 L377.59,100.5 L377.73,100.8 L377.87,101.1 L378.01,101.4 L378.15,101.7 L378.51,102.5 L378.88,103.3 L379.24,104.1 L379.6,104.9 L379.95,105.7 L380.3,106.5 L380.65,107.3 L380.99,108.1 L381.34,108.9 L381.68,109.7 L382.01,110.5 L383.04,113 L384.04,115.5 L385.01,118 L385.95,120.5 L386.87,123 L387.75,125.5 L388.6,128 L389.43,130.5 L390.23,133 L391,135.5 L391.74,138 L392.46,140.5 L393.15,143 L393.81,145.5 L394.45,148 L395.06,150.5 L395.64,153 L396.2,155.5 L396.73,158 L397.24,160.5 L397.72,163 L398.18,165.5 L398.61,168 L399.03,170.5 L399.41,173 L399.78,175.5 L400.12,178 L400.44,180.5 L400.74,183 L401.01,185.5 L401.27,188 L401.5,190.5 L401.72,193 L401.91,195.5 L402.09,198 L402.24,200.5 L402.38,203 L402.5,205.5 L402.61,208 L402.7,210.5 L402.77,213 L402.83,215.5 L402.87,218 L402.9,220.5 L402.92,223 L402.93,225.5 L402.94,228 L402.93,230.5 L402.92,233 L402.89,235.5 L402.85,238 L402.8,240.5 L402.74,243 L402.66,245.5 L402.57,248 L402.47,250.5 L402.35,253 L402.22,255.5 L402.08,258 L401.92,260.5 L401.74,263 L401.55,265.5 L401.35,268 L401.13,270.5 L400.89,273 L400.64,275.5 L400.37,278 L400.08,280.5 L399.77,283 L399.45,285.5 L399.11,288 L398.74,290.5 L398.36,293 L397.96,295.5 L397.53,298 L397.08,300.5 L396.61,303 L396.12,305.5 L395.59,308 L395.04,310.5 L394.46,313 L393.85,315.5 L393.21,318 L392.53,320.5 L391.81,323 L391.05,325.5 L390.23,328 L389.37,330.5 L388.44,333 L387.44,335.5 L386.36,338 L385.16,340.5 L384.75,341.3 L384.32,342.1 L383.88,342.9 L383.41,343.7 L382.92,344.5 L382.4,345.3 L381.85,346.1 L381.26,346.9 L380.61,347.7 L380.35,348 L380.08,348.3 L379.79,348.6 L379.49,348.9 L379.16,349.2 L378.8,349.5 L378.41,349.8 L377.95,350.1 L377.37,350.4 L376.61,350.6 L376.59,350.6 L375.83,350.4 L375.25,350.1 L374.79,349.8 L374.4,349.5 L374.04,349.2 L373.71,348.9 L373.41,348.6 L373.12,348.3 L372.85,348 L372.59,347.7 L371.94,346.9 L371.35,346.1 L370.8,345.3 L370.28,344.5 L369.79,343.7 L369.32,342.9 L368.88,342.1 L368.45,341.3 L368.04,340.5 L366.84,338 L365.76,335.5 L364.76,333 L363.83,330.5 L362.97,328 L362.15,325.5 L361.39,323 L360.67,320.5 L359.99,318 L359.35,315.5 L358.74,313 L358.16,310.5 L357.61,308 L357.08,305.5 L356.59,303 L356.12,300.5 L355.67,298 L355.24,295.5 L354.84,293 L354.46,290.5 L354.09,288 L353.75,285.5 L353.43,283 L353.12,280.5 L352.83,278 L352.56,275.5 L352.31,273 L352.07,270.5 L351.85,268 L351.65,265.5 L351.46,263 L351.28,260.5 L351.12,258 L350.98,255.5 L350.85,253 L350.73,250.5 L350.63,248 L350.54,245.5 L350.46,243 L350.4,240.5 L350.35,238 L350.31,235.5 L350.28,233 L350.27,230.5 L350.26,228 L350.27,225.5 L350.28,223 L350.3,220.5 L350.33,218 L350.37,215.5 L350.43,213 L350.5,210.5 L350.59,208 L350.7,205.5 L350.82,203 L350.96,200.5 L351.11,198 L351.29,195.5 L351.48,193 L351.7,190.5 L351.93,188 L352.19,185.5 L352.46,183 L352.76,180.5 L353.08,178 L353.42,175.5 L353.79,173 L354.17,170.5 L354.59,168 L355.02,165.5 L355.48,163 L355.96,160.5 L356.47,158 L357,155.5 L357.56,153 L358.14,150.5 L358.75,148 L359.39,145.5 L360.05,143 L360.74,140.5 L361.46,138 L362.2,135.5 L362.97,133 L363.77,130.5 L364.6,128 L365.45,125.5 L366.33,123 L367.25,120.5 L368.19,118 L369.16,115.5 L370.16,113 L371.19,110.5 L371.52,109.7 L371.86,108.9 L372.21,108.1 L372.55,107.3 L372.9,106.5 L373.25,105.7 L373.6,104.9 L373.96,104.1 L374.32,103.3 L374.69,102.5 L375.05,101.7 L375.19,101.4 L375.33,101.1 L375.47,100.8 L375.61,100.5 L375.75,100.2 L375.89,99.9 L376.03,99.6 L376.17,99.3 L376.31,99 L376.46,98.7 Z" fill="none" stroke="#5ba9de" stroke-width="11.6" clip-path="url(#g3)"/>
<g clip-path="url(#w3)"><path d="M360.41,175.6 Q376.6,172 392.79,175.6 Q395.79,175.6 396.2,178.6 L396.54,181.35 L396.86,184.1 L397.15,186.86 L397.42,189.61 L397.66,192.36 L397.88,195.11 L398.08,197.87 L398.25,200.62 L398.4,203.37 L398.53,206.12 L398.64,208.88 L398.73,211.63 L398.8,214.38 L398.86,217.13 L398.9,219.89 L398.92,222.64 L398.93,225.39 L398.94,228.14 L398.93,230.9 L398.91,233.65 L398.88,236.4 L398.83,239.15 L398.77,241.91 L398.69,244.66 L398.59,247.41 L398.48,250.16 L398.36,252.92 L398.21,255.67 L398.05,258.42 L397.87,261.18 L397.67,263.93 L397.46,266.68 L397.22,269.43 L396.97,272.19 L396.69,274.94 L396.4,277.69 L396.08,280.44 L395.75,283.19 L395.39,285.95 L395.01,288.7 Q394.56,291.7 391.56,291.7 Q376.6,288.9 361.64,291.7 Q358.64,291.7 358.19,288.7 L357.81,285.95 L357.45,283.19 L357.12,280.44 L356.8,277.69 L356.51,274.94 L356.23,272.19 L355.98,269.43 L355.74,266.68 L355.53,263.93 L355.33,261.18 L355.15,258.42 L354.99,255.67 L354.84,252.92 L354.72,250.16 L354.61,247.41 L354.51,244.66 L354.43,241.91 L354.37,239.15 L354.32,236.4 L354.29,233.65 L354.27,230.9 L354.26,228.14 L354.27,225.39 L354.28,222.64 L354.3,219.89 L354.34,217.13 L354.4,214.38 L354.47,211.63 L354.56,208.88 L354.67,206.12 L354.8,203.37 L354.95,200.62 L355.12,197.87 L355.32,195.11 L355.54,192.36 L355.78,189.61 L356.05,186.86 L356.34,184.1 L356.66,181.35 L357,178.6 Q357.41,175.6 360.41,175.6 Z" fill="#feb73f"/><g clip-path="url(#wx3)"><path d="M376.6,98.4 L376.74,98.7 L376.89,99 L377.03,99.3 L377.17,99.6 L377.31,99.9 L377.45,100.2 L377.59,100.5 L377.73,100.8 L377.87,101.1 L378.01,101.4 L378.15,101.7 L378.51,102.5 L378.88,103.3 L379.24,104.1 L379.6,104.9 L379.95,105.7 L380.3,106.5 L380.65,107.3 L380.99,108.1 L381.34,108.9 L381.68,109.7 L382.01,110.5 L383.04,113 L384.04,115.5 L385.01,118 L385.95,120.5 L386.87,123 L387.75,125.5 L388.6,128 L389.43,130.5 L390.23,133 L391,135.5 L391.74,138 L392.46,140.5 L393.15,143 L393.81,145.5 L394.45,148 L395.06,150.5 L395.64,153 L396.2,155.5 L396.73,158 L397.24,160.5 L397.72,163 L398.18,165.5 L398.61,168 L399.03,170.5 L399.41,173 L399.78,175.5 L400.12,178 L400.44,180.5 L400.74,183 L401.01,185.5 L401.27,188 L401.5,190.5 L401.72,193 L401.91,195.5 L402.09,198 L402.24,200.5 L402.38,203 L402.5,205.5 L402.61,208 L402.7,210.5 L402.77,213 L402.83,215.5 L402.87,218 L402.9,220.5 L402.92,223 L402.93,225.5 L402.94,228 L402.93,230.5 L402.92,233 L402.89,235.5 L402.85,238 L402.8,240.5 L402.74,243 L402.66,245.5 L402.57,248 L402.47,250.5 L402.35,253 L402.22,255.5 L402.08,258 L401.92,260.5 L401.74,263 L401.55,265.5 L401.35,268 L401.13,270.5 L400.89,273 L400.64,275.5 L400.37,278 L400.08,280.5 L399.77,283 L399.45,285.5 L399.11,288 L398.74,290.5 L398.36,293 L397.96,295.5 L397.53,298 L397.08,300.5 L396.61,303 L396.12,305.5 L395.59,308 L395.04,310.5 L394.46,313 L393.85,315.5 L393.21,318 L392.53,320.5 L391.81,323 L391.05,325.5 L390.23,328 L389.37,330.5 L388.44,333 L387.44,335.5 L386.36,338 L385.16,340.5 L384.75,341.3 L384.32,342.1 L383.88,342.9 L383.41,343.7 L382.92,344.5 L382.4,345.3 L381.85,346.1 L381.26,346.9 L380.61,347.7 L380.35,348 L380.08,348.3 L379.79,348.6 L379.49,348.9 L379.16,349.2 L378.8,349.5 L378.41,349.8 L377.95,350.1 L377.37,350.4 L376.61,350.6 L376.59,350.6 L375.83,350.4 L375.25,350.1 L374.79,349.8 L374.4,349.5 L374.04,349.2 L373.71,348.9 L373.41,348.6 L373.12,348.3 L372.85,348 L372.59,347.7 L371.94,346.9 L371.35,346.1 L370.8,345.3 L370.28,344.5 L369.79,343.7 L369.32,342.9 L368.88,342.1 L368.45,341.3 L368.04,340.5 L366.84,338 L365.76,335.5 L364.76,333 L363.83,330.5 L362.97,328 L362.15,325.5 L361.39,323 L360.67,320.5 L359.99,318 L359.35,315.5 L358.74,313 L358.16,310.5 L357.61,308 L357.08,305.5 L356.59,303 L356.12,300.5 L355.67,298 L355.24,295.5 L354.84,293 L354.46,290.5 L354.09,288 L353.75,285.5 L353.43,283 L353.12,280.5 L352.83,278 L352.56,275.5 L352.31,273 L352.07,270.5 L351.85,268 L351.65,265.5 L351.46,263 L351.28,260.5 L351.12,258 L350.98,255.5 L350.85,253 L350.73,250.5 L350.63,248 L350.54,245.5 L350.46,243 L350.4,240.5 L350.35,238 L350.31,235.5 L350.28,233 L350.27,230.5 L350.26,228 L350.27,225.5 L350.28,223 L350.3,220.5 L350.33,218 L350.37,215.5 L350.43,213 L350.5,210.5 L350.59,208 L350.7,205.5 L350.82,203 L350.96,200.5 L351.11,198 L351.29,195.5 L351.48,193 L351.7,190.5 L351.93,188 L352.19,185.5 L352.46,183 L352.76,180.5 L353.08,178 L353.42,175.5 L353.79,173 L354.17,170.5 L354.59,168 L355.02,165.5 L355.48,163 L355.96,160.5 L356.47,158 L357,155.5 L357.56,153 L358.14,150.5 L358.75,148 L359.39,145.5 L360.05,143 L360.74,140.5 L361.46,138 L362.2,135.5 L362.97,133 L363.77,130.5 L364.6,128 L365.45,125.5 L366.33,123 L367.25,120.5 L368.19,118 L369.16,115.5 L370.16,113 L371.19,110.5 L371.52,109.7 L371.86,108.9 L372.21,108.1 L372.55,107.3 L372.9,106.5 L373.25,105.7 L373.6,104.9 L373.96,104.1 L374.32,103.3 L374.69,102.5 L375.05,101.7 L375.19,101.4 L375.33,101.1 L375.47,100.8 L375.61,100.5 L375.75,100.2 L375.89,99.9 L376.03,99.6 L376.17,99.3 L376.31,99 L376.46,98.7 Z" fill="none" stroke="#f0a030" stroke-width="13" stroke-opacity="0.45" filter="url(#blur1)"/></g></g>
<path d="M360.88,296.9 Q376.6,291.5 392.32,296.9 Q394.32,296.9 393.97,298.9 L393.87,299.48 L393.76,300.07 L393.65,300.65 L393.55,301.24 L393.44,301.82 L393.33,302.41 L393.21,303 L393.1,303.58 L392.98,304.16 L392.87,304.75 L392.75,305.33 L392.63,305.92 L392.51,306.5 L392.39,307.09 L392.26,307.68 L392.14,308.26 L392.01,308.84 L391.88,309.43 L391.75,310.01 L391.62,310.6 L391.49,311.19 L391.35,311.77 L391.22,312.36 L391.08,312.94 L390.94,313.52 L390.8,314.11 L390.65,314.69 L390.51,315.28 L390.36,315.87 L390.21,316.45 L390.06,317.04 L389.91,317.62 L389.75,318.2 L389.6,318.79 L389.44,319.38 L389.28,319.96 L389.12,320.55 L388.95,321.13 L388.78,321.72 L388.61,322.3 Q388.02,324.3 386.02,324.3 Q376.6,322.1 367.18,324.3 Q365.18,324.3 364.59,322.3 L364.42,321.72 L364.25,321.13 L364.08,320.55 L363.92,319.96 L363.76,319.38 L363.6,318.79 L363.45,318.2 L363.29,317.62 L363.14,317.04 L362.99,316.45 L362.84,315.87 L362.69,315.28 L362.55,314.69 L362.4,314.11 L362.26,313.52 L362.12,312.94 L361.98,312.36 L361.85,311.77 L361.71,311.19 L361.58,310.6 L361.45,310.01 L361.32,309.43 L361.19,308.84 L361.06,308.26 L360.94,307.68 L360.81,307.09 L360.69,306.5 L360.57,305.92 L360.45,305.33 L360.33,304.75 L360.22,304.16 L360.1,303.58 L359.99,303 L359.87,302.41 L359.76,301.82 L359.65,301.24 L359.55,300.65 L359.44,300.07 L359.33,299.48 L359.23,298.9 Q358.88,296.9 360.88,296.9 Z" fill="#fd383a"/>
</g>
<line x1="376.6" y1="98.4" x2="376.6" y2="173.8" stroke="#6a6a6a" stroke-width="1.5" clip-path="url(#c3)"/>
<line x1="376.6" y1="173.8" x2="376.6" y2="290.3" stroke="#d38d1d" stroke-width="1.5" clip-path="url(#c3)"/>
<line x1="376.6" y1="290.3" x2="376.6" y2="294.2" stroke="#6a6a6a" stroke-width="1.5" clip-path="url(#c3)"/>
<line x1="376.6" y1="294.2" x2="376.6" y2="323.2" stroke="#cc1f29" stroke-width="1.5" clip-path="url(#c3)"/>
<line x1="376.6" y1="323.2" x2="376.6" y2="350.6" stroke="#6a6a6a" stroke-width="1.5" clip-path="url(#c3)"/>
<path d="M376.6,98.4 L376.74,98.7 L376.89,99 L377.03,99.3 L377.17,99.6 L377.31,99.9 L377.45,100.2 L377.59,100.5 L377.73,100.8 L377.87,101.1 L378.01,101.4 L378.15,101.7 L378.51,102.5 L378.88,103.3 L379.24,104.1 L379.6,104.9 L379.95,105.7 L380.3,106.5 L380.65,107.3 L380.99,108.1 L381.34,108.9 L381.68,109.7 L382.01,110.5 L383.04,113 L384.04,115.5 L385.01,118 L385.95,120.5 L386.87,123 L387.75,125.5 L388.6,128 L389.43,130.5 L390.23,133 L391,135.5 L391.74,138 L392.46,140.5 L393.15,143 L393.81,145.5 L394.45,148 L395.06,150.5 L395.64,153 L396.2,155.5 L396.73,158 L397.24,160.5 L397.72,163 L398.18,165.5 L398.61,168 L399.03,170.5 L399.41,173 L399.78,175.5 L400.12,178 L400.44,180.5 L400.74,183 L401.01,185.5 L401.27,188 L401.5,190.5 L401.72,193 L401.91,195.5 L402.09,198 L402.24,200.5 L402.38,203 L402.5,205.5 L402.61,208 L402.7,210.5 L402.77,213 L402.83,215.5 L402.87,218 L402.9,220.5 L402.92,223 L402.93,225.5 L402.94,228 L402.93,230.5 L402.92,233 L402.89,235.5 L402.85,238 L402.8,240.5 L402.74,243 L402.66,245.5 L402.57,248 L402.47,250.5 L402.35,253 L402.22,255.5 L402.08,258 L401.92,260.5 L401.74,263 L401.55,265.5 L401.35,268 L401.13,270.5 L400.89,273 L400.64,275.5 L400.37,278 L400.08,280.5 L399.77,283 L399.45,285.5 L399.11,288 L398.74,290.5 L398.36,293 L397.96,295.5 L397.53,298 L397.08,300.5 L396.61,303 L396.12,305.5 L395.59,308 L395.04,310.5 L394.46,313 L393.85,315.5 L393.21,318 L392.53,320.5 L391.81,323 L391.05,325.5 L390.23,328 L389.37,330.5 L388.44,333 L387.44,335.5 L386.36,338 L385.16,340.5 L384.75,341.3 L384.32,342.1 L383.88,342.9 L383.41,343.7 L382.92,344.5 L382.4,345.3 L381.85,346.1 L381.26,346.9 L380.61,347.7 L380.35,348 L380.08,348.3 L379.79,348.6 L379.49,348.9 L379.16,349.2 L378.8,349.5 L378.41,349.8 L377.95,350.1 L377.37,350.4 L376.61,350.6 L376.59,350.6 L375.83,350.4 L375.25,350.1 L374.79,349.8 L374.4,349.5 L374.04,349.2 L373.71,348.9 L373.41,348.6 L373.12,348.3 L372.85,348 L372.59,347.7 L371.94,346.9 L371.35,346.1 L370.8,345.3 L370.28,344.5 L369.79,343.7 L369.32,342.9 L368.88,342.1 L368.45,341.3 L368.04,340.5 L366.84,338 L365.76,335.5 L364.76,333 L363.83,330.5 L362.97,328 L362.15,325.5 L361.39,323 L360.67,320.5 L359.99,318 L359.35,315.5 L358.74,313 L358.16,310.5 L357.61,308 L357.08,305.5 L356.59,303 L356.12,300.5 L355.67,298 L355.24,295.5 L354.84,293 L354.46,290.5 L354.09,288 L353.75,285.5 L353.43,283 L353.12,280.5 L352.83,278 L352.56,275.5 L352.31,273 L352.07,270.5 L351.85,268 L351.65,265.5 L351.46,263 L351.28,260.5 L351.12,258 L350.98,255.5 L350.85,253 L350.73,250.5 L350.63,248 L350.54,245.5 L350.46,243 L350.4,240.5 L350.35,238 L350.31,235.5 L350.28,233 L350.27,230.5 L350.26,228 L350.27,225.5 L350.28,223 L350.3,220.5 L350.33,218 L350.37,215.5 L350.43,213 L350.5,210.5 L350.59,208 L350.7,205.5 L350.82,203 L350.96,200.5 L351.11,198 L351.29,195.5 L351.48,193 L351.7,190.5 L351.93,188 L352.19,185.5 L352.46,183 L352.76,180.5 L353.08,178 L353.42,175.5 L353.79,173 L354.17,170.5 L354.59,168 L355.02,165.5 L355.48,163 L355.96,160.5 L356.47,158 L357,155.5 L357.56,153 L358.14,150.5 L358.75,148 L359.39,145.5 L360.05,143 L360.74,140.5 L361.46,138 L362.2,135.5 L362.97,133 L363.77,130.5 L364.6,128 L365.45,125.5 L366.33,123 L367.25,120.5 L368.19,118 L369.16,115.5 L370.16,113 L371.19,110.5 L371.52,109.7 L371.86,108.9 L372.21,108.1 L372.55,107.3 L372.9,106.5 L373.25,105.7 L373.6,104.9 L373.96,104.1 L374.32,103.3 L374.69,102.5 L375.05,101.7 L375.19,101.4 L375.33,101.1 L375.47,100.8 L375.61,100.5 L375.75,100.2 L375.89,99.9 L376.03,99.6 L376.17,99.3 L376.31,99 L376.46,98.7 Z" fill="none" stroke="#616166" stroke-width="4.4" clip-path="url(#c3)" stroke-linejoin="round"/>
<path d="M457.6,106.75 L460.21,107.05 L461.25,107.35 L462.05,107.65 L462.71,107.95 L463.29,108.25 L463.82,108.55 L464.29,108.85 L464.73,109.15 L465.15,109.45 L465.54,109.75 L465.9,110.05 L466.8,110.85 L467.6,111.65 L468.33,112.45 L469,113.25 L469.62,114.05 L470.2,114.85 L470.75,115.65 L471.27,116.45 L471.76,117.25 L472.22,118.05 L472.66,118.85 L473.93,121.35 L475.04,123.85 L476.04,126.35 L476.93,128.85 L477.74,131.35 L478.48,133.85 L479.15,136.35 L479.77,138.85 L480.34,141.35 L480.86,143.85 L481.33,146.35 L481.77,148.85 L482.18,151.35 L482.55,153.85 L482.9,156.35 L483.21,158.85 L483.51,161.35 L483.77,163.85 L484.02,166.35 L484.24,168.85 L484.45,171.35 L484.64,173.85 L484.81,176.35 L484.96,178.85 L485.1,181.35 L485.23,183.85 L485.34,186.35 L485.45,188.85 L485.54,191.35 L485.62,193.85 L485.69,196.35 L485.75,198.85 L485.81,201.35 L485.86,203.85 L485.9,206.35 L485.93,208.85 L485.96,211.35 L485.99,213.85 L486.01,216.35 L486.02,218.85 L486.03,221.35 L486.04,223.85 L486.05,226.35 L486.06,228.85 L486.06,231.35 L486.06,233.85 L486.06,236.35 L486.06,238.85 L486.06,241.35 L486.06,243.85 L486.05,246.35 L486.01,248.85 L485.95,251.35 L485.86,253.85 L485.76,256.35 L485.64,258.85 L485.5,261.35 L485.34,263.85 L485.16,266.35 L484.96,268.85 L484.75,271.35 L484.52,273.85 L484.27,276.35 L484.01,278.85 L483.72,281.35 L483.42,283.85 L483.1,286.35 L482.75,288.85 L482.39,291.35 L482.01,293.85 L481.61,296.35 L481.18,298.85 L480.73,301.35 L480.26,303.85 L479.76,306.35 L479.23,308.85 L478.68,311.35 L478.09,313.85 L477.47,316.35 L476.82,318.85 L476.12,321.35 L475.38,323.85 L474.6,326.35 L473.75,328.85 L472.84,331.35 L471.86,333.85 L470.78,336.35 L469.59,338.85 L469.18,339.65 L468.75,340.45 L468.3,341.25 L467.83,342.05 L467.34,342.85 L466.82,343.65 L466.27,344.45 L465.68,345.25 L465.04,346.05 L464.34,346.85 L463.56,347.65 L463.24,347.95 L462.91,348.25 L462.55,348.55 L462.16,348.85 L461.74,349.15 L461.27,349.45 L460.74,349.75 L460.11,350.05 L459.27,350.35 L457.6,350.6 L455.93,350.35 L455.09,350.05 L454.46,349.75 L453.93,349.45 L453.46,349.15 L453.04,348.85 L452.65,348.55 L452.29,348.25 L451.96,347.95 L451.64,347.65 L450.86,346.85 L450.16,346.05 L449.52,345.25 L448.93,344.45 L448.38,343.65 L447.86,342.85 L447.37,342.05 L446.9,341.25 L446.45,340.45 L446.02,339.65 L445.61,338.85 L444.42,336.35 L443.34,333.85 L442.36,331.35 L441.45,328.85 L440.6,326.35 L439.82,323.85 L439.08,321.35 L438.38,318.85 L437.73,316.35 L437.11,313.85 L436.52,311.35 L435.97,308.85 L435.44,306.35 L434.94,303.85 L434.47,301.35 L434.02,298.85 L433.59,296.35 L433.19,293.85 L432.81,291.35 L432.45,288.85 L432.1,286.35 L431.78,283.85 L431.48,281.35 L431.19,278.85 L430.93,276.35 L430.68,273.85 L430.45,271.35 L430.24,268.85 L430.04,266.35 L429.86,263.85 L429.7,261.35 L429.56,258.85 L429.44,256.35 L429.34,253.85 L429.25,251.35 L429.19,248.85 L429.15,246.35 L429.14,243.85 L429.14,241.35 L429.14,238.85 L429.14,236.35 L429.14,233.85 L429.14,231.35 L429.14,228.85 L429.15,226.35 L429.16,223.85 L429.17,221.35 L429.18,218.85 L429.19,216.35 L429.21,213.85 L429.24,211.35 L429.27,208.85 L429.3,206.35 L429.34,203.85 L429.39,201.35 L429.45,198.85 L429.51,196.35 L429.58,193.85 L429.66,191.35 L429.75,188.85 L429.86,186.35 L429.97,183.85 L430.1,181.35 L430.24,178.85 L430.39,176.35 L430.56,173.85 L430.75,171.35 L430.96,168.85 L431.18,166.35 L431.43,163.85 L431.69,161.35 L431.99,158.85 L432.3,156.35 L432.65,153.85 L433.02,151.35 L433.43,148.85 L433.87,146.35 L434.34,143.85 L434.86,141.35 L435.43,138.85 L436.05,136.35 L436.72,133.85 L437.46,131.35 L438.27,128.85 L439.16,126.35 L440.16,123.85 L441.27,121.35 L442.54,118.85 L442.98,118.05 L443.44,117.25 L443.93,116.45 L444.45,115.65 L445,114.85 L445.58,114.05 L446.2,113.25 L446.87,112.45 L447.6,111.65 L448.4,110.85 L449.3,110.05 L449.66,109.75 L450.05,109.45 L450.47,109.15 L450.91,108.85 L451.38,108.55 L451.91,108.25 L452.49,107.95 L453.15,107.65 L453.95,107.35 L454.99,107.05 Z" fill="#fff"/>
<g clip-path="url(#c4)">
<path d="M457.6,106.75 L460.21,107.05 L461.25,107.35 L462.05,107.65 L462.71,107.95 L463.29,108.25 L463.82,108.55 L464.29,108.85 L464.73,109.15 L465.15,109.45 L465.54,109.75 L465.9,110.05 L466.8,110.85 L467.6,111.65 L468.33,112.45 L469,113.25 L469.62,114.05 L470.2,114.85 L470.75,115.65 L471.27,116.45 L471.76,117.25 L472.22,118.05 L472.66,118.85 L473.93,121.35 L475.04,123.85 L476.04,126.35 L476.93,128.85 L477.74,131.35 L478.48,133.85 L479.15,136.35 L479.77,138.85 L480.34,141.35 L480.86,143.85 L481.33,146.35 L481.77,148.85 L482.18,151.35 L482.55,153.85 L482.9,156.35 L483.21,158.85 L483.51,161.35 L483.77,163.85 L484.02,166.35 L484.24,168.85 L484.45,171.35 L484.64,173.85 L484.81,176.35 L484.96,178.85 L485.1,181.35 L485.23,183.85 L485.34,186.35 L485.45,188.85 L485.54,191.35 L485.62,193.85 L485.69,196.35 L485.75,198.85 L485.81,201.35 L485.86,203.85 L485.9,206.35 L485.93,208.85 L485.96,211.35 L485.99,213.85 L486.01,216.35 L486.02,218.85 L486.03,221.35 L486.04,223.85 L486.05,226.35 L486.06,228.85 L486.06,231.35 L486.06,233.85 L486.06,236.35 L486.06,238.85 L486.06,241.35 L486.06,243.85 L486.05,246.35 L486.01,248.85 L485.95,251.35 L485.86,253.85 L485.76,256.35 L485.64,258.85 L485.5,261.35 L485.34,263.85 L485.16,266.35 L484.96,268.85 L484.75,271.35 L484.52,273.85 L484.27,276.35 L484.01,278.85 L483.72,281.35 L483.42,283.85 L483.1,286.35 L482.75,288.85 L482.39,291.35 L482.01,293.85 L481.61,296.35 L481.18,298.85 L480.73,301.35 L480.26,303.85 L479.76,306.35 L479.23,308.85 L478.68,311.35 L478.09,313.85 L477.47,316.35 L476.82,318.85 L476.12,321.35 L475.38,323.85 L474.6,326.35 L473.75,328.85 L472.84,331.35 L471.86,333.85 L470.78,336.35 L469.59,338.85 L469.18,339.65 L468.75,340.45 L468.3,341.25 L467.83,342.05 L467.34,342.85 L466.82,343.65 L466.27,344.45 L465.68,345.25 L465.04,346.05 L464.34,346.85 L463.56,347.65 L463.24,347.95 L462.91,348.25 L462.55,348.55 L462.16,348.85 L461.74,349.15 L461.27,349.45 L460.74,349.75 L460.11,350.05 L459.27,350.35 L457.6,350.6 L455.93,350.35 L455.09,350.05 L454.46,349.75 L453.93,349.45 L453.46,349.15 L453.04,348.85 L452.65,348.55 L452.29,348.25 L451.96,347.95 L451.64,347.65 L450.86,346.85 L450.16,346.05 L449.52,345.25 L448.93,344.45 L448.38,343.65 L447.86,342.85 L447.37,342.05 L446.9,341.25 L446.45,340.45 L446.02,339.65 L445.61,338.85 L444.42,336.35 L443.34,333.85 L442.36,331.35 L441.45,328.85 L440.6,326.35 L439.82,323.85 L439.08,321.35 L438.38,318.85 L437.73,316.35 L437.11,313.85 L436.52,311.35 L435.97,308.85 L435.44,306.35 L434.94,303.85 L434.47,301.35 L434.02,298.85 L433.59,296.35 L433.19,293.85 L432.81,291.35 L432.45,288.85 L432.1,286.35 L431.78,283.85 L431.48,281.35 L431.19,278.85 L430.93,276.35 L430.68,273.85 L430.45,271.35 L430.24,268.85 L430.04,266.35 L429.86,263.85 L429.7,261.35 L429.56,258.85 L429.44,256.35 L429.34,253.85 L429.25,251.35 L429.19,248.85 L429.15,246.35 L429.14,243.85 L429.14,241.35 L429.14,238.85 L429.14,236.35 L429.14,233.85 L429.14,231.35 L429.14,228.85 L429.15,226.35 L429.16,223.85 L429.17,221.35 L429.18,218.85 L429.19,216.35 L429.21,213.85 L429.24,211.35 L429.27,208.85 L429.3,206.35 L429.34,203.85 L429.39,201.35 L429.45,198.85 L429.51,196.35 L429.58,193.85 L429.66,191.35 L429.75,188.85 L429.86,186.35 L429.97,183.85 L430.1,181.35 L430.24,178.85 L430.39,176.35 L430.56,173.85 L430.75,171.35 L430.96,168.85 L431.18,166.35 L431.43,163.85 L431.69,161.35 L431.99,158.85 L432.3,156.35 L432.65,153.85 L433.02,151.35 L433.43,148.85 L433.87,146.35 L434.34,143.85 L434.86,141.35 L435.43,138.85 L436.05,136.35 L436.72,133.85 L437.46,131.35 L438.27,128.85 L439.16,126.35 L440.16,123.85 L441.27,121.35 L442.54,118.85 L442.98,118.05 L443.44,117.25 L443.93,116.45 L444.45,115.65 L445,114.85 L445.58,114.05 L446.2,113.25 L446.87,112.45 L447.6,111.65 L448.4,110.85 L449.3,110.05 L449.66,109.75 L450.05,109.45 L450.47,109.15 L450.91,108.85 L451.38,108.55 L451.91,108.25 L452.49,107.95 L453.15,107.65 L453.95,107.35 L454.99,107.05 Z" fill="none" stroke="#d0d0d0" stroke-width="10.4" filter="url(#blur2)"/>
<g clip-path="url(#w4)"><path d="M440.4,168.3 Q457.6,164.9 474.8,168.3 Q478.8,168.3 479.12,172.3 L479.35,175.46 L479.55,178.62 L479.73,181.78 L479.88,184.95 L480.02,188.11 L480.14,191.27 L480.24,194.43 L480.32,197.59 L480.4,200.75 L480.46,203.91 L480.51,207.07 L480.55,210.24 L480.58,213.4 L480.61,216.56 L480.63,219.72 L480.64,222.88 L480.65,226.04 L480.66,229.2 L480.66,232.36 L480.66,235.53 L480.66,238.69 L480.66,241.85 L480.66,245.01 L480.63,248.17 L480.55,251.33 L480.44,254.49 L480.3,257.65 L480.13,260.81 L479.93,263.98 L479.7,267.14 L479.44,270.3 L479.16,273.46 L478.84,276.62 L478.5,279.78 L478.13,282.94 L477.73,286.11 L477.3,289.27 L476.83,292.43 L476.33,295.59 L475.8,298.75 Q475.07,302.75 471.07,302.75 Q457.6,299.25 444.13,302.75 Q440.13,302.75 439.4,298.75 L438.87,295.59 L438.37,292.43 L437.9,289.27 L437.47,286.11 L437.07,282.94 L436.7,279.78 L436.36,276.62 L436.04,273.46 L435.76,270.3 L435.5,267.14 L435.27,263.98 L435.07,260.81 L434.9,257.65 L434.76,254.49 L434.65,251.33 L434.57,248.17 L434.54,245.01 L434.54,241.85 L434.54,238.69 L434.54,235.53 L434.54,232.36 L434.54,229.2 L434.55,226.04 L434.56,222.88 L434.57,219.72 L434.59,216.56 L434.62,213.4 L434.65,210.24 L434.69,207.07 L434.74,203.91 L434.8,200.75 L434.88,197.59 L434.96,194.43 L435.06,191.27 L435.18,188.11 L435.32,184.95 L435.47,181.78 L435.65,178.62 L435.85,175.46 L436.08,172.3 Q436.4,168.3 440.4,168.3 Z" fill="#feb73f"/><g clip-path="url(#wx4)"><path d="M457.6,106.75 L460.21,107.05 L461.25,107.35 L462.05,107.65 L462.71,107.95 L463.29,108.25 L463.82,108.55 L464.29,108.85 L464.73,109.15 L465.15,109.45 L465.54,109.75 L465.9,110.05 L466.8,110.85 L467.6,111.65 L468.33,112.45 L469,113.25 L469.62,114.05 L470.2,114.85 L470.75,115.65 L471.27,116.45 L471.76,117.25 L472.22,118.05 L472.66,118.85 L473.93,121.35 L475.04,123.85 L476.04,126.35 L476.93,128.85 L477.74,131.35 L478.48,133.85 L479.15,136.35 L479.77,138.85 L480.34,141.35 L480.86,143.85 L481.33,146.35 L481.77,148.85 L482.18,151.35 L482.55,153.85 L482.9,156.35 L483.21,158.85 L483.51,161.35 L483.77,163.85 L484.02,166.35 L484.24,168.85 L484.45,171.35 L484.64,173.85 L484.81,176.35 L484.96,178.85 L485.1,181.35 L485.23,183.85 L485.34,186.35 L485.45,188.85 L485.54,191.35 L485.62,193.85 L485.69,196.35 L485.75,198.85 L485.81,201.35 L485.86,203.85 L485.9,206.35 L485.93,208.85 L485.96,211.35 L485.99,213.85 L486.01,216.35 L486.02,218.85 L486.03,221.35 L486.04,223.85 L486.05,226.35 L486.06,228.85 L486.06,231.35 L486.06,233.85 L486.06,236.35 L486.06,238.85 L486.06,241.35 L486.06,243.85 L486.05,246.35 L486.01,248.85 L485.95,251.35 L485.86,253.85 L485.76,256.35 L485.64,258.85 L485.5,261.35 L485.34,263.85 L485.16,266.35 L484.96,268.85 L484.75,271.35 L484.52,273.85 L484.27,276.35 L484.01,278.85 L483.72,281.35 L483.42,283.85 L483.1,286.35 L482.75,288.85 L482.39,291.35 L482.01,293.85 L481.61,296.35 L481.18,298.85 L480.73,301.35 L480.26,303.85 L479.76,306.35 L479.23,308.85 L478.68,311.35 L478.09,313.85 L477.47,316.35 L476.82,318.85 L476.12,321.35 L475.38,323.85 L474.6,326.35 L473.75,328.85 L472.84,331.35 L471.86,333.85 L470.78,336.35 L469.59,338.85 L469.18,339.65 L468.75,340.45 L468.3,341.25 L467.83,342.05 L467.34,342.85 L466.82,343.65 L466.27,344.45 L465.68,345.25 L465.04,346.05 L464.34,346.85 L463.56,347.65 L463.24,347.95 L462.91,348.25 L462.55,348.55 L462.16,348.85 L461.74,349.15 L461.27,349.45 L460.74,349.75 L460.11,350.05 L459.27,350.35 L457.6,350.6 L455.93,350.35 L455.09,350.05 L454.46,349.75 L453.93,349.45 L453.46,349.15 L453.04,348.85 L452.65,348.55 L452.29,348.25 L451.96,347.95 L451.64,347.65 L450.86,346.85 L450.16,346.05 L449.52,345.25 L448.93,344.45 L448.38,343.65 L447.86,342.85 L447.37,342.05 L446.9,341.25 L446.45,340.45 L446.02,339.65 L445.61,338.85 L444.42,336.35 L443.34,333.85 L442.36,331.35 L441.45,328.85 L440.6,326.35 L439.82,323.85 L439.08,321.35 L438.38,318.85 L437.73,316.35 L437.11,313.85 L436.52,311.35 L435.97,308.85 L435.44,306.35 L434.94,303.85 L434.47,301.35 L434.02,298.85 L433.59,296.35 L433.19,293.85 L432.81,291.35 L432.45,288.85 L432.1,286.35 L431.78,283.85 L431.48,281.35 L431.19,278.85 L430.93,276.35 L430.68,273.85 L430.45,271.35 L430.24,268.85 L430.04,266.35 L429.86,263.85 L429.7,261.35 L429.56,258.85 L429.44,256.35 L429.34,253.85 L429.25,251.35 L429.19,248.85 L429.15,246.35 L429.14,243.85 L429.14,241.35 L429.14,238.85 L429.14,236.35 L429.14,233.85 L429.14,231.35 L429.14,228.85 L429.15,226.35 L429.16,223.85 L429.17,221.35 L429.18,218.85 L429.19,216.35 L429.21,213.85 L429.24,211.35 L429.27,208.85 L429.3,206.35 L429.34,203.85 L429.39,201.35 L429.45,198.85 L429.51,196.35 L429.58,193.85 L429.66,191.35 L429.75,188.85 L429.86,186.35 L429.97,183.85 L430.1,181.35 L430.24,178.85 L430.39,176.35 L430.56,173.85 L430.75,171.35 L430.96,168.85 L431.18,166.35 L431.43,163.85 L431.69,161.35 L431.99,158.85 L432.3,156.35 L432.65,153.85 L433.02,151.35 L433.43,148.85 L433.87,146.35 L434.34,143.85 L434.86,141.35 L435.43,138.85 L436.05,136.35 L436.72,133.85 L437.46,131.35 L438.27,128.85 L439.16,126.35 L440.16,123.85 L441.27,121.35 L442.54,118.85 L442.98,118.05 L443.44,117.25 L443.93,116.45 L444.45,115.65 L445,114.85 L445.58,114.05 L446.2,113.25 L446.87,112.45 L447.6,111.65 L448.4,110.85 L449.3,110.05 L449.66,109.75 L450.05,109.45 L450.47,109.15 L450.91,108.85 L451.38,108.55 L451.91,108.25 L452.49,107.95 L453.15,107.65 L453.95,107.35 L454.99,107.05 Z" fill="none" stroke="#f0a030" stroke-width="15.8" stroke-opacity="0.45" filter="url(#blur1)"/></g></g>
<path d="M440.83,306.3 Q457.6,302.3 474.37,306.3 Q476.37,306.3 475.95,308.3 L475.82,308.9 L475.69,309.5 L475.56,310.1 L475.43,310.69 L475.29,311.29 L475.15,311.89 L475.02,312.49 L474.87,313.09 L474.73,313.69 L474.59,314.29 L474.44,314.89 L474.29,315.49 L474.14,316.08 L473.99,316.68 L473.83,317.28 L473.68,317.88 L473.52,318.48 L473.36,319.08 L473.19,319.68 L473.03,320.27 L472.86,320.87 L472.69,321.47 L472.51,322.07 L472.34,322.67 L472.16,323.27 L471.98,323.87 L471.79,324.47 L471.61,325.06 L471.42,325.66 L471.22,326.26 L471.03,326.86 L470.83,327.46 L470.62,328.06 L470.42,328.66 L470.21,329.26 L469.99,329.86 L469.78,330.45 L469.55,331.05 L469.33,331.65 L469.1,332.25 Q468.29,334.25 466.29,334.25 Q457.6,331.95 448.91,334.25 Q446.91,334.25 446.1,332.25 L445.87,331.65 L445.65,331.05 L445.42,330.45 L445.21,329.86 L444.99,329.26 L444.78,328.66 L444.58,328.06 L444.37,327.46 L444.17,326.86 L443.98,326.26 L443.78,325.66 L443.59,325.06 L443.41,324.47 L443.22,323.87 L443.04,323.27 L442.86,322.67 L442.69,322.07 L442.51,321.47 L442.34,320.87 L442.17,320.27 L442.01,319.68 L441.84,319.08 L441.68,318.48 L441.52,317.88 L441.37,317.28 L441.21,316.68 L441.06,316.08 L440.91,315.49 L440.76,314.89 L440.61,314.29 L440.47,313.69 L440.33,313.09 L440.18,312.49 L440.05,311.89 L439.91,311.29 L439.77,310.69 L439.64,310.1 L439.51,309.5 L439.38,308.9 L439.25,308.3 Q438.83,306.3 440.83,306.3 Z" fill="#fd383a"/>
</g>
<line x1="457.6" y1="106.75" x2="457.6" y2="166.6" stroke="#6a6a6a" stroke-width="1.5" clip-path="url(#c4)"/>
<line x1="457.6" y1="166.6" x2="457.6" y2="301" stroke="#d38d1d" stroke-width="1.5" clip-path="url(#c4)"/>
<line x1="457.6" y1="301" x2="457.6" y2="304.3" stroke="#6a6a6a" stroke-width="1.5" clip-path="url(#c4)"/>
<line x1="457.6" y1="304.3" x2="457.6" y2="333.1" stroke="#cc1f29" stroke-width="1.5" clip-path="url(#c4)"/>
<line x1="457.6" y1="333.1" x2="457.6" y2="350.6" stroke="#6a6a6a" stroke-width="1.5" clip-path="url(#c4)"/>
<path d="M457.6,106.75 L460.21,107.05 L461.25,107.35 L462.05,107.65 L462.71,107.95 L463.29,108.25 L463.82,108.55 L464.29,108.85 L464.73,109.15 L465.15,109.45 L465.54,109.75 L465.9,110.05 L466.8,110.85 L467.6,111.65 L468.33,112.45 L469,113.25 L469.62,114.05 L470.2,114.85 L470.75,115.65 L471.27,116.45 L471.76,117.25 L472.22,118.05 L472.66,118.85 L473.93,121.35 L475.04,123.85 L476.04,126.35 L476.93,128.85 L477.74,131.35 L478.48,133.85 L479.15,136.35 L479.77,138.85 L480.34,141.35 L480.86,143.85 L481.33,146.35 L481.77,148.85 L482.18,151.35 L482.55,153.85 L482.9,156.35 L483.21,158.85 L483.51,161.35 L483.77,163.85 L484.02,166.35 L484.24,168.85 L484.45,171.35 L484.64,173.85 L484.81,176.35 L484.96,178.85 L485.1,181.35 L485.23,183.85 L485.34,186.35 L485.45,188.85 L485.54,191.35 L485.62,193.85 L485.69,196.35 L485.75,198.85 L485.81,201.35 L485.86,203.85 L485.9,206.35 L485.93,208.85 L485.96,211.35 L485.99,213.85 L486.01,216.35 L486.02,218.85 L486.03,221.35 L486.04,223.85 L486.05,226.35 L486.06,228.85 L486.06,231.35 L486.06,233.85 L486.06,236.35 L486.06,238.85 L486.06,241.35 L486.06,243.85 L486.05,246.35 L486.01,248.85 L485.95,251.35 L485.86,253.85 L485.76,256.35 L485.64,258.85 L485.5,261.35 L485.34,263.85 L485.16,266.35 L484.96,268.85 L484.75,271.35 L484.52,273.85 L484.27,276.35 L484.01,278.85 L483.72,281.35 L483.42,283.85 L483.1,286.35 L482.75,288.85 L482.39,291.35 L482.01,293.85 L481.61,296.35 L481.18,298.85 L480.73,301.35 L480.26,303.85 L479.76,306.35 L479.23,308.85 L478.68,311.35 L478.09,313.85 L477.47,316.35 L476.82,318.85 L476.12,321.35 L475.38,323.85 L474.6,326.35 L473.75,328.85 L472.84,331.35 L471.86,333.85 L470.78,336.35 L469.59,338.85 L469.18,339.65 L468.75,340.45 L468.3,341.25 L467.83,342.05 L467.34,342.85 L466.82,343.65 L466.27,344.45 L465.68,345.25 L465.04,346.05 L464.34,346.85 L463.56,347.65 L463.24,347.95 L462.91,348.25 L462.55,348.55 L462.16,348.85 L461.74,349.15 L461.27,349.45 L460.74,349.75 L460.11,350.05 L459.27,350.35 L457.6,350.6 L455.93,350.35 L455.09,350.05 L454.46,349.75 L453.93,349.45 L453.46,349.15 L453.04,348.85 L452.65,348.55 L452.29,348.25 L451.96,347.95 L451.64,347.65 L450.86,346.85 L450.16,346.05 L449.52,345.25 L448.93,344.45 L448.38,343.65 L447.86,342.85 L447.37,342.05 L446.9,341.25 L446.45,340.45 L446.02,339.65 L445.61,338.85 L444.42,336.35 L443.34,333.85 L442.36,331.35 L441.45,328.85 L440.6,326.35 L439.82,323.85 L439.08,321.35 L438.38,318.85 L437.73,316.35 L437.11,313.85 L436.52,311.35 L435.97,308.85 L435.44,306.35 L434.94,303.85 L434.47,301.35 L434.02,298.85 L433.59,296.35 L433.19,293.85 L432.81,291.35 L432.45,288.85 L432.1,286.35 L431.78,283.85 L431.48,281.35 L431.19,278.85 L430.93,276.35 L430.68,273.85 L430.45,271.35 L430.24,268.85 L430.04,266.35 L429.86,263.85 L429.7,261.35 L429.56,258.85 L429.44,256.35 L429.34,253.85 L429.25,251.35 L429.19,248.85 L429.15,246.35 L429.14,243.85 L429.14,241.35 L429.14,238.85 L429.14,236.35 L429.14,233.85 L429.14,231.35 L429.14,228.85 L429.15,226.35 L429.16,223.85 L429.17,221.35 L429.18,218.85 L429.19,216.35 L429.21,213.85 L429.24,211.35 L429.27,208.85 L429.3,206.35 L429.34,203.85 L429.39,201.35 L429.45,198.85 L429.51,196.35 L429.58,193.85 L429.66,191.35 L429.75,188.85 L429.86,186.35 L429.97,183.85 L430.1,181.35 L430.24,178.85 L430.39,176.35 L430.56,173.85 L430.75,171.35 L430.96,168.85 L431.18,166.35 L431.43,163.85 L431.69,161.35 L431.99,158.85 L432.3,156.35 L432.65,153.85 L433.02,151.35 L433.43,148.85 L433.87,146.35 L434.34,143.85 L434.86,141.35 L435.43,138.85 L436.05,136.35 L436.72,133.85 L437.46,131.35 L438.27,128.85 L439.16,126.35 L440.16,123.85 L441.27,121.35 L442.54,118.85 L442.98,118.05 L443.44,117.25 L443.93,116.45 L444.45,115.65 L445,114.85 L445.58,114.05 L446.2,113.25 L446.87,112.45 L447.6,111.65 L448.4,110.85 L449.3,110.05 L449.66,109.75 L450.05,109.45 L450.47,109.15 L450.91,108.85 L451.38,108.55 L451.91,108.25 L452.49,107.95 L453.15,107.65 L453.95,107.35 L454.99,107.05 Z" fill="none" stroke="#616166" stroke-width="4.4" clip-path="url(#c4)" stroke-linejoin="round"/>
<path d="M545,84.1 L548.17,84.4 L549.32,84.7 L550.17,85 L550.87,85.3 L551.48,85.6 L552.02,85.9 L552.51,86.2 L552.96,86.5 L553.38,86.8 L553.78,87.1 L554.15,87.4 L555.05,88.2 L555.85,89 L556.57,89.8 L557.23,90.6 L557.84,91.4 L558.42,92.2 L558.95,93 L559.45,93.8 L559.93,94.6 L560.38,95.4 L560.81,96.2 L562.04,98.7 L563.11,101.2 L564.07,103.7 L564.93,106.2 L565.71,108.7 L566.42,111.2 L567.07,113.7 L567.66,116.2 L568.21,118.7 L568.71,121.2 L569.18,123.7 L569.61,126.2 L570,128.7 L570.36,131.2 L570.7,133.7 L571.01,136.2 L571.29,138.7 L571.56,141.2 L571.8,143.7 L572.02,146.2 L572.22,148.7 L572.41,151.2 L572.58,153.7 L572.73,156.2 L572.87,158.7 L572.99,161.2 L573.1,163.7 L573.2,166.2 L573.29,168.7 L573.37,171.2 L573.44,173.7 L573.5,176.2 L573.55,178.7 L573.6,181.2 L573.63,183.7 L573.66,186.2 L573.69,188.7 L573.71,191.2 L573.72,193.7 L573.73,196.2 L573.74,198.7 L573.74,201.2 L573.75,203.7 L573.75,206.2 L573.75,208.7 L573.75,211.2 L573.75,213.7 L573.74,216.2 L573.73,218.7 L573.72,221.2 L573.7,223.7 L573.68,226.2 L573.65,228.7 L573.62,231.2 L573.57,233.7 L573.52,236.2 L573.46,238.7 L573.4,241.2 L573.32,243.7 L573.23,246.2 L573.14,248.7 L573.03,251.2 L572.91,253.7 L572.79,256.2 L572.65,258.7 L572.49,261.2 L572.33,263.7 L572.15,266.2 L571.96,268.7 L571.76,271.2 L571.54,273.7 L571.3,276.2 L571.06,278.7 L570.79,281.2 L570.51,283.7 L570.22,286.2 L569.91,288.7 L569.58,291.2 L569.23,293.7 L568.87,296.2 L568.49,298.7 L568.08,301.2 L567.66,303.7 L567.22,306.2 L566.76,308.7 L566.27,311.2 L565.77,313.7 L565.24,316.2 L564.68,318.7 L564.1,321.2 L563.5,323.7 L562.86,326.2 L562.2,328.7 L561.5,331.2 L560.77,333.7 L560.01,336.2 L559.2,338.7 L558.34,341.2 L557.43,343.7 L556.44,346.2 L555.08,348.73 L554.59,349.21 L554.08,349.61 L553.57,349.93 L553.04,350.13 L552.5,350.2 L545,350.2 L537.5,350.2 L536.96,350.13 L536.43,349.93 L535.92,349.61 L535.41,349.21 L534.92,348.73 L533.56,346.2 L532.57,343.7 L531.66,341.2 L530.8,338.7 L529.99,336.2 L529.23,333.7 L528.5,331.2 L527.8,328.7 L527.14,326.2 L526.5,323.7 L525.9,321.2 L525.32,318.7 L524.76,316.2 L524.23,313.7 L523.73,311.2 L523.24,308.7 L522.78,306.2 L522.34,303.7 L521.92,301.2 L521.51,298.7 L521.13,296.2 L520.77,293.7 L520.42,291.2 L520.09,288.7 L519.78,286.2 L519.49,283.7 L519.21,281.2 L518.94,278.7 L518.7,276.2 L518.46,273.7 L518.24,271.2 L518.04,268.7 L517.85,266.2 L517.67,263.7 L517.51,261.2 L517.35,258.7 L517.21,256.2 L517.09,253.7 L516.97,251.2 L516.86,248.7 L516.77,246.2 L516.68,243.7 L516.6,241.2 L516.54,238.7 L516.48,236.2 L516.43,233.7 L516.38,231.2 L516.35,228.7 L516.32,226.2 L516.3,223.7 L516.28,221.2 L516.27,218.7 L516.26,216.2 L516.25,213.7 L516.25,211.2 L516.25,208.7 L516.25,206.2 L516.25,203.7 L516.26,201.2 L516.26,198.7 L516.27,196.2 L516.28,193.7 L516.29,191.2 L516.31,188.7 L516.34,186.2 L516.37,183.7 L516.4,181.2 L516.45,178.7 L516.5,176.2 L516.56,173.7 L516.63,171.2 L516.71,168.7 L516.8,166.2 L516.9,163.7 L517.01,161.2 L517.13,158.7 L517.27,156.2 L517.42,153.7 L517.59,151.2 L517.78,148.7 L517.98,146.2 L518.2,143.7 L518.44,141.2 L518.71,138.7 L518.99,136.2 L519.3,133.7 L519.64,131.2 L520,128.7 L520.39,126.2 L520.82,123.7 L521.29,121.2 L521.79,118.7 L522.34,116.2 L522.93,113.7 L523.58,111.2 L524.29,108.7 L525.07,106.2 L525.93,103.7 L526.89,101.2 L527.96,98.7 L529.19,96.2 L529.62,95.4 L530.07,94.6 L530.55,93.8 L531.05,93 L531.58,92.2 L532.16,91.4 L532.77,90.6 L533.43,89.8 L534.15,89 L534.95,88.2 L535.85,87.4 L536.22,87.1 L536.62,86.8 L537.04,86.5 L537.49,86.2 L537.98,85.9 L538.52,85.6 L539.13,85.3 L539.83,85 L540.68,84.7 L541.83,84.4 Z" fill="#fff"/>
<g clip-path="url(#c5)">
<path d="M545,84.1 L548.17,84.4 L549.32,84.7 L550.17,85 L550.87,85.3 L551.48,85.6 L552.02,85.9 L552.51,86.2 L552.96,86.5 L553.38,86.8 L553.78,87.1 L554.15,87.4 L555.05,88.2 L555.85,89 L556.57,89.8 L557.23,90.6 L557.84,91.4 L558.42,92.2 L558.95,93 L559.45,93.8 L559.93,94.6 L560.38,95.4 L560.81,96.2 L562.04,98.7 L563.11,101.2 L564.07,103.7 L564.93,106.2 L565.71,108.7 L566.42,111.2 L567.07,113.7 L567.66,116.2 L568.21,118.7 L568.71,121.2 L569.18,123.7 L569.61,126.2 L570,128.7 L570.36,131.2 L570.7,133.7 L571.01,136.2 L571.29,138.7 L571.56,141.2 L571.8,143.7 L572.02,146.2 L572.22,148.7 L572.41,151.2 L572.58,153.7 L572.73,156.2 L572.87,158.7 L572.99,161.2 L573.1,163.7 L573.2,166.2 L573.29,168.7 L573.37,171.2 L573.44,173.7 L573.5,176.2 L573.55,178.7 L573.6,181.2 L573.63,183.7 L573.66,186.2 L573.69,188.7 L573.71,191.2 L573.72,193.7 L573.73,196.2 L573.74,198.7 L573.74,201.2 L573.75,203.7 L573.75,206.2 L573.75,208.7 L573.75,211.2 L573.75,213.7 L573.74,216.2 L573.73,218.7 L573.72,221.2 L573.7,223.7 L573.68,226.2 L573.65,228.7 L573.62,231.2 L573.57,233.7 L573.52,236.2 L573.46,238.7 L573.4,241.2 L573.32,243.7 L573.23,246.2 L573.14,248.7 L573.03,251.2 L572.91,253.7 L572.79,256.2 L572.65,258.7 L572.49,261.2 L572.33,263.7 L572.15,266.2 L571.96,268.7 L571.76,271.2 L571.54,273.7 L571.3,276.2 L571.06,278.7 L570.79,281.2 L570.51,283.7 L570.22,286.2 L569.91,288.7 L569.58,291.2 L569.23,293.7 L568.87,296.2 L568.49,298.7 L568.08,301.2 L567.66,303.7 L567.22,306.2 L566.76,308.7 L566.27,311.2 L565.77,313.7 L565.24,316.2 L564.68,318.7 L564.1,321.2 L563.5,323.7 L562.86,326.2 L562.2,328.7 L561.5,331.2 L560.77,333.7 L560.01,336.2 L559.2,338.7 L558.34,341.2 L557.43,343.7 L556.44,346.2 L555.08,348.73 L554.59,349.21 L554.08,349.61 L553.57,349.93 L553.04,350.13 L552.5,350.2 L545,350.2 L537.5,350.2 L536.96,350.13 L536.43,349.93 L535.92,349.61 L535.41,349.21 L534.92,348.73 L533.56,346.2 L532.57,343.7 L531.66,341.2 L530.8,338.7 L529.99,336.2 L529.23,333.7 L528.5,331.2 L527.8,328.7 L527.14,326.2 L526.5,323.7 L525.9,321.2 L525.32,318.7 L524.76,316.2 L524.23,313.7 L523.73,311.2 L523.24,308.7 L522.78,306.2 L522.34,303.7 L521.92,301.2 L521.51,298.7 L521.13,296.2 L520.77,293.7 L520.42,291.2 L520.09,288.7 L519.78,286.2 L519.49,283.7 L519.21,281.2 L518.94,278.7 L518.7,276.2 L518.46,273.7 L518.24,271.2 L518.04,268.7 L517.85,266.2 L517.67,263.7 L517.51,261.2 L517.35,258.7 L517.21,256.2 L517.09,253.7 L516.97,251.2 L516.86,248.7 L516.77,246.2 L516.68,243.7 L516.6,241.2 L516.54,238.7 L516.48,236.2 L516.43,233.7 L516.38,231.2 L516.35,228.7 L516.32,226.2 L516.3,223.7 L516.28,221.2 L516.27,218.7 L516.26,216.2 L516.25,213.7 L516.25,211.2 L516.25,208.7 L516.25,206.2 L516.25,203.7 L516.26,201.2 L516.26,198.7 L516.27,196.2 L516.28,193.7 L516.29,191.2 L516.31,188.7 L516.34,186.2 L516.37,183.7 L516.4,181.2 L516.45,178.7 L516.5,176.2 L516.56,173.7 L516.63,171.2 L516.71,168.7 L516.8,166.2 L516.9,163.7 L517.01,161.2 L517.13,158.7 L517.27,156.2 L517.42,153.7 L517.59,151.2 L517.78,148.7 L517.98,146.2 L518.2,143.7 L518.44,141.2 L518.71,138.7 L518.99,136.2 L519.3,133.7 L519.64,131.2 L520,128.7 L520.39,126.2 L520.82,123.7 L521.29,121.2 L521.79,118.7 L522.34,116.2 L522.93,113.7 L523.58,111.2 L524.29,108.7 L525.07,106.2 L525.93,103.7 L526.89,101.2 L527.96,98.7 L529.19,96.2 L529.62,95.4 L530.07,94.6 L530.55,93.8 L531.05,93 L531.58,92.2 L532.16,91.4 L532.77,90.6 L533.43,89.8 L534.15,89 L534.95,88.2 L535.85,87.4 L536.22,87.1 L536.62,86.8 L537.04,86.5 L537.49,86.2 L537.98,85.9 L538.52,85.6 L539.13,85.3 L539.83,85 L540.68,84.7 L541.83,84.4 Z" fill="none" stroke="#d0d0d0" stroke-width="10.4" filter="url(#blur2)"/>
<g clip-path="url(#w5)"><path d="M549,60 Q545,60 541,60 Q545,60 545,64 L545,72.3 L545,80.6 L551.35,88.9 L556.92,97.2 L560.3,105.5 L562.69,113.8 L564.49,122.1 L565.85,130.4 L566.89,138.7 L567.69,147 L568.27,155.3 L568.7,163.6 L568.99,171.9 L569.18,180.2 L569.28,188.5 L569.33,196.8 L569.35,205.1 L569.35,213.4 L569.32,221.7 L569.24,230 L569.07,238.3 L568.82,246.6 L568.45,254.9 L567.96,263.2 L567.33,271.5 L566.54,279.8 L565.58,288.1 L564.44,296.4 L563.09,304.7 L561.51,313 L559.68,321.3 L557.55,329.6 L555.06,337.9 L552.04,346.2 L550.1,354.5 L550.1,362.8 L550.1,371.1 L550.1,379.4 L550.1,387.7 L550.1,396 Q550.1,400 546.1,400 Q545,400 543.9,400 Q539.9,400 539.9,396 L539.9,387.7 L539.9,379.4 L539.9,371.1 L539.9,362.8 L539.9,354.5 L537.96,346.2 L534.94,337.9 L532.45,329.6 L530.32,321.3 L528.49,313 L526.91,304.7 L525.56,296.4 L524.42,288.1 L523.46,279.8 L522.67,271.5 L522.04,263.2 L521.55,254.9 L521.18,246.6 L520.93,238.3 L520.76,230 L520.68,221.7 L520.65,213.4 L520.65,205.1 L520.67,196.8 L520.72,188.5 L520.82,180.2 L521.01,171.9 L521.3,163.6 L521.73,155.3 L522.31,147 L523.11,138.7 L524.15,130.4 L525.51,122.1 L527.31,113.8 L529.7,105.5 L533.08,97.2 L538.65,88.9 L545,80.6 L545,72.3 L545,64 Q545,60 549,60 Z" fill="#feb73f"/><g clip-path="url(#wx5)"><path d="M545,84.1 L548.17,84.4 L549.32,84.7 L550.17,85 L550.87,85.3 L551.48,85.6 L552.02,85.9 L552.51,86.2 L552.96,86.5 L553.38,86.8 L553.78,87.1 L554.15,87.4 L555.05,88.2 L555.85,89 L556.57,89.8 L557.23,90.6 L557.84,91.4 L558.42,92.2 L558.95,93 L559.45,93.8 L559.93,94.6 L560.38,95.4 L560.81,96.2 L562.04,98.7 L563.11,101.2 L564.07,103.7 L564.93,106.2 L565.71,108.7 L566.42,111.2 L567.07,113.7 L567.66,116.2 L568.21,118.7 L568.71,121.2 L569.18,123.7 L569.61,126.2 L570,128.7 L570.36,131.2 L570.7,133.7 L571.01,136.2 L571.29,138.7 L571.56,141.2 L571.8,143.7 L572.02,146.2 L572.22,148.7 L572.41,151.2 L572.58,153.7 L572.73,156.2 L572.87,158.7 L572.99,161.2 L573.1,163.7 L573.2,166.2 L573.29,168.7 L573.37,171.2 L573.44,173.7 L573.5,176.2 L573.55,178.7 L573.6,181.2 L573.63,183.7 L573.66,186.2 L573.69,188.7 L573.71,191.2 L573.72,193.7 L573.73,196.2 L573.74,198.7 L573.74,201.2 L573.75,203.7 L573.75,206.2 L573.75,208.7 L573.75,211.2 L573.75,213.7 L573.74,216.2 L573.73,218.7 L573.72,221.2 L573.7,223.7 L573.68,226.2 L573.65,228.7 L573.62,231.2 L573.57,233.7 L573.52,236.2 L573.46,238.7 L573.4,241.2 L573.32,243.7 L573.23,246.2 L573.14,248.7 L573.03,251.2 L572.91,253.7 L572.79,256.2 L572.65,258.7 L572.49,261.2 L572.33,263.7 L572.15,266.2 L571.96,268.7 L571.76,271.2 L571.54,273.7 L571.3,276.2 L571.06,278.7 L570.79,281.2 L570.51,283.7 L570.22,286.2 L569.91,288.7 L569.58,291.2 L569.23,293.7 L568.87,296.2 L568.49,298.7 L568.08,301.2 L567.66,303.7 L567.22,306.2 L566.76,308.7 L566.27,311.2 L565.77,313.7 L565.24,316.2 L564.68,318.7 L564.1,321.2 L563.5,323.7 L562.86,326.2 L562.2,328.7 L561.5,331.2 L560.77,333.7 L560.01,336.2 L559.2,338.7 L558.34,341.2 L557.43,343.7 L556.44,346.2 L555.08,348.73 L554.59,349.21 L554.08,349.61 L553.57,349.93 L553.04,350.13 L552.5,350.2 L545,350.2 L537.5,350.2 L536.96,350.13 L536.43,349.93 L535.92,349.61 L535.41,349.21 L534.92,348.73 L533.56,346.2 L532.57,343.7 L531.66,341.2 L530.8,338.7 L529.99,336.2 L529.23,333.7 L528.5,331.2 L527.8,328.7 L527.14,326.2 L526.5,323.7 L525.9,321.2 L525.32,318.7 L524.76,316.2 L524.23,313.7 L523.73,311.2 L523.24,308.7 L522.78,306.2 L522.34,303.7 L521.92,301.2 L521.51,298.7 L521.13,296.2 L520.77,293.7 L520.42,291.2 L520.09,288.7 L519.78,286.2 L519.49,283.7 L519.21,281.2 L518.94,278.7 L518.7,276.2 L518.46,273.7 L518.24,271.2 L518.04,268.7 L517.85,266.2 L517.67,263.7 L517.51,261.2 L517.35,258.7 L517.21,256.2 L517.09,253.7 L516.97,251.2 L516.86,248.7 L516.77,246.2 L516.68,243.7 L516.6,241.2 L516.54,238.7 L516.48,236.2 L516.43,233.7 L516.38,231.2 L516.35,228.7 L516.32,226.2 L516.3,223.7 L516.28,221.2 L516.27,218.7 L516.26,216.2 L516.25,213.7 L516.25,211.2 L516.25,208.7 L516.25,206.2 L516.25,203.7 L516.26,201.2 L516.26,198.7 L516.27,196.2 L516.28,193.7 L516.29,191.2 L516.31,188.7 L516.34,186.2 L516.37,183.7 L516.4,181.2 L516.45,178.7 L516.5,176.2 L516.56,173.7 L516.63,171.2 L516.71,168.7 L516.8,166.2 L516.9,163.7 L517.01,161.2 L517.13,158.7 L517.27,156.2 L517.42,153.7 L517.59,151.2 L517.78,148.7 L517.98,146.2 L518.2,143.7 L518.44,141.2 L518.71,138.7 L518.99,136.2 L519.3,133.7 L519.64,131.2 L520,128.7 L520.39,126.2 L520.82,123.7 L521.29,121.2 L521.79,118.7 L522.34,116.2 L522.93,113.7 L523.58,111.2 L524.29,108.7 L525.07,106.2 L525.93,103.7 L526.89,101.2 L527.96,98.7 L529.19,96.2 L529.62,95.4 L530.07,94.6 L530.55,93.8 L531.05,93 L531.58,92.2 L532.16,91.4 L532.77,90.6 L533.43,89.8 L534.15,89 L534.95,88.2 L535.85,87.4 L536.22,87.1 L536.62,86.8 L537.04,86.5 L537.49,86.2 L537.98,85.9 L538.52,85.6 L539.13,85.3 L539.83,85 L540.68,84.7 L541.83,84.4 Z" fill="none" stroke="#f0a030" stroke-width="13.8" stroke-opacity="0.45" filter="url(#blur1)"/></g></g>
</g>
<line x1="545" y1="84.1" x2="545" y2="350.2" stroke="#d38d1d" stroke-width="1.5" clip-path="url(#c5)"/>
<path d="M545,84.1 L548.17,84.4 L549.32,84.7 L550.17,85 L550.87,85.3 L551.48,85.6 L552.02,85.9 L552.51,86.2 L552.96,86.5 L553.38,86.8 L553.78,87.1 L554.15,87.4 L555.05,88.2 L555.85,89 L556.57,89.8 L557.23,90.6 L557.84,91.4 L558.42,92.2 L558.95,93 L559.45,93.8 L559.93,94.6 L560.38,95.4 L560.81,96.2 L562.04,98.7 L563.11,101.2 L564.07,103.7 L564.93,106.2 L565.71,108.7 L566.42,111.2 L567.07,113.7 L567.66,116.2 L568.21,118.7 L568.71,121.2 L569.18,123.7 L569.61,126.2 L570,128.7 L570.36,131.2 L570.7,133.7 L571.01,136.2 L571.29,138.7 L571.56,141.2 L571.8,143.7 L572.02,146.2 L572.22,148.7 L572.41,151.2 L572.58,153.7 L572.73,156.2 L572.87,158.7 L572.99,161.2 L573.1,163.7 L573.2,166.2 L573.29,168.7 L573.37,171.2 L573.44,173.7 L573.5,176.2 L573.55,178.7 L573.6,181.2 L573.63,183.7 L573.66,186.2 L573.69,188.7 L573.71,191.2 L573.72,193.7 L573.73,196.2 L573.74,198.7 L573.74,201.2 L573.75,203.7 L573.75,206.2 L573.75,208.7 L573.75,211.2 L573.75,213.7 L573.74,216.2 L573.73,218.7 L573.72,221.2 L573.7,223.7 L573.68,226.2 L573.65,228.7 L573.62,231.2 L573.57,233.7 L573.52,236.2 L573.46,238.7 L573.4,241.2 L573.32,243.7 L573.23,246.2 L573.14,248.7 L573.03,251.2 L572.91,253.7 L572.79,256.2 L572.65,258.7 L572.49,261.2 L572.33,263.7 L572.15,266.2 L571.96,268.7 L571.76,271.2 L571.54,273.7 L571.3,276.2 L571.06,278.7 L570.79,281.2 L570.51,283.7 L570.22,286.2 L569.91,288.7 L569.58,291.2 L569.23,293.7 L568.87,296.2 L568.49,298.7 L568.08,301.2 L567.66,303.7 L567.22,306.2 L566.76,308.7 L566.27,311.2 L565.77,313.7 L565.24,316.2 L564.68,318.7 L564.1,321.2 L563.5,323.7 L562.86,326.2 L562.2,328.7 L561.5,331.2 L560.77,333.7 L560.01,336.2 L559.2,338.7 L558.34,341.2 L557.43,343.7 L556.44,346.2 L555.08,348.73 L554.59,349.21 L554.08,349.61 L553.57,349.93 L553.04,350.13 L552.5,350.2 L545,350.2 L537.5,350.2 L536.96,350.13 L536.43,349.93 L535.92,349.61 L535.41,349.21 L534.92,348.73 L533.56,346.2 L532.57,343.7 L531.66,341.2 L530.8,338.7 L529.99,336.2 L529.23,333.7 L528.5,331.2 L527.8,328.7 L527.14,326.2 L526.5,323.7 L525.9,321.2 L525.32,318.7 L524.76,316.2 L524.23,313.7 L523.73,311.2 L523.24,308.7 L522.78,306.2 L522.34,303.7 L521.92,301.2 L521.51,298.7 L521.13,296.2 L520.77,293.7 L520.42,291.2 L520.09,288.7 L519.78,286.2 L519.49,283.7 L519.21,281.2 L518.94,278.7 L518.7,276.2 L518.46,273.7 L518.24,271.2 L518.04,268.7 L517.85,266.2 L517.67,263.7 L517.51,261.2 L517.35,258.7 L517.21,256.2 L517.09,253.7 L516.97,251.2 L516.86,248.7 L516.77,246.2 L516.68,243.7 L516.6,241.2 L516.54,238.7 L516.48,236.2 L516.43,233.7 L516.38,231.2 L516.35,228.7 L516.32,226.2 L516.3,223.7 L516.28,221.2 L516.27,218.7 L516.26,216.2 L516.25,213.7 L516.25,211.2 L516.25,208.7 L516.25,206.2 L516.25,203.7 L516.26,201.2 L516.26,198.7 L516.27,196.2 L516.28,193.7 L516.29,191.2 L516.31,188.7 L516.34,186.2 L516.37,183.7 L516.4,181.2 L516.45,178.7 L516.5,176.2 L516.56,173.7 L516.63,171.2 L516.71,168.7 L516.8,166.2 L516.9,163.7 L517.01,161.2 L517.13,158.7 L517.27,156.2 L517.42,153.7 L517.59,151.2 L517.78,148.7 L517.98,146.2 L518.2,143.7 L518.44,141.2 L518.71,138.7 L518.99,136.2 L519.3,133.7 L519.64,131.2 L520,128.7 L520.39,126.2 L520.82,123.7 L521.29,121.2 L521.79,118.7 L522.34,116.2 L522.93,113.7 L523.58,111.2 L524.29,108.7 L525.07,106.2 L525.93,103.7 L526.89,101.2 L527.96,98.7 L529.19,96.2 L529.62,95.4 L530.07,94.6 L530.55,93.8 L531.05,93 L531.58,92.2 L532.16,91.4 L532.77,90.6 L533.43,89.8 L534.15,89 L534.95,88.2 L535.85,87.4 L536.22,87.1 L536.62,86.8 L537.04,86.5 L537.49,86.2 L537.98,85.9 L538.52,85.6 L539.13,85.3 L539.83,85 L540.68,84.7 L541.83,84.4 Z" fill="none" stroke="#616166" stroke-width="4.4" clip-path="url(#c5)" stroke-linejoin="round"/>
<g transform="translate(33.8 12.6) scale(0.09524) translate(-437.5 20)"><clipPath id="b1_2"><path d="M-1310.65,-726.44 L2188.6,1211.41 L3157.53,-538.21 L-341.72,-2476.07 Z"/></clipPath><clipPath id="f1_2"><path d="M-1309.68,-728.19 L2189.57,1209.66 L1220.64,2959.28 L-2278.6,1021.43 Z"/></clipPath><clipPath id="b2_2"><path d="M-1293.29,1247.04 L2164.44,-763.96 L1158.94,-2492.82 L-2298.79,-481.82 Z"/></clipPath><clipPath id="f2_2"><path d="M-1294.3,1245.31 L2163.43,-765.69 L3168.93,963.18 L-288.8,2974.18 Z"/></clipPath><path d="M656.67,361.9 A248.29,77.12 28.98 1 1 222.25,121.32 A248.29,77.12 28.98 1 1 656.67,361.9 Z M637.99,355.52 A219.95,68.04 29.5 1 1 255.13,138.91 A219.95,68.04 29.5 1 1 637.99,355.52 Z" fill="#12124a" fill-rule="evenodd" clip-path="url(#b1_2)"/><path d="M642.6,119.98 A240.07,77.46 -30.18 1 1 227.54,361.37 A240.07,77.46 -30.18 1 1 642.6,119.98 Z M618.98,133.98 A220.36,66.62 -29.59 1 1 235.75,351.63 A220.36,66.62 -29.59 1 1 618.98,133.98 Z" fill="#12124a" fill-rule="evenodd" clip-path="url(#b2_2)"/><path d="M438,-18 L438.55,-17.5 L438.97,-17 L439.35,-16.5 L439.71,-16 L440.05,-15.5 L440.38,-15 L440.7,-14.5 L441.01,-14 L442.19,-12 L443.29,-10 L444.34,-8 L445.34,-6 L446.31,-4 L447.25,-2 L448.16,0 L449.06,2 L449.93,4 L450.78,6 L451.61,8 L452.43,10 L453.24,12 L455.57,18 L457.79,24 L459.92,30 L461.96,36 L463.92,42 L465.82,48 L467.64,54 L469.41,60 L471.11,66 L472.75,72 L474.34,78 L475.88,84 L477.36,90 L478.79,96 L480.17,102 L481.5,108 L482.78,114 L484.02,120 L485.21,126 L486.35,132 L487.45,138 L488.5,144 L489.5,150 L490.46,156 L491.38,162 L492.24,168 L493.06,174 L493.84,180 L494.56,186 L495.24,192 L495.88,198 L496.46,204 L496.99,210 L497.47,216 L497.9,222 L498.27,228 L498.58,234 L498.83,240 L499.01,246 L499.11,252 L499.11,258 L499.07,264 L498.99,270 L498.88,276 L498.75,282 L498.58,288 L498.39,294 L498.17,300 L497.92,306 L497.63,312 L497.32,318 L496.98,324 L496.6,330 L496.19,336 L495.75,342 L495.26,348 L494.74,354 L494.17,360 L493.55,366 L492.88,372 L492.16,378 L491.37,384 L490.51,390 L489.57,396 L488.54,402 L487.41,408 L486.14,414 L484.72,420 L483.11,426 L481.24,432 L479.03,438 L478.19,440 L477.29,442 L476.31,444 L475.24,446 L474.05,448 L472.73,450 L471.21,452 L469.45,454 L467.29,456 L464.5,458 L460.3,460 L458.76,460.5 L456.77,461 L453.78,461.5 L438,462 L422.22,461.5 L419.23,461 L417.24,460.5 L415.7,460 L411.5,458 L408.71,456 L406.55,454 L404.79,452 L403.27,450 L401.95,448 L400.76,446 L399.69,444 L398.71,442 L397.81,440 L396.97,438 L394.76,432 L392.89,426 L391.28,420 L389.86,414 L388.59,408 L387.46,402 L386.43,396 L385.49,390 L384.63,384 L383.84,378 L383.12,372 L382.45,366 L381.83,360 L381.26,354 L380.74,348 L380.25,342 L379.81,336 L379.4,330 L379.02,324 L378.68,318 L378.37,312 L378.08,306 L377.83,300 L377.61,294 L377.42,288 L377.25,282 L377.12,276 L377.01,270 L376.93,264 L376.89,258 L376.89,252 L376.99,246 L377.17,240 L377.42,234 L377.73,228 L378.1,222 L378.53,216 L379.01,210 L379.54,204 L380.12,198 L380.76,192 L381.44,186 L382.16,180 L382.94,174 L383.76,168 L384.62,162 L385.54,156 L386.5,150 L387.5,144 L388.55,138 L389.65,132 L390.79,126 L391.98,120 L393.22,114 L394.5,108 L395.83,102 L397.21,96 L398.64,90 L400.12,84 L401.66,78 L403.25,72 L404.89,66 L406.59,60 L408.36,54 L410.18,48 L412.08,42 L414.04,36 L416.08,30 L418.21,24 L420.43,18 L422.76,12 L423.57,10 L424.39,8 L425.22,6 L426.07,4 L426.94,2 L427.84,0 L428.75,-2 L429.69,-4 L430.66,-6 L431.66,-8 L432.71,-10 L433.81,-12 L434.99,-14 L435.3,-14.5 L435.62,-15 L435.95,-15.5 L436.29,-16 L436.65,-16.5 L437.03,-17 L437.45,-17.5 Z" fill="#f5f5f5" stroke="#12124a" stroke-width="12"/><path d="M656.67,361.9 A248.29,77.12 28.98 1 1 222.25,121.32 A248.29,77.12 28.98 1 1 656.67,361.9 Z M637.99,355.52 A219.95,68.04 29.5 1 1 255.13,138.91 A219.95,68.04 29.5 1 1 637.99,355.52 Z" fill="#12124a" fill-rule="evenodd" clip-path="url(#f1_2)"/><path d="M642.6,119.98 A240.07,77.46 -30.18 1 1 227.54,361.37 A240.07,77.46 -30.18 1 1 642.6,119.98 Z M618.98,133.98 A220.36,66.62 -29.59 1 1 235.75,351.63 A220.36,66.62 -29.59 1 1 618.98,133.98 Z" fill="#12124a" fill-rule="evenodd" clip-path="url(#f2_2)"/></g><circle cx="17.2" cy="31.6" r="2" fill="#12124a"/><circle cx="44" cy="24" r="2" fill="#12124a"/>
<text x="59.2" y="47" font-family="'Liberation Sans', sans-serif" font-size="32" font-weight="bold" font-style="italic" fill="#12124a" textLength="60" lengthAdjust="spacingAndGlyphs" stroke="#12124a" stroke-width="0.9" stroke-linejoin="round" >Surf</text>
<text x="120.4" y="47.5" font-family="'Liberation Serif', serif" font-size="34.5" font-weight="normal" font-style="normal" fill="#12124a" textLength="100.9" lengthAdjust="spacingAndGlyphs" >Science</text>
<text x="221.4" y="47.5" font-family="'Liberation Serif', serif" font-size="34.5" font-weight="normal" font-style="normal" fill="#12124a" textLength="70.3" lengthAdjust="spacingAndGlyphs" >.com</text>
<text x="303" y="46.7" font-family="'DejaVu Serif', serif" font-size="29" font-weight="normal" font-style="normal" fill="#12124a" textLength="134.6" lengthAdjust="spacingAndGlyphs" stroke="#12124a" stroke-width="1.05" stroke-linejoin="round" >surfboard</text>
<text x="445.4" y="46.7" font-family="'DejaVu Serif', serif" font-size="29" font-weight="normal" font-style="normal" fill="#12124a" textLength="54.5" lengthAdjust="spacingAndGlyphs" stroke="#12124a" stroke-width="1.05" stroke-linejoin="round" >wax</text>
<text x="507.3" y="46.7" font-family="'DejaVu Serif', serif" font-size="29" font-weight="normal" font-style="normal" fill="#12124a" textLength="80.6" lengthAdjust="spacingAndGlyphs" stroke="#12124a" stroke-width="1.05" stroke-linejoin="round" >guide</text>
<rect x="15" y="71.8" width="27.8" height="26" rx="2.5" fill="#ffa500" stroke="#010332" stroke-width="1.7"/>
<rect x="15" y="110.1" width="27.8" height="26" rx="2.5" fill="#ff0000" stroke="#010332" stroke-width="1.7"/>
<rect x="15" y="150.1" width="27.8" height="26" rx="2.5" fill="#3a9ad9" stroke="#010332" stroke-width="1.7"/>
<text x="53.6" y="91.8" font-family="'DejaVu Serif', serif" font-size="16.2" font-weight="normal" font-style="normal" fill="#12124a" textLength="150" lengthAdjust="spacingAndGlyphs" stroke="#12124a" stroke-width="0.7" stroke-linejoin="round" >-Where to Put Wax</text>
<text x="53.6" y="125.8" font-family="'DejaVu Serif', serif" font-size="16.2" font-weight="normal" font-style="normal" fill="#12124a" textLength="108.7" lengthAdjust="spacingAndGlyphs" stroke="#12124a" stroke-width="0.7" stroke-linejoin="round" >-Traction Pad</text>
<text x="58.6" y="147.2" font-family="'DejaVu Serif', serif" font-size="16.2" font-weight="normal" font-style="normal" fill="#12124a" textLength="114" lengthAdjust="spacingAndGlyphs" stroke="#12124a" stroke-width="0.7" stroke-linejoin="round" >(or more wax)</text>
<text x="53.6" y="166.9" font-family="'DejaVu Serif', serif" font-size="16.2" font-weight="normal" font-style="normal" fill="#12124a" textLength="120.3" lengthAdjust="spacingAndGlyphs" stroke="#12124a" stroke-width="0.7" stroke-linejoin="round" >-Optional Grip</text>
<text x="10.3" y="370.8" font-family="'DejaVu Serif', serif" font-size="13.2" font-weight="normal" font-style="normal" fill="#12124a" textLength="69.4" lengthAdjust="spacingAndGlyphs" stroke="#12124a" stroke-width="0.35" stroke-linejoin="round" >Amount Of</text>
<text x="8" y="387" font-family="'DejaVu Serif', serif" font-size="13.2" font-weight="normal" font-style="normal" fill="#12124a" textLength="73.3" lengthAdjust="spacingAndGlyphs" stroke="#12124a" stroke-width="0.35" stroke-linejoin="round" >Wax To Use</text>
<rect x="7.5" y="389" width="73.8" height="1.2" fill="#55557a"/>
<text x="18.3" y="402.2" font-family="'DejaVu Serif', serif" font-size="11.2" font-weight="normal" font-style="normal" fill="#12124a" textLength="52" lengthAdjust="spacingAndGlyphs" stroke="#12124a" stroke-width="0.3" stroke-linejoin="round" >(in sticks)</text>
<text x="10" y="425" font-family="'DejaVu Serif', serif" font-size="13.4" font-weight="normal" font-style="normal" fill="#12124a" textLength="56.7" lengthAdjust="spacingAndGlyphs" stroke="#12124a" stroke-width="0.35" stroke-linejoin="round" >Basecoat</text>
<text x="10" y="458" font-family="'DejaVu Serif', serif" font-size="13.4" font-weight="normal" font-style="normal" fill="#12124a" textLength="57.5" lengthAdjust="spacingAndGlyphs" stroke="#12124a" stroke-width="0.35" stroke-linejoin="round" >Top Coat</text>
<text x="108.75" y="386.25" font-family="'DejaVu Sans', sans-serif" font-size="12.8" font-weight="bold" font-style="normal" fill="#1f5f8f" textLength="25" lengthAdjust="spacingAndGlyphs" stroke="#1f5f8f" stroke-width="0.25" stroke-linejoin="round" >Fish</text>
<rect x="108.25" y="389" width="26" height="1.2" fill="#8ab4d4"/>
<text x="162" y="386.25" font-family="'DejaVu Sans', sans-serif" font-size="12.8" font-weight="bold" font-style="normal" fill="#1f5f8f" textLength="76" lengthAdjust="spacingAndGlyphs" stroke="#1f5f8f" stroke-width="0.25" stroke-linejoin="round" >Shortboards</text>
<rect x="161.5" y="389" width="77" height="1.2" fill="#8ab4d4"/>
<text x="266.25" y="386.25" font-family="'DejaVu Sans', sans-serif" font-size="12.8" font-weight="bold" font-style="normal" fill="#1f5f8f" textLength="48" lengthAdjust="spacingAndGlyphs" stroke="#1f5f8f" stroke-width="0.25" stroke-linejoin="round" >Hybrids</text>
<rect x="265.75" y="389" width="49" height="1.2" fill="#8ab4d4"/>
<text x="360" y="386.25" font-family="'DejaVu Sans', sans-serif" font-size="12.8" font-weight="bold" font-style="normal" fill="#1f5f8f" textLength="31.25" lengthAdjust="spacingAndGlyphs" stroke="#1f5f8f" stroke-width="0.25" stroke-linejoin="round" >Guns</text>
<rect x="359.5" y="389" width="32.25" height="1.2" fill="#8ab4d4"/>
<text x="424.25" y="386.25" font-family="'DejaVu Sans', sans-serif" font-size="12.8" font-weight="bold" font-style="normal" fill="#1f5f8f" textLength="64.95" lengthAdjust="spacingAndGlyphs" stroke="#1f5f8f" stroke-width="0.25" stroke-linejoin="round" >Funboards</text>
<rect x="423.75" y="389" width="65.95" height="1.2" fill="#8ab4d4"/>
<text x="508.2" y="386.25" font-family="'DejaVu Sans', sans-serif" font-size="12.8" font-weight="bold" font-style="normal" fill="#1f5f8f" textLength="73.4" lengthAdjust="spacingAndGlyphs" stroke="#1f5f8f" stroke-width="0.25" stroke-linejoin="round" >Longboards</text>
<rect x="507.7" y="389" width="74.4" height="1.2" fill="#8ab4d4"/>
<text x="92.2" y="425.5" font-family="'DejaVu Serif', serif" fill="#12124a" stroke="#12124a" stroke-width="0.35" textLength="60.8" lengthAdjust="spacingAndGlyphs"><tspan font-size="14">3/4 - 1 </tspan><tspan font-size="10.5">1/4</tspan></text>
<text x="175.7" y="425.5" font-family="'DejaVu Serif', serif" fill="#12124a" stroke="#12124a" stroke-width="0.35" textLength="53.3" lengthAdjust="spacingAndGlyphs"><tspan font-size="14">1/2 - 3/4</tspan></text>
<text x="261.9" y="425.5" font-family="'DejaVu Serif', serif" fill="#12124a" stroke="#12124a" stroke-width="0.35" textLength="60.9" lengthAdjust="spacingAndGlyphs"><tspan font-size="14">3/4 - 1 </tspan><tspan font-size="10.5">1/4</tspan></text>
<text x="355.4" y="425.5" font-family="'DejaVu Serif', serif" fill="#12124a" stroke="#12124a" stroke-width="0.35" textLength="46.2" lengthAdjust="spacingAndGlyphs"><tspan font-size="14">1 - 1 </tspan><tspan font-size="10.5">1/2</tspan></text>
<text x="438.4" y="425.5" font-family="'DejaVu Serif', serif" fill="#12124a" stroke="#12124a" stroke-width="0.35" textLength="46.2" lengthAdjust="spacingAndGlyphs"><tspan font-size="14">1 - 1 </tspan><tspan font-size="10.5">1/2</tspan></text>
<text x="513.5" y="425.5" font-family="'DejaVu Serif', serif" fill="#12124a" stroke="#12124a" stroke-width="0.35" textLength="65.7" lengthAdjust="spacingAndGlyphs"><tspan font-size="14">1 </tspan><tspan font-size="10.5">1/2</tspan><tspan font-size="14"> - 2 </tspan><tspan font-size="10.5">1/2</tspan></text>
<text x="97" y="457.5" font-family="'DejaVu Serif', serif" fill="#12124a" stroke="#12124a" stroke-width="0.35" textLength="52.8" lengthAdjust="spacingAndGlyphs"><tspan font-size="14">1/2 - 3/4</tspan></text>
<text x="175.7" y="457.5" font-family="'DejaVu Serif', serif" fill="#12124a" stroke="#12124a" stroke-width="0.35" textLength="53.3" lengthAdjust="spacingAndGlyphs"><tspan font-size="14">1/4 - 1/2</tspan></text>
<text x="266.4" y="457.5" font-family="'DejaVu Serif', serif" fill="#12124a" stroke="#12124a" stroke-width="0.35" textLength="53" lengthAdjust="spacingAndGlyphs"><tspan font-size="14">1/2 - 3/4</tspan></text>
<text x="347.7" y="457.5" font-family="'DejaVu Serif', serif" fill="#12124a" stroke="#12124a" stroke-width="0.35" textLength="60.3" lengthAdjust="spacingAndGlyphs"><tspan font-size="14">3/4 - 1 </tspan><tspan font-size="10.5">1/4</tspan></text>
<text x="430.8" y="457.5" font-family="'DejaVu Serif', serif" fill="#12124a" stroke="#12124a" stroke-width="0.35" textLength="60" lengthAdjust="spacingAndGlyphs"><tspan font-size="14">3/4 - 1 </tspan><tspan font-size="10.5">1/4</tspan></text>
<text x="533.9" y="457.5" font-family="'DejaVu Serif', serif" fill="#12124a" stroke="#12124a" stroke-width="0.35" textLength="24.9" lengthAdjust="spacingAndGlyphs"><tspan font-size="14">1 - 2</tspan></text>
<rect x="2.5" y="2.5" width="595" height="471" fill="none" stroke="#ffffff" stroke-width="1"/>
<rect x="1" y="1" width="598" height="474" fill="none" stroke="#010332" stroke-width="2"/>
</svg>
</body></html>
